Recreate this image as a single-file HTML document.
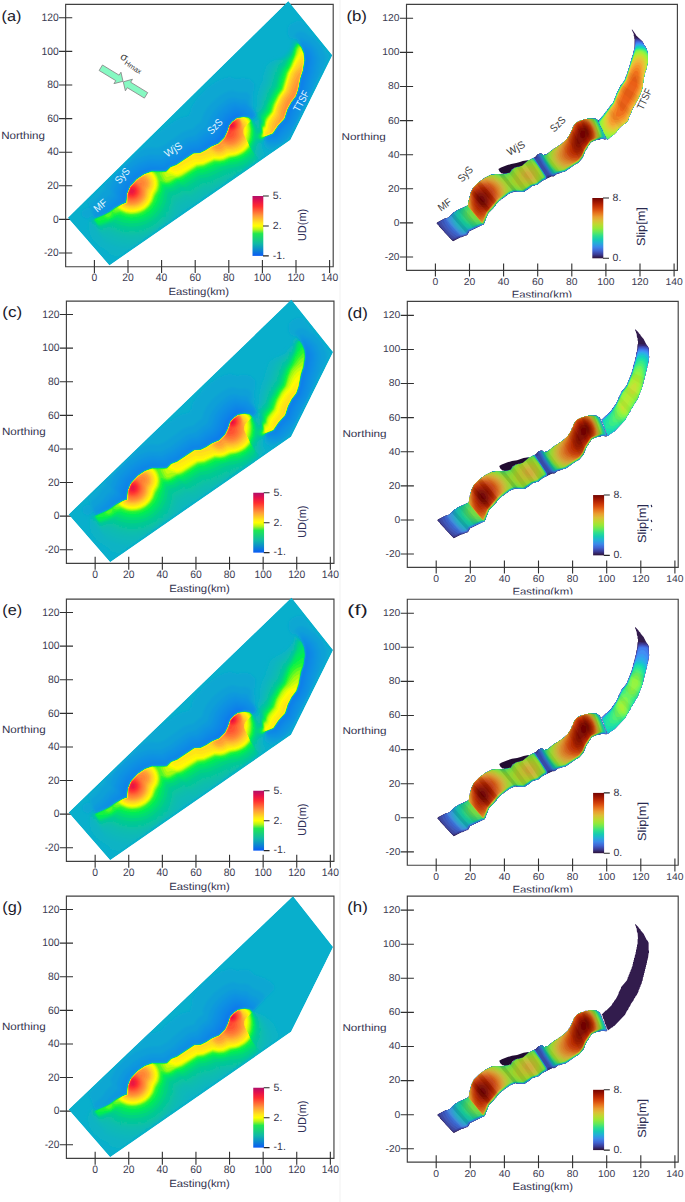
<!DOCTYPE html><html><head><meta charset="utf-8"><style>html,body{margin:0;padding:0;background:#fff}body{width:685px;height:1202px;overflow:hidden}svg{display:block}.tl{font-size:10.8px;fill:#3c3c52}.tr{font-size:9.9px;fill:#3c3c52}.al{font-size:10.4px;fill:#33334f}.al2{font-size:10px;fill:#33334f}.pl{font-size:14.9px;fill:#1a1a2a}.cb{font-size:10.5px;fill:#333348}.cbl{font-size:11.5px;fill:#303058}.cbr{font-size:11.8px;fill:#2a2a50}.fl{font-size:10.5px;fill:#e4f6ff}.fd{font-size:10.5px;fill:#3a3a3a}.sg{font-size:11px;fill:#333}</style></head><body>
<svg width="685" height="1202" viewBox="0 0 685 1202" font-family='"Liberation Sans", sans-serif' text-rendering="geometricPrecision">
<defs><filter id="bl" x="-5%" y="-5%" width="110%" height="110%"><feGaussianBlur stdDeviation="0.6"/></filter><filter id="b2" x="-5%" y="-5%" width="110%" height="110%"><feGaussianBlur stdDeviation="0.9"/></filter><filter id="b3" x="-5%" y="-5%" width="110%" height="110%"><feGaussianBlur stdDeviation="1.8"/></filter><linearGradient id="gud" x1="0" y1="0" x2="0" y2="1"><stop offset="0" stop-color="#b0106a"/><stop offset="0.08" stop-color="#e4104c"/><stop offset="0.17" stop-color="#ff2c30"/><stop offset="0.33" stop-color="#ff9a3a"/><stop offset="0.45" stop-color="#ffe81a"/><stop offset="0.5" stop-color="#ffff00"/><stop offset="0.56" stop-color="#b4f41a"/><stop offset="0.63" stop-color="#20e850"/><stop offset="0.8" stop-color="#10b8a8"/><stop offset="1" stop-color="#0a5af5"/></linearGradient><linearGradient id="gsl" x1="0" y1="0" x2="0" y2="1"><stop offset="0" stop-color="#710402"/><stop offset="0.0625" stop-color="#9c1401"/><stop offset="0.125" stop-color="#bf2b04"/><stop offset="0.1875" stop-color="#d84a0d"/><stop offset="0.25" stop-color="#e7741e"/><stop offset="0.3125" stop-color="#e99e30"/><stop offset="0.375" stop-color="#dbbf35"/><stop offset="0.4375" stop-color="#bdd930"/><stop offset="0.5" stop-color="#97e837"/><stop offset="0.5625" stop-color="#64e95a"/><stop offset="0.625" stop-color="#2edf8c"/><stop offset="0.6875" stop-color="#16cbb3"/><stop offset="0.75" stop-color="#25add9"/><stop offset="0.8125" stop-color="#3d88ea"/><stop offset="0.875" stop-color="#4163d1"/><stop offset="0.9375" stop-color="#3b3b95"/><stop offset="1" stop-color="#2d1136"/></linearGradient><clipPath id="ec"><rect x="400" y="280" width="285" height="17.5"/></clipPath><g id="rm"><g filter="url(#bl)"><path fill="#2c1745" d="M453 241.3l-13.8-14.8 0-.5-2.5-2.5 0-.5 .8-.8 7-3.6 1 0 .5-.5 1 0 2-1 5-5 1.5-.5 1-1 11-5 .5-.6 .5-4.5 .5-.5 0-1.5 .5-.5 0-1.5 .5-.5 .5-3 2.5-5 6.5-6.5 .5 0 1.5-1.5 .5 0 2.5-2 7-3.5 3 .1 .5-.5 8 0 .5-.5 3.5 0 .5-.5 2 0 3.1-3.6 2.4-1.9 6-1.6 1-1 2-1 4.5-3.9 1 0 3.5-2 2.5-1 .1-.6 2.4-2.4 1 0 .5-.5 2 0 1.5 1.5 1 0 .5-.5 2 0 5-4.1 .5 0 1.5-1.5 3.5-2 1-1 .5 0 1-1 .5 0 1-1 .5 0 5.5-5 1-2 1-1 .5-1.5 1-1 .5-2 1.5-2.5 0-1 1-2 3-3.5 4-2 2.5-.5 1.5-1 2.5 0 .5-.5 8 .1 3.9 2.4 0 1 1 1.5 0 1 1 1.5 0 1 1 1.5 0 1 1 1.5 0 1 1 1.5 0 1 1 1.5 0 1 1 2-.4 .4-2 0-.5-.5-3 0-.5 .5-4 .5-1.5 1-1 0-2 1-1.6 1.6 0 .5-2 2.5-.5 1.5-1 1-.5 1.5-1 1 0 1-1 1.5 0 1-1.5 3-4.4 4.9-3 1.5-10 7-1 .5-1.5 0-.5 .5-1 0-2 1-1.5 0-4 3-2-.1-9.5 4.6-5 4-1.5 0-2 1-1.5 0-3.5 3-3.5 2-1 1-8 0-.5-.5-1 0-.5 .5-2.5 .5-3 1.5-2.5 2-.5 0-1.5 1.5-.5 0-1.5 1.5-.5 0-2 2-.5 0-.6 1.1-2.5 2.5 0 .5-2.5 2.5 0 .5-5 5-1.5 3 0 1-1 1.5 0 1-1 1.5 0 1-1 2-.9 .9-1 0-13 6.5-1.1 2.6-1.4 1.4-1 0-4 1.9-1 0z"/><path fill="#322667" d="M454 240.5l-1 .5-4.1-4 0-.5-4.5-4.5 0-.5-5-5 0-.5-2.5-2.5 0-.5 7.6-4.2 1 0 .5-.5 1-.1 2-1 5-5 1.5-.5 1-1 11-5.1 .6-.6 .5-4.5 .5-.5 0-1.5 .5-.5 0-1.5 .5-.5 .5-3 2.5-5 6.4-6.4 .5 0 1.5-1.5 .5 0 2.5-2 7-3.5 3 0 .5-.5 8 0 .5-.5 3.5 0 .5-.5 2 0 3.1-3.6 2.4-1.9 6-1.5 1-1 2-1 4.5-4 1 0 3.5-1.9 2.5-.9 .3-.8 2.2-2.2 1-.1 .5-.5 2 0 1.5 1.5 1 0 .5-.6 2 0 5-4 .5 0 1.5-1.5 3.5-2 1-1 .5 0 1-1 .5 0 1-1 .5 0 5.6-5.1 1-2 1-1 .5-1.5 1-1 .5-2 1.5-2.5 0-1 1-2 2.9-3.4 4-2 2.5-.5 1.5-1 2.5 0 .5-.5 8 .1 3.8 2.3 0 1 1 1.5 0 1 1 1.5 0 1 1 1.5 0 1 1 1.5 0 1 1 1.5 0 1 1 1.5 0 1 .9 2-2.2 .2-.5-.4-3 0-.5 .5-4 .5-1.5 1-1 .1-2 .9-1.6 1.7-.1 .5-1.9 2.5-.6 1.5-.9 1-.6 1.5-.9 1-.1 1-.9 1.5-.1 1-1.5 3-4.3 4.8-3 1.5-10 7-1 .5-1.5 0-3.5 1.4-1.5 .1-1 .5-2 1.9-1 .5-2-.1-2.5 1.4-1 .1-2.5 1.6-3.5 1.6-5 4-1.5 0-2 1-1.5 0-3.5 3-3.5 2-1 1-8-.1-.5-.4-1 0-6 2.5-4.5 3.5-.5 0-1.5 1.5-.5 0-2 2-.5 0-3.2 3.7 0 .5-2.4 2.5-.1 .5-5 5-1.5 3 0 1-1 1.5 0 1-1 1.5 0 1-1.3 2.3-14.5 6.9-1.3 2.8-1.2 1.2-1 0-4 1.9-1 0z"/><path fill="#363789" d="M454 239.6l-2 .3-.5-.4-7.1-7.5 0-.5-4.9-5 0-.5-2.5-2.5 0-.5 7.5-4.2 1 0 .5-.5 1 0 2-1 5-5.1 1.5-.5 1-1 11-5 .6-.7 .5-4.5 .5-.5 0-1.5 .5-.5 0-1.5 .5-.5 .5-3 2.5-5 6.4-6.4 .5 0 1.5-1.5 .5 0 2.5-2 7-3.5 3 0 .5-.5 8 .1 .5-.5 3.5 0 .5-.5 2 0 3.1-3.7 2.4-1.9 6-1.5 1-1 2-1 4.5-3.9 1 0 3.5-2 2.5-.8 .4-.9 2.1-2.2 1 0 .5-.5 2-.1 1.5 1.5 1 0 .5-.5 2 0 5-4.1 .5 0 1.5-1.5 3.5-2 1-1 .5 0 1-1 .5 0 1-1 .5 0 5.6-5.1 1-2 1-1 .5-1.5 1-1 .5-2 1.5-2.5 0-1 1-2 2.9-3.4 4-2 2.5-.5 1.5-1 2.5 0 .5-.5 8 .1 3.7 2.3 .1 1 1 1.5 0 1 1 1.5 0 1 1 1.5 0 1 1 1.5 0 1 1 1.5 0 1 1 1.5 0 1 .9 2-5.7-.2-.5 .4-4 .6-1.5 1-1 0-2 1-1.7 1.7 0 .5-2 2.5-.5 1.5-1 1-.5 1.5-1 1 0 1-1 1.5 0 1-1.5 3-4.3 4.8-3 1.5-10 7-1 .4-1.5 .1-3.5 1.4-1.5 0-4 2.9-2 0-.5 .4-1.5 .2-4 2.5-3.5 1.6-5 3.9-1.5 .1-2 .9-1.5 .1-3.5 2.9-3.5 2.1-1 .9-8 0-.5-.4-1 0-6 2.5-4.5 3.5-.5 0-1.5 1.5-.5 0-2 2-.5 0-3.2 3.7 0 .5-2.5 2.5 0 .5-5 5-1.5 3 0 1-1 1.5 0 1-1 1.5 0 1-1.3 2.3-14.5 6.8-1.4 2.9-1.1 1.1-1 0-1.5 1-1 0-1.5 .9-1 .1-1.5 .9z"/><path fill="#3945a2" d="M454.5 238.5l-2.3 0-5.7-5-5.7-7-2.3-4.5 6-3.1 1 0 .5-.6 1 0 2-1 5-5 1.5-.6 1-1 4-2 1 0 6-3 .6-.7 .5-4.5 .5-.5 0-1.5 .5-.5 0-1.5 .5-.5 .5-3 2.5-5 6.4-6.4 .5 0 1.5-1.5 .5 0 2.5-2 7-3.4 3 0 .5-.5 8 0 .5-.5 3.5 0 .5-.5 2 0 3.2-3.7 .8-.3 1.5-1.5 6-1.5 1-1 2-1 4.5-4 1 0 3.5-2 2.5-.7 2.5-3.1 1-.1 .5-.5 2-.1 1.5 1.5 1 0 .5-.5 2 0 5-4 .5 0 1.5-1.6 3.5-2 1-1 .5 0 1-1 .5 0 1-1 .5 0 5.6-5.1 1-2 1-1 .5-1.5 1-1 .5-2 1.5-2.5 0-1 1-2 2.9-3.4 4-2 2.5-.5 1.5-1 2.5 0 .5-.5 8 .1 2 1.5 1.7 .8 0 1 2 4 .1 1 .9 1.5 .1 1 .9 1.5 .1 1 .9 1.5 .1 1 .9 1.5 0 1 .9 2-5.6-.3-.5 .5-4 .6-1.5 1-1 0-2 1-1.7 1.7 0 .5-2 2.5-.5 1.5-1 1-.5 1.5-1 1 0 1-1 1.5 0 1-1.5 3-4.3 4.8-3 1.5-4 2.9-.5 .1-1.5 1.4-5 3-1.5 0-3.5 1.5-1.5 0-4 2.8-4.5-.1-1.5 .8-.6 .3-.4 1.6-4.5 2.1-5 4-1.5 .1-2 .9-1.5 0-3.5 3-4.5 3-8 0-.5-.5-1 0-6 2.5-4.5 3.5-.5 .1-1.5 1.4-.5 .1-2 2-.5 0-3.2 3.7 0 .5-2.5 2.5 0 .5-5 5-1.5 3 0 1-1 1.5 0 1-1 1.5-.1 1-1.2 2.3-14.5 6.8-1.4 2.9-1.1 1-1 .1-3 1.4z"/><path fill="#3b52b6" d="M455 237.5l-4.5-3.1-5-5.3-2.9-4.1-1.7-4 3.6-2.1 1 0 .5-.5 1 0 2-1.1 5-5 1.5-.5 1-1 11-5.1 .6-.7 .5-4.5 .5-.5 0-1.5 .5-.5 0-1.5 .5-.5 .5-3 2.5-5 6.4-6.4 .5 0 1.5-1.5 .5 0 2.5-2 7-3.4 3 0 .5-.5 8 0 .5-.5 3.5 0 .5-.5 2 0 3.2-3.7 .8-.3 1.5-1.5 6-1.5 1-1 2-1 4.5-4 1 0 4.5-2.3 2.5 .8 1-.6-.6-2.1 1.1-1.6 1 0 .5-.6 2 0 1.5 1.4 1 0 .5-.5 2 0 5-4 .5 0 1.5-1.5 3.5-2 1-1 .5 0 1-1 .5-.1 1-1 .5 0 5.6-5.1 1-2 1-1 .5-1.5 1-1 .5-2 1.5-2.5 0-1 1-2 2.9-3.4 4-2 2.5-.5 1.5-1 2.5 0 .5-.5 8 .1 2 1.6 1.7 .7 0 1 2 4 0 1 1 1.5 0 1 1 1.5 0 1 1 1.5 0 1 1 1.5 0 1 .9 1.5 0 .5-5.6-.3-.5 .4-4 .7-1.5 .9-1 .1-2 1-1.7 1.7-2 3-.6 1.5-.9 1-.6 1.5-.9 1-.1 1-2.5 5.5-4.2 4.7-3 1.6-4.5 2.9-1.5 1.5-5 3-1.5 0-3.5 1.4-1.5 .1-3 2.3-1 .4-5.5-.8-1.5 1.1 0 2.3-4.5 2.2-5 4-1.5 0-2 1-1.5 0-3.5 3-4.5 2.9-8 0-.5-.4-1 0-6 2.5-4.5 3.5-.5 0-1.5 1.5-.5 0-2 2-.5 .1-3.2 3.7-.1 .5-2.4 2.5-.1 .5-4.9 5-4.8 11.2-1.5 .5-13 6.3-1.5 3-1 .9z"/><path fill="#3c62c8" d="M553.5 175.5l-3.9-1-1.7-2-5.8-8.5-4.6-9 2-1.1 2-.1 1.5 1.5 1 0 .5-.6 2 0 5-4 .5 0 1.5-1.5 3.5-2 1-1 .5 0 1-1 .5 0 1-1 .5 0 2-2 .5 0 3.1-3.2 1-2 1-1 .5-1.5 1.5-2 0-1 1.5-2.5 0-1 1-2 2.9-3.4 4-2 2.5-.5 1.5-1 2.5 .1 .5-.5 8 .1 2 1.5 1.5 .6 .2 1.1 1 1.5 0 1 1 1.5 0 1 1 1.5 0 1 1 1.5 0 1 1 1.5 0 1 1 1.5 0 1 .9 1.5-.1 .5-2 0-.5-.4-3 0-.5 .5-4 .6-1.5 1-1 .1-2 .9-1.7 1.8-2 3-.6 1.5-.9 1-.6 1.5-.9 1-.1 1-2.5 5.5-4.2 4.7-4.5 2.5-7.5 5.4-2 1-1.5 .1-3.5 1.4-1.5 0-2.5 1.9zM459 236l-2 .2-1.5-.9-3-2.2-3.3-3.1-4.2-6-1.5-4.5 5.5-2.1 5-5.1 1.5-.5 1-1 11-5.1 .7-.7 0-2 .5-.5 0-2 .5-.5 0-1.5 .4-.5 .5-3.5 3-6.5 6.4-6.4 .5 0 1.5-1.4 .5 0 2.5-2 7-3.5 3 0 .5-.5 8 0 .5-.5 3.5 0 .5-.5 2 0 3.2-3.7 .8-.3 1.5-1.5 6-1.5 1-1 2-1 4.5-4 1 0 2.5-1.5 2.2-.7 6.2 9 4.9 8 .6 1 .4 2.5-4.3 2.1-5 4-1.5 .1-2 .9-1.5 .1-3.5 2.9-4.5 3-8 0-.5-.4-1 0-6 2.5-4.5 3.5-.5 0-1.5 1.5-.5 0-2 2-.5 0-3.3 3.8 0 .5-2.4 2.5-.1 .5-5 5-4.7 11.2-1.5 .4-13 6.4-1.8 3-.7 .4-3.5 1.1z"/><path fill="#3c6fd3" d="M554 175.1l-1.5 0-1.5-.5-1.6-1.6-6.2-9-5-9.5 .8 0 .5-.6 2-.1 1.5 1.5 1 0 .5-.5 2-.1 5-4 .5 0 1.5-1.5 3.5-2 1-1 .5 0 1-1 .5 0 1-1 .5 0 2-2 .5 0 3.2-3.2 1-2 1-1 .5-1.5 1.5-2 0-1 1.5-2.5 0-1 1-2 2.8-3.4 4-1.9 2.5-.5 1.5-1 2.5 0 .5-.5 8 .1 2 1.5 1.5 .6 .1 1.1 1 1.5 .1 1 .9 1.5 .1 1 .9 1.5 .1 1 .9 1.5 .1 1 .9 1.5 .1 1 .9 1.5 0 1 .9 1.8-5.5-.2-.5 .5-4 .6-1.5 1-1 0-2 1-1.8 1.8-2 3-.5 1.5-1 1-.5 1.5-1 1 0 1-2.5 5.5-4.2 4.7-4.5 2.5-7.5 5.4-2 1-1.5 0-3.5 1.4-1.5 .1zM463 235.1l-4 .2-6-4.7-4.6-5.6-3.1-6 3.7-1.6 5-5 1.5-.6 1-1 4-2 1 0 5-2.5 1.7-1.3 0-2 .5-.5 0-2 .5-.5 0-1.5 .5-.5 .5-3.5 2.9-6.5 6.4-6.3 .5 0 1.5-1.5 .5 0 2.5-2 7-3.5 3 0 .5-.5 8 .1 .5-.5 3.5-.1 .5-.5 2 0 3.2-3.7 .8-.3 1.5-1.5 6-1.5 1-1 2-1 4.5-4 1 0 2.5-1.4 2-.7 11.7 17.9 .3 2.5-4 2.1-5 4-5 1.1-3.5 2.9-4.5 3-8-.1-.5-.4-1 0-4 1.5-5 3.1-7 5.5-.3 .8-2.5 2.5 0 .5-2.5 2.5 0 .5-5 5-4.7 11.2-14.5 6.4-2.5 3.4z"/><path fill="#387ed8" d="M554.5 174.5l-2 .3-1.6-.8-.9-1.1-6.5-9.6-4.6-8.8 .6-.5 2-.1 1.5 1.4 1 0 .5-.5 2 0 7-5.6 3.5-2 1-1 .5 0 1-1 .5 0 1-1 .5 0 2-2 .5 0 3.2-3.2 1-2 1-1 .5-1.5 1.5-2 0-1 1.5-2.5 0-1 1-2 2.8-3.3 4-2 2.5-.5 1.5-1 2.5 0 .5-.5 8 .1 2 1.6 1.5 .5 .1 1.1 1 1.5 0 1 1 1.5 0 1 1 1.5 0 1 1 1.5 0 1 1 1.5 0 1 1 1.5 .4 2.5-3.5-.1-4 .7-6.5 2.6-1.8 1.8-2 3-.5 1.5-1 1-.5 1.5-1 1 0 1-2.5 5.5-4.2 4.6-3 1.6-10 6.9-6 1.8-1.5 .1zM463.5 234.6l-3 .3-5-4.1-5.6-6.3-3.2-6 2.3-1 5-5.1 1.5-.5 1-1 4-2.1 1 0 5-2.5 1.7-1.3 0-2 .5-.5 0-2 .5-.5 0-1.5 .5-.5 .5-3.5 3-6.5 6.3-6.3 .5 0 1.5-1.5 .5 0 2.5-2 7-3.5 3 0 .5-.4 8 0 .5-.5 3.5 0 .5-.5 2 0 3.3-3.8 .7-.2 1.5-1.6 3-.5 .5-.5 1.5 0 3.5-2.5 .5 0 4.5-3.9 1 0 3.5-2 1 0 11.5 17.7 .4 2-.4 .9-3.5 1.7-5 3.9-5 1.1-3.5 2.9-4.5 3-7.2 0-2.3-.4-4 1.5-5 3-7 5.6-.4 .8-2.4 2.5 0 .5-2.5 2.5 0 .5-5 5-4.7 11.1-15 6.4-2 3.1z"/><path fill="#318bd6" d="M555 174.1l-2.5 .3-.9-.4-.8-1-6.8-10-4.5-9 2-.1 1.5 1.5 1-.1 .5-.5 2 0 7-5.6 3.5-2 1-1 .5 0 1-1 .5 0 1-1 .5 0 2-2 .5 0 3.2-3.2 1-2 1-1 .5-1.5 1.5-2 0-1 1.5-2.5 0-1 1-2 2.8-3.3 4-2 2.5-.5 1.5-1 2.5 0 .5-.5 8 .1 2 1.6 1.5 .6 .1 1 1 1.5 0 1 1 1.5 0 1 1 1.5 0 1 1 1.5 0 1 1 1.5 0 1 1 1.5 .4 2.2-3.5 0-2.2 .8-1.8 .1-6.5 2.6-1.8 1.8-2 3-.6 1.5-.9 1-.6 1.5-.9 1-.1 1-2.5 5.5-4.1 4.6-3 1.5-10 7-8.5 2.1zM464 234l-2.5 .3-6-5-4.8-5.8-1.9-3.5-.4-2 .1-.5 .5 0 5-5.1 1.5-.5 1-1 4-2 1-.1 5-2.5 1.7-1.3 0-2 .5-.5 0-2 .5-.5 0-1.5 .5-.5 .5-3.5 3-6.5 6.3-6.3 .5 0 1.5-1.5 .5 0 2.5-2 7-3.4 3 0 .5-.5 8 0 .5-.5 3.5 0 .5-.5 2 0 3.3-3.8 .7-.2 1.5-1.5 3-.5 .5-.5 1.5 0 3.5-2.5 .5 0 4.5-4 1 0 3.5-1.9 .9 .1 11.5 17.5 .3 2-.2 .6-3.5 1.9-5 4-5 1.1-3.5 2.9-4.6 3-9.4-.4-4 1.4-5 3.1-7 5.5-.4 .9-2.4 2.5-.1 .5-2.4 2.5-.1 .5-4.9 5-4.7 11.1-15 6-2 2.9z"/><path fill="#2897cf" d="M554 174l-1.5 .1-.5-.4-3.2-4.2-5.4-8.5-3.4-7 1.5-.1 1.5 1.5 1 0 .5-.6 2 0 7-5.5 3.5-2.1 1-1 .5 0 1-1 .5 0 1-1 .5 0 2-2 .5 0 3.2-3.2 1-2 1-1 .5-1.5 1.5-2 0-1 1.5-2.5 0-1 1-2 2.8-3.3 4-2 2.5-.5 1.5-1 2.5 0 .5-.5 8 .2 3.3 2.1 6.7 16.8-3.5 .2-4 1.1-.5 .4-1.5 .1-1.5 1-1 .1-2 .9-1.8 1.9-2 3-.6 1.5-.9 1-.6 1.5-.9 1-.1 1-2.5 5.5-4.1 4.6-3 1.5-10 6.9-8.5 2zM464.5 233.5l-1.5 0-3.5-2.2-2.7-2.3-3.2-3.5-2.6-4.5-.5-2 0-3 3.5-3.6 1.5-.5 1-1 4-2 1 0 5-2.6 1.7-1.3 0-2 .5-.5 0-2 .5-.5 0-1.5 .5-.5 .5-3.5 3-6.5 6.3-6.3 .5 0 1.5-1.5 .5 0 2.5-2 7-3.4 3 0 .5-.5 8 0 .5-.5 3.5 0 .5-.5 2 0 3.3-3.8 .7-.2 1.5-1.5 3-.5 .5-.5 1.5 0 3.5-2.5 .5 0 4.5-4 1 0 3.5-1.9 .8 .1 11.4 17.5 .3 2.3-3.5 2.2-5 3.9-5 1.2-8.5 5.9-9-.5-4 1.5-5 3.1-7 5.5-2.9 3.4 0 .5-2.4 2.5-.1 .5-5 5-4.6 11.1-1.5 .2-14 5.7-2 2.9z"/><path fill="#1ea5c2" d="M554.5 173.6l-2 0-3.1-4.1-5.7-9-3.1-6.5 .9-.1 1.5 1.5 1 0 .5-.5 2-.1 7-5.5 3.5-2 1-1 .5 0 1-1 .5-.1 1-1 .5 0 2-2 .5 0 3.2-3.2 1-2 1-1 .5-1.5 1.5-2 0-1 1.5-2.5 0-1 1-2 2.8-3.3 4-2 2.5-.5 1.5-1 2.5 0 .5-.5 8 .2 2.5 1.6 3 5.5 0 1 1 1.5 0 1 1 1.5 0 1 1 1.5 0 1 .9 1.5 .4 1.5-3.8 .4-4.2 1.6-1.3 .1-1.5 1-1 0-2 1-1.9 1.9-2.5 4.5-1 1-.5 1.5-.9 1-.1 1-2.5 5.5-4.1 4.6-3 1.5-10 6.8-8.5 1.9zM466 232.2l-.5 .3-2.5-.9-2.5-1.4-2.5-2-2.9-3.2-2.2-4.5-.3-6.5 1.4-1.5 1.5-.5 1-1.1 10-4.5 1.7-1.4 0-2 .5-.5 0-2 .5-.5 0-1.5 .5-.5 .5-3.5 3-6.5 6.3-6.3 .5 0 1.5-1.5 .5 0 2.5-2 7-3.4 3 0 .5-.5 8 0 .5-.4 3.5-.1 .5-.5 2 0 3.3-3.8 .7-.2 1.5-1.5 3-.5 .5-.5 1.5 0 3.5-2.5 .5 0 4.5-4 1 0 2.5-1.4 1.6-.4 10.6 16 1.2 2 .1 1.5-3.8 2.5-4.3 3.5-5.4 1.5-8.5 5.8-9-.4-1.5 .3-2.9 1.3-4.6 3-7 5.6-2.9 3.4 0 .5-2.5 2.5 0 .5-5 5-4.6 11.1-1.5-.1-14 5.6z"/><path fill="#17b0b5" d="M555 173.1l-2 .2-3.1-3.8-5.7-9-3.1-6.5 1.9 1.4 1 0 .5-.5 2 0 7-5.6 3.5-2 1-1 .5 0 1-1 .5 0 1-1 .5 0 2-2 .5-.1 3.2-3.2 1-2 1-1 .5-1.5 1.5-2 0-1 1.5-2.5 0-1 1-2 2.8-3.3 4-2 2.5-.5 1.5-1 2.5 0 .5-.4 3 0 5 .1 1 .6 1.5 1.5 3.8 7.5 2.1 5.5 .6 3.3-3 .4-5.5 1.9-4.9 2.4-1.5 1.5-5 8 0 1-2.6 5.5-4 4.5-3 1.6-10 6.6zM467.5 229.5l-.5 .5-1.5-.1-3-.9-2.3-1.5-2-2-1.5-2-1.8-4.5-.5-3.5 .2-2.5 .4-1 .5 0 1-1 10-4.6 1.8-1.4 0-2 .5-.5-.1-2 .5-.5 0-1.5 .5-.5 .5-3.5 3-6.5 6.3-6.3 .5 0 1.5-1.5 .5 0 2.5-1.9 7-3.5 3 0 .5-.5 8 .1 .5-.5 3.5 0 .5-.5 2-.1 3.3-3.8 .7-.2 1.5-1.5 6-1.5 1-1 2-1 4.5-4 1 0 2.5-1.4 1.4-.4 10.7 16 1.2 2-.1 1.5-8.2 6-5.5 1.6-8.5 5.7-9-.5-1.5 .4-3.5 1.7-7.5 5.6-2 2-.5 .1-5.9 6.9-.1 .5-4.9 5-4.6 11-1.5-.2z"/><path fill="#14bca5" d="M554 173.1l-.7-.1-.8-1-4-5.3-3.8-6.2-2.6-5.5 .9 .5 1-.1 .5-.5 2 0 7-5.6 3.5-2 1-1 .5 0 1-1 .5 0 1-1 .5 0 2-2 .5 0 3.3-3.3 .9-2 1-1 .5-1.5 1.5-2 0-1 1.5-2.5 0-1 1-2 2.8-3.3 4-2 2.5-.5 1.5-1 2.5 .1 .5-.5 3 0 5 .1 1 .6 1.7 2.5 3 6 2 5.5 .8 3.5-2.5 .5-5.5 2-5 2.5-1.4 1.5-5 8-.1 1-2.5 5.5-4 4.5-3 1.5-10 6.5zM469 228.5l-5.5-1.9-3.5-2.7-1.5-2.1-1.3-2.8-.7-2.5-.1-3 .4-2.5 .7-.5 9-4.1 1.8-1.4 0-2 .5-.5 0-2 .5-.5 0-1.5 .4-.5 .5-3.5 3-6.5 6.3-6.2 .5-.1 1.5-1.4 .5 0 2.5-2 6-3 1-.5 3 0 .5-.4 8 0 .5-.5 3.5 0 .5-.5 2 0 3.4-3.9 .6-.1 1.5-1.6 6-1.5 1-1 2-1 4.5-3.9 1 0 3.7-1.9 10.7 16 1.2 2-.1 1.3-8 6-5.6 1.7-8.4 5.6-9-.4-1.5 .3-3.5 1.7-10 7.8-5.9 7-.1 .5-4.9 5-4.6 11-1.5-.4z"/><path fill="#17c399" d="M555 172.5l-1.5-.2-4-4.9-3.4-5.4-3.3-6.5 1.2 0 .5-.6 2 0 7-5.6 3.5-2 1-1 .5 0 1-1 .5 0 1-1 .5 0 2-2 .5 0 3.3-3.3 1-2 1-1 .5-1.5 1.5-2 0-1 1.4-2.5 0-1 1-2 2.8-3.3 4-2 2.5-.5 1.5-.9 2.5 0 .5-.5 3 0 5 .2 .8 .5 5.1 10 1.3 4 .7 3.5-1.9 .3-8 3.3-2 .9-1 1-5.9 9-.1 1-2.5 5.4-3.5 4.1-13.8 8.5zM471 227.5l-3-.9-2.5-1.3-4-3.3-1.5-2-1.1-2.5-.6-4.5 1.2-3.5 2-.5 5-2.6 1.8-1.4 0-2 .5-.5 0-2 .5-.5 0-1.5 .5-.5 .5-3.5 2.9-6.5 6.3-6.2 .5 0 1.5-1.5 .5 0 3.5-2.5 6-3 3 .1 .5-.5 8 0 .5-.5 3.5 0 .5-.5 2 0 3.4-3.9 .6-.1 1.5-1.5 6-1.6 1-.9 2-1 4.5-4 1 0 3.6-1.9 9.5 14 2.4 4 0 1.1-8 6-5.9 1.9-8.1 5.4-9-.4-2 .5-3.5 1.8-9.5 7.7-6.1 7.5-4.9 5-4.5 10.7-1.9-.2z"/><path fill="#21ca8b" d="M555.5 172.1l-1 .1-1-.8-3.5-4.1-3.7-5.8-3-6 .7 0 .5-.5 2-.1 7-5.5 3.5-2.1 1-1 .5 0 1-1 .5 0 1-1 .5 0 2-2 .5 0 3.3-3.3 1-2 1-1 .5-1.5 1.5-2 0-1 1.5-2.5 0-1 1-2 2.7-3.2 4-2 2.5-.5 1.5-1 2.5 0 .5-.5 8 .2 2.7 4.5 2.7 6 1.6 5.5 0 1.9-9 3.6-3 1.8-5.9 9.2-2.1 5.5-4 4.9-14 8.5zM473 226.5l-3.5-1-4.8-3-3-3.5-.9-2-.6-3 .3-2.5 1-2.5 6-3.1 .8-.9 0-2 .5-.5 0-2 .5-.5 0-1.5 .5-.5 .5-3.5 3-6.5 6.2-6.2 .5 0 1.5-1.5 .5 0 2.5-2 5-2.5 2-.9 3 0 .5-.5 8 0 .5-.5 3.5 0 .5-.5 2 0 3.4-3.9 .6-.1 1.5-1.5 6-1.5 1-1 2-1 4.5-4 1 0 3.5-1.7 9.4 13.8 2.4 4-.1 1-7.7 5.9-6 1.9-8 5.4-9.5-.3-5 2.2-10 8.3-5.7 7.1-4.8 5-4.5 10.5-.5 .3-1.5-.5z"/><path fill="#33d079" d="M558.5 171.6l-3.5 0-3.5-3.2-3.5-4.9-2.9-5-.9-2.5 .3-1 2 0 1-1.1 .5 0 5.5-4.5 3.5-2.1 1-1 .5 0 1-1 .5 0 1-1 .5 0 5.5-5 2.3-3.3 .5-1.5 1-1 .5-2 1.5-2.5 0-1 1-2 2.7-3.2 4-2 2.5-.5 1.5-1 2.5 0 .5-.5 7.5 .2 2 3 2.7 5.5 1.9 5.5 .5 3.5-11.6 5.7-6 9.3-2 5.3-3.7 4.7-14.3 8.7zM476.5 225l-1.5 .3-3.4-.8-2.6-1.1-2.2-1.4-2.1-2-1.3-2-1.1-3.5 .4-3.5 1.1-2.5 1.3-1.5 2.4-1.1 .8-.9 0-2 .5-.5 0-2 .5-.5 0-1.5 .5-.5 .5-3.5 3-6.5 6.2-6.2 .5 0 1.5-1.5 .5 0 2.5-2 7-3.4 3 0 .5-.5 8 .1 .5-.5 3.5-.1 .5-.5 2 0 3.4-3.9 .6-.1 1.5-1.5 3-.5 .5-.5 1.5 0 3.5-2.5 .5 0 4.5-4 1 0 2.5-1.4 1-.1 9.3 13.6 2.4 4-.2 .9-7.5 5.8-6 1.9-8.5 5.6-9-.5-2.5 .8-2.6 1.5-9.9 8.2-5.9 7.3-4.6 5-4.7 10.5-.8 .1-1-.5z"/><path fill="#45d467" d="M557.5 171.6l-1.5-.1-3-2.4-2.5-2.8-4.6-7.3-.7-2-.2-2 1.5 0 7-5.6 3.5-2 1-1 .5 0 1-1 .5-.1 1-1 .5 0 5.8-5.3 1-2 1-1 .5-1.5 1-1 .5-2 1.5-2.5 0-1 1-2 2.7-3.2 4-2 2.5-.5 1.5-1 2.5 0 .5-.5 6.8 .2 2.7 3.8 2 4.2 1.9 5.5 .7 4-11.1 5.5-6 9.5-2 5.1-3.9 4.9-14.1 8.5zM478.5 224l-1.5 .1-3-.6-5.3-2.5-2.1-2-1.3-2-.7-2-.1-2.5 .4-2 2.6-3.5-.4-1 1.2-1 0-2 .5-.5 0-2 .5-.5 0-1.5 .5-.5 .5-3.5 3-6.5 6.2-6.2 .5 0 1.5-1.5 .5 0 2.5-2 7-3.4 3 0 .5-.5 8 .1 .5-.5 3.5 0 .5-.5 2 0 3.4-4 .6-.1 1.5-1.5 3-.5 .5-.5 1.5 0 3.5-2.5 .5 0 4.5-3.9 1 0 2.5-1.5 1 .5 2.5 2.9 4 5.9 5.1 8.2-.1 .6-8 6.2-5.5 1.6-8.5 5.6-9-.4-2.9 .9-2.6 1.5-9.5 8-6 7.4-4.5 4.9-4.9 10.7-1.6-.6z"/><path fill="#5dd754" d="M559.5 171l-3 .1-5-4.6-4.4-6.5-1-3 .1-2 1.8-1 1.5-1.5 .5-.1 1.5-1.5 .5 0 1.5-1.5 3.5-2 1-1 .5 0 1-1 .5 0 1-1 .5 0 5.8-5.4 1-2 1-1 .5-1.5 1-1 .5-2 1.5-2.5 0-1 1-2 2.7-3.2 4-2 2.5-.5 1.5-1 2.5 0 .5-.5 6.2 .2 2.6 3.5 2.3 4.5 1.8 5.5 .6 4-10.5 5.4-5.5 8.6-2.6 6-3.9 4.9-14 8.4zM483 223.4l-2-.9-5.5-.3-3-1.1-2-1.3-1.9-1.8-1.2-2-.7-2 .2-2.5 1.8-3-.2-1-1.1-1.5 1-1 0-2 .4-.5 0-2 .5-.5 0-1.5 .5-.5 .5-3.5 3-6.5 6.2-6.2 .5 0 1.5-1.5 .5 0 2.5-1.9 7-3.5 3 0 .5-.4 4.7 0 3.3 .6 2.7-1.1 1.3 0 .5-.5 2 0 3.5-4 .5 0 1.5-1.5 6-1.6 1-1 2-1 4.5-3.9 1 0 1.5-1 1 0 2 1.5 4 5.2 5.5 8.7 .7 1.6-.3 1-2.9 1.8-4.5 3.8-5.5 1.7-8.5 5.5-9-.5-4 1.6-3 2-8.2 7.1-5.6 7-5 5.5z"/><path fill="#70d945" d="M558.5 171.1l-1.5-.4-3-2.4-4.8-5.8-1.4-2.5-.7-2.5 .6-3.5 3.8-3.1 .5 0 1.5-1.5 3.5-2 1-1 .5 0 1-1 .5 0 1-1 .5 0 5.8-5.4 1-2 1-1 .5-1.5 1-1 .5-2 1.5-2.5 0-1 1-2 2.7-3.2 4-2 2.5-.5 1.5-1 2.5 .1 .5-.5 5.5 .1 3 3.9 2.1 4.1 1.8 5.5 .6 4-10 5.2-5.5 8.6-2.7 6.2-3.8 4.7-14 8.4zM483 223.2l-.5 .1-1-.6-2.5-2.1-3.3-.6-3.2-1.4-1.8-1.6-1.1-2 0-2.5 .8-2.5-2.9-4 .9-1 0-2 .5-.5 0-2 .4-.5 0-1.5 .5-.5 .5-3.5 3-6.5 6.2-6.2 .5 0 1.5-1.4 .5 0 2.5-2 7-3.5 3 .1 .5-.5 1.5 0 7.5 2 5.8-3 1.7-2 0-.5 3.5-3 6-1.6 1-1 2-.9 4.5-4 3-.2 1.6 .7 2.9 2.7 4 5.8 2.4 4 1.3 3.5-.1 .5-2.6 1.6-4.5 3.8-5.5 1.7-8.5 5.5-4.3-.1-3.7-.8-4.5 1.7-3.5 2.3-8.4 7.3-5.6 7-4.6 5z"/><path fill="#82d838" d="M560 170.6l-1.6-.1-2.9-1.7-2.9-2.8-2.6-3.5-1.8-4 .2-2.5 .7-3 4.4-3.6 3.5-2 1-1 .5 0 1-1 .5 0 1-1 .5 0 5.9-5.4 1-2 .9-1 .5-1.5 1-1 .5-2 1.5-2.5 0-1 1-2 2.7-3.2 4-2 2.5-.5 1.5-.9 2.5 0 .5-.5 4.9 .1 3.1 4 2.5 5 1.6 5 .4 3.5-.3 .5-9.2 4.6-5.5 8.4-2.9 6.5-3.6 4.6-14 8.4zM483 223l-.5 .2-1.2-.7-4.3-4.6-3-2.3-1-2.6-5.3-7 .7-1 0-2 .5-.5 0-2 .5-.5 0-1.5 .5-.5 .4-3.5 3-6.5 6.2-6.1 .5 0 1.5-1.5 .5 0 2.5-2 7-3.4 3 0 .5-.3 10.5 3.5 5.3-3.7 2.7-5 1.5-1.5 6-1.5 1-1 2-1 3-2.7 2-.3 3.5 .1 1.5 .9 3.5 3.8 2.8 4.2 2.2 4.5 .4 2.5-6.4 5.2-6 2-8.3 5.3-1.5 0-7.9-2.5-1.8 2.5-5.5 3.8-7.1 6.2-6.1 7.5-4.6 5z"/><path fill="#92d530" d="M561.5 170.1l-2.5-.4-3.9-2.2-2.1-2.1-2.5-3.4-1.1-4 .3-3 .8-3 3-2.5 3.5-2.1 1-1 .5 0 1-1 .5 0 1-1 .5 0 5.9-5.4 1-2 1-1 .5-1.5 1-1 .5-2 1.4-2.5 0-1 1-2 2.7-3.2 4-2 2.5-.5 1.5-.9 2.5 0 .5-.5 4.3 .1 3.1 4 2.2 4 1.8 5.5 .4 4.5-8.8 4.5-5.6 8.5-2.9 6.5-3.5 4.4-14 8.4zM482.5 223.1l-1-.6-6.8-7.5-6.9-9 .6-1 0-2 .5-.5 0-2 .5-.5 0-1.5 .5-.5 .5-3.5 2.9-6.5 6.2-6.1 .5 0 1.5-1.5 .5 0 2.5-2 7-3.4 2.3 0 9.2 3.6 4.5 2.5 .4-.1 1.7-3 2.2-2 3.2-6.3 2.2-2.2 .8 0 .5-.5 1.5 0 5-3.4 2.5-.6 2.5-.2 3.5 .5 1 .5 4.3 5.2 2.8 5.5 .4 1-1.7 3.5-4.3 3.8-5.5 1.7-5.5 3.5-3.5 1-3.3-1-7.7-3.6 0 2.1-1.5 4.5-5 3.8-5.8 5.2-5.7 7.1-4.9 5.4-4.6 10.2z"/><path fill="#a0d02c" d="M563 169.6l-2-.1-4.5-2.2-2.2-1.8-2.3-3-1.1-2.5-.3-2.5 .3-3 1-3.5 1.6-1.5 3.5-2 1-1.1 .5 0 1-1 .5 0 1-1 .5 0 5.9-5.4 1-2 1-1 .5-1.5 1-1 .5-2 1.5-2.5 0-1 1-2 2.6-3.1 4-2 2.5-.5 1.5-1 2.5 0 .5-.5 3.7 .1 3.2 4 2.2 4 1.8 5.5 .5 4.5-8.6 4.5-5.5 8.5-2.8 6.3-3.5 4.4-13.5 8.1zM521.5 187l-2 .1-4.9-2.6-2-2-.7-1.5 .3-2 .8-1.1 3.4-7.9 6.1-4.4 1.5-.5 3.5-.7 3.5-.1 4.5 1.5 3 3.8 1.8 3.9-2 7-2.3 2.1-5.5 1.6-3 1.7zM482.5 223l-1-.6-6.2-6.9-6.3-8-1.1-1.5 0-.5 .5-.5 0-2 .5-.5 0-2 .5-.5 0-1.5 .5-.5 .5-3.5 3-6.5 6.1-6.1 .5 0 1.5-1.5 .5 0 2.5-2 7-3.3 7.5 2.9 5.6 3 1.9 1.6 1.4 2.4-.1 6-.6 1-9.2 8-5.6 7-4.9 5.4z"/><path fill="#aec82c" d="M564 169.1l-1.5 0-5.2-2.6-3.3-3-1.2-2-.7-2.5-.2-2.5 .4-3 1.2-4 3.5-2 1-1 .5 0 1-1 .5-.1 1-1 .5 0 5.9-5.4 1-2 1-1 .5-1.5 1-1 .5-2 1.5-2.5 0-1 1-2 2.6-3.1 4-2 2.5-.5 1.5-1 2.5 0 .5-.5 3.1 .1 3.2 4 2.3 4 1.8 5.5 .5 4.5-8.2 4.5-5.5 8.5-2.7 6.1-3.5 4.5zM526 184.5l-8-.1-2.1-1.9-.7-2 .5-3.5 1.3-4.5 1.6-2.5 4.9-3.5 5.5-.6 3.5 .6 3 1.8 1.5 1.7 .9 2 .1 2.5-.4 3.5-1.2 4-3.9 1.5zM482.5 222.9l-1-.6-5.6-6.3-6.8-8.5-1.2-2 .5-.5 0-2 .5-.5 0-2 .5-.5 0-1.5 .5-.5 .5-3.5 3-6.5 6.1-6.1 .5 0 1.5-1.5 .5 0 2.5-2 5-2.4 2 0 2.5 .6 4 1.9 2.6 1.5 3.6 3 1.4 2 .8 2 .3 2.5-.3 2.5-8.6 8-5.6 7-4.7 5.2z"/><path fill="#bac02e" d="M564.5 168.5l-3-.8-2.9-1.7-2.1-1.7-2.4-3.3-.8-2.5-.2-2.5 .5-3.5 .9-2.5 .8-1.5 1.2-1 3.5-2 1-1 .5 0 5.9-5.5 1-2 1-1 .5-1.5 1-1 .5-2 1.5-2.5 0-1 1-2 2.6-3.1 4-2 2.5-.5 1.5-1 5.5-.4 3.3 4 2.3 4 1.8 5.5 .5 4.5-7.8 4.5-5.3 8-2.8 6.4-3.5 4.5zM532.5 182.5l-4.5 .2-4-.3-2.5-.7-2-1.4-1.1-2.8 .1-3 1.5-3.5 4-3.2 1-.2 2.5-.1 3 .5 2.8 1.5 1.4 1.5 1 2 .4 3.5-.8 4.5-.8 1.1zM482.5 222.7l-1-.5-5.1-5.7-8.4-10.7 .5-.8-.1-2 .5-.5 0-2 .5-.5 0-1.5 .5-.5 0-1.5 .5-.5 .5-3 2.5-5 5.6-5.6 5.5-3.9 4-2 4 .6 3.5 1.3 2.8 1.6 4.2 3.5 1.3 2 .8 2 .3 2.5-.3 3-7.5 7-5.5 7-5 5.5z"/><path fill="#c4b730" d="M566 167.6l-3-.5-2.5-1.2-2.6-1.9-1.7-2-1.1-2-.6-2.5-.1-3 .7-3.5 2.9-4.5 3.5-2 5.9-5.5 1-2 1-1 .5-1.5 1-1 .5-2 1.5-2.5 0-1 1-2 2.6-3.1 4-2 2.5-.5 1.5-1 4.9-.4 3 3.5 2.7 4.5 1.9 6 .4 4-7.4 4.4-5.3 8.1-2.7 6.2-3.5 4.5zM533 181l-6.5-.3-2.5-1-1.9-1.7-1-2.5 .2-2.5 3.7-3.9 4 .4 2.5 1.4 1.5 1.6 1 2.2 .4 2.8-.4 2.4zM482.5 222.5l-1-.4-5-5.7-8.5-10.9 .5-.5 0-2 .5-.5 0-2 .4-.5 0-1.5 .5-.5 .5-3.5 3-6.5 6.1-6.1 .5 0 1.5-1.5 .5 0 2.5-1.9 3-1.3 3.5 .5 3.5 1.1 2.5 1.3 2.8 1.9 2 2 1.2 2 .7 2 .3 5.5-6.5 6.4-5.5 7-4.6 5.1z"/><path fill="#ceab31" d="M567.5 166.5l-3.5-.2-2.5-1.1-2.3-1.7-1.7-2-1.1-2-.7-3 0-3 1-3 3-5 1.8-1 2-2 .5 0 3.4-3.5 1-2 1-1 .5-1.5 1-1 .5-2 1.5-2.5 0-1 1-2 2.6-3.1 4-2 2.5-.5 1.5-1 2.5 .1 .5-.5 1.2 0 3.3 3.6 2.6 4.4 2 6 .2 4.5-6.8 3.8-5.4 8.2-2.6 6-3.5 4.5zM532 179.1l-5-.8-2.4-1.8-.5-2 2.2-3.5 3.2 1 1.9 2 1 2.5zM482.5 222.3l-.5 .1-.5-.5-4-4.4-9.5-12 .5-.5 0-2 .5-.5 0-2 .5-.5 0-1.5 .4-.5 .5-3.5 3-6.5 6.1-6.1 .5 0 1.5-1.4 .5 0 2.5-2 2-.5 3.5 .4 3.5 1 5.1 3.1 1.9 2 2 4 .5 3-.1 3-5.4 5.2-5.5 7-4.8 5.3z"/><path fill="#d4a030" d="M569.5 165.1l-.5 .2-4.5-.2-2-.8-2.4-1.8-2.4-3.5-.7-2.5-.1-2.5 .6-2.1 1.2-2.9 2.8-4.5 6-5.5 1-2 .9-1 .5-1.5 1.5-2 0-1 1.5-2.5 0-1 2-3.5 1.6-1.6 4-2 2.5-.5 1.5-.9 2.5 0 .9-.5 3.5 3.5 2.7 4.5 2 6 .4 4.5-6.5 3.6-5.5 8.4-2.6 6-3.4 4.3zM482 222.3l-6.5-7.3-6-7.5-1-1.5 0-3 .5-.5 0-2 .5-.5 0-1.5 .5-.5 .4-3.5 3-6.5 6.1-6 .5 0 1.5-1.5 3-1.8 2.5 .2 4.5 .9 3 1.3 2.9 1.9 1.6 1.6 1.6 2.4 .9 2.5 .3 5.5-4.3 4.5-5.5 7-5 5.5-4.5 9.9z"/><path fill="#d7922c" d="M571 164l-4 .1-3-.7-3-1.9-1.5-1.9-1.1-3.1-.2-1.5 .8-3.5 1.8-4 3-5 3.7-3.5 1-2 1-1 .5-1.5 .9-1 .6-2 1.4-2.5 0-1 2-3.5 1.6-1.6 4-2 2.5-.5 1.5-.9 3-.2 3.5 3.4 2.6 4.3 2 6 .4 4.5-6.1 3.5-5.4 8.2-2.8 6.3-3.2 4.2zM482 222.1l-6-6.6-6-7.5-.8-1.5-.2-6 .5-.5 0-1.5 .5-.5 0-1.5 .5-.5 .4-3 2.5-5 6.1-6 .5 0 1.5-1.5 1.5-.8 4 0 4 1 3 1.3 2.2 1.5 2 2 1.3 2 .9 2.5 .4 3-.1 3-3.4 3.5-5.5 7-4.9 5.5z"/><path fill="#d88427" d="M573.5 162.5l-1 .4-4.5-.1-3-.7-2.5-1.5-1.4-1.6-1-2.5-.2-2.5 .8-3.5 2.1-4.5 3.2-5.5 1.5-1.5 1-2 1-1 .5-1.5 1-1 .5-2 1.5-2.5 0-1 2-3.5 1.5-1.6 4-1.9 2.5-.5 1.5-1 2 0 1.5 .8 2 1.9 3.1 4.8 2.1 6 .3 4.5-5.5 3.3-5.5 8.2-3.5 7.3-3 3.7zM482 221.6l-1-.5-3-3.4-7.5-9.2-.6-1.5-.4-8.5 .5-.5 0-1.5 .5-.5 .5-3 2.4-5 6.1-6 .5 0 1-1 5-.5 3.5 .7 3.1 1.3 2.4 1.5 2 2 1.5 2.3 .8 2.2 .5 3-.2 2.5-.1 1-12.8 15-3.7 8.1z"/><path fill="#d77520" d="M575 161.5l-5 .2-3-.6-2.5-1.3-1.8-1.8-.8-2-.1-4 .6-2.5 1.8-4 4.3-8.5 2.5-3.5 .5-2 1.5-2.5 0-1 2-3.5 1.5-1.5 4-2 2.5-.5 1.8-1 3.7 1.8 1.6 1.7 1.9 2.8 2.4 5.7 .6 4-.1 2-.2 .5-4.7 2.6-5.5 8.2-3.4 7.2-3.1 3.8zM481 220.6l-3.5-3.5-6.5-8.1-1-12.5 .5-.5 .5-3 2.5-5 5.5-5.5 .5-.4 3-.6 3.5 0 2.6 .5 2.9 1.2 2.5 1.5 2 2 1.5 2.3 .8 2.5 .4 3-.3 3-6.9 9-4.9 5.5-3.1 6.6z"/><path fill="#d36319" d="M576.5 160.5l-6-.1-2-.4-2.5-1.3-1.6-1.7-.9-2.1-.1-3.4 .9-3.5 3.8-8 2.1-5.5 1.3-2 0-1 1.5-2.5 0-1 1-2 2.5-3 4-2 1 0 .5-.5 2.1-.5 4.4 2.1 2.5 2.9 1.5 2.7 1.4 3.8 .6 3-.1 2.5-.8 1.5-3.1 1.6-.9 .9-5.3 8-2.8 6.2-3 3.9zM480.5 219.1l-1-.1-1-.9-6.5-8.1-1.2-9-.3-6.5 3-6.5 4.5-4.4 5-1.2 4.5 .4 3 1 2.6 1.7 2 2 1.2 2 1.1 3.5 .2 2.5-.4 3-5.5 7.5-4.9 5.5-2.8 5.5z"/><path fill="#cf5412" d="M577.5 159.2l-3 .2-2.5-.2-2-.4-2.5-1.3-1.5-1.6-1-2.4 .1-3 .9-3.5 8-21 2.5-3 4-2 2.6-.5 3.9 1.4 2 1.4 1.5 1.8 1.5 2.6 1.3 3.3 .7 5-.9 2.5-3.1 1.9-3.5 4.8-2.6 4.3-2.7 6-2.7 3.1zM479.5 217.5l-1.5-.4-4.4-5.1-1.6-7-.8-6.5-.1-5 2.4-5.5 2.5-2.4 4.5-1.8 3.5-.4 2.5 .3 3 .9 2.5 1.5 1.9 1.9 1.3 2 1.1 4 .2 2-.5 4-4.4 6-5 5.5-2.1 3.9z"/><path fill="#c8440c" d="M576.5 158.1l-4.5-.4-3-1.5-1.5-1.6-.7-2.1 .1-3.5 6.6-20.4 2-4.1 .7-1 1.4-1 5.4-1.3 3.5 1.2 3.6 3.1 1.9 3.4 .9 2.6 .4 2.5-.2 2-1 3-1.6 .8-1.2 1.2-5 7.5-3.3 7-2.5 1.8zM480 215.5l-2-.2-1.5-1.1-2-3.2-2-8-.8-6 .1-3 1.2-4.8 1-1.4 6-2.8 5-.5 3.5 1 2.5 1.4 2 2 1 1.6 1.2 3.5 .1 3-.5 3.5-.7 2-3.6 4.6-4.1 4.4-1.4 2.4z"/><path fill="#c03908" d="M577 156.6l-3.5-.1-2.9-1.5-1.3-1.5-.8-2.2 .1-3.3 4.8-17 2.6-5.8 2-1.9 3-1 2.5-.3 3.5 1.6 3.5 3.5 2 4.9-.3 4.5-.9 2.5-2.1 2-4.5 6.5-2.7 5.7-1.5 1.4zM480.5 213.5l-2-.3-1.5-1.1-1.9-3.1-2.1-7.5-.7-4.5 .2-2.5 1.1-4.5 1.4-1.7 3.5-1.7 3-.8 4.5 .1 4 1.9 1.8 1.7 1.2 2 1.1 3.5-.2 5-.9 3.5-7 8.5-3 1.3z"/><path fill="#b82e05" d="M576 155l-3.5-1-1.4-1.5-.4-1-.5-1.5 .2-3.5 1.1-5.5 3-11 2.2-4.5 1.8-1.5 5-1.2 3.5 1.8 3.1 3.4 1.5 4 .1 2.5-.4 2.5-1.2 2.5-8.6 12.5-2 1.7zM484 211.7l-3 .2-2-.7-1.9-1.7-2.6-5.3-1.4-6.2 .4-4.5 .7-2.5 .8-1.5 2.5-1.3 5-1.3 3.5 .4 3 1.4 1.8 1.8 1.3 2 .8 3.5-.1 4-1.4 5.5-3.4 3.8z"/><path fill="#ac2303" d="M577.5 152.7l-3.1-.2-1.6-1.5-.8-2.5 .1-4.5 1.4-7 1.6-6 2.4-4.9 1.5-1.3 5-1 3.5 2.2 2.5 3.7 .8 2.8-.4 4.5-3.1 6-3.3 3.5-3 4.3zM482 210.5l-2.5-.8-1.5-1.2-1.5-2.2-1.6-3.8-1-5.5 1.1-5.5 1-1.4 4.5-1.6 4-.1 3 1.2 2 1.7 1.3 2.2 .9 3.5-.2 4-1.5 5.3-.8 1.2-5.2 2.8z"/><path fill="#a01b02" d="M579 150.2l-3-.1-1.7-1.6-.7-3.5 1.4-10.5 1.3-4 2.2-3.9 1-.7 2.5-.7 2.5-.2 2.5 1.8 2.2 3.2 .7 2.5-.2 3.5-2.9 6-3.5 3.5-2.3 3zM482.5 209.1l-2.5-.8-2-1.8-2.5-5-.6-3.5 .7-5 .9-1.7 2.5-1 4-.4 3 .7 2.3 1.9 1.4 2.5 .6 4-.5 4.5-1.4 3z"/><path fill="#901201" d="M578.5 147.6l-1-.3-1.4-1.3-.7-2.5 .1-6 .8-3.5 1.7-4.5 1.2-2 .8-.6 5-.6 2.3 2.2 1.1 2 .6 2.5-.1 2.5-2.7 5.5-3.6 3-2.1 2.7zM483 207.1l-2.5-.2-2-1.8-1.6-2.6-.8-3 .4-5.5 .7-1.5 .8-.4 3.5-.6 3 .6 2.5 1.8 1.4 2.6 .5 3.5-.7 4.5-1.2 1.4z"/><path fill="#810c01" d="M579.5 144.1l-1.8-1.1-.8-3.5 .5-3.5 1.4-5 1.7-2.6 2.5-.5 2.5 .4 1.8 2.2 .7 2.5-1 3.5-1.5 3.1-4 2.6zM486 204.6l-4.5 .3-2.2-1.4-1.3-2.5-.4-4 .1-2 .8-1.3 1.5-.4 3 .4 2.7 1.8 1.2 2.5 .4 3.5-.3 1.8z"/><path fill="#710602" d="M584 138.1l-2 .3-1.9-.9-.2-4 .9-2.5 .7-.8 2.5 .3 1.6 1.5 .1 3-.8 2.5zM484.5 202.7l-1.5-.1-2.3-1.6-1.2-2.4-.2-1.6 .9-1.5 1.4 0 2.4 1.5 1.4 3 0 1.5z"/></g><polygon points="436.4,223.1 437.2,222.66 438.01,222.22 438.81,221.78 439.61,221.34 440.42,220.9 441.22,220.46 457.64,238.78 456.83,239.18 456.03,239.59 455.22,239.99 454.41,240.39 453.61,240.8 452.8,241.2" fill="#fff" fill-opacity="0.03"/><polygon points="445.41,218.64 446.26,218.32 447.12,218 447.98,217.69 448.84,217.37 449.58,216.88 450.19,216.2 450.8,215.51 467.5,234.48 466.78,234.94 465.94,235.27 465.11,235.61 464.27,235.94 463.43,236.27 462.59,236.6 461.75,236.93" fill="#fff" fill-opacity="0.06"/><polygon points="450.8,215.51 451.41,214.83 452.02,214.15 452.63,213.46 453.24,212.78 469.08,231.24 468.69,232.05 468.29,232.86 467.9,233.67 467.5,234.48" fill="#000" fill-opacity="0.08"/><polygon points="458.06,210.19 458.88,209.77 459.7,209.37 460.53,208.98 461.36,208.59 462.19,208.21 463.02,207.82 478.78,226.46 477.96,226.84 477.15,227.22 476.33,227.6 475.52,227.99 474.71,228.4 473.9,228.8" fill="#000" fill-opacity="0.06"/><polygon points="463.02,207.82 463.85,207.43 464.68,207.05 465.51,206.66 466.34,206.27 467.17,205.89 468,205.5 483.7,224.2 482.88,224.58 482.06,224.95 481.24,225.33 480.42,225.71 479.6,226.09 478.78,226.46" fill="#fff" fill-opacity="0.01"/><polygon points="468.58,202.43 468.87,200.9 469.18,199.37 469.57,197.86 486.37,217.38 485.83,218.74 485.3,220.11 484.77,221.47" fill="#000" fill-opacity="0.02"/><polygon points="469.57,197.86 469.96,196.35 470.35,194.83 470.74,193.32 488.1,213.37 487.43,214.65 486.9,216.01 486.37,217.38" fill="#fff" fill-opacity="0.03"/><polygon points="470.74,193.32 471.34,191.89 472.09,190.52 472.84,189.15 491.07,210.12 490.08,211.21 489.09,212.29 488.1,213.37" fill="#000" fill-opacity="0.09"/><polygon points="472.84,189.15 473.59,187.79 474.59,186.61 475.7,185.5 476.8,184.4 494.93,205.72 493.99,206.84 493.04,207.96 492.06,209.04 491.07,210.12" fill="#fff" fill-opacity="0.04"/><polygon points="476.8,184.4 477.9,183.3 479.01,182.19 480.29,181.3 497.76,202.36 496.82,203.48 495.87,204.6 494.93,205.72" fill="#000" fill-opacity="0.07"/><polygon points="480.29,181.3 481.57,180.41 482.86,179.52 484.14,178.63 500.97,199.39 499.82,200.29 498.7,201.23 497.76,202.36" fill="#fff" fill-opacity="0.07"/><polygon points="484.14,178.63 485.47,177.82 486.86,177.12 488.26,176.42 489.66,175.72 491.05,175.02 506.88,195.06 505.65,195.87 504.45,196.7 503.29,197.6 502.13,198.49 500.97,199.39" fill="#fff" fill-opacity="0.03"/><polygon points="491.05,175.02 492.51,174.58 494.07,174.52 495.63,174.46 497.19,174.41 498.75,174.35 513.33,191.67 511.97,192.21 510.61,192.76 509.32,193.45 508.1,194.26 506.88,195.06" fill="#fff" fill-opacity="0.05"/><polygon points="498.75,174.35 500.31,174.28 501.86,174.12 503.42,173.96 517.66,191.63 516.2,191.54 514.74,191.45 513.33,191.67" fill="#000" fill-opacity="0.11"/><polygon points="509.62,173.21 510.61,172.04 511.58,170.81 512.69,169.72 527.17,189.54 525.95,190.34 524.72,191.14 523.49,191.94" fill="#000" fill-opacity="0.07"/><polygon points="516.63,167.43 518.15,167.05 519.66,166.66 521.1,166.12 534.63,185.2 533.22,185.6 531.82,186.01 530.63,186.82" fill="#000" fill-opacity="0.05"/><polygon points="521.1,166.12 522.38,165.23 523.67,164.34 524.89,163.38 538.61,183.48 537.44,184.37 536.04,184.79 534.63,185.2" fill="#fff" fill-opacity="0.06"/><polygon points="524.89,163.38 526.05,162.34 527.22,161.3 528.48,160.42 529.94,159.86 543.42,180.17 542.12,180.84 540.94,181.71 539.77,182.6 538.61,183.48" fill="#000" fill-opacity="0.06"/><polygon points="534.17,157.86 535.48,157.06 536.44,155.83 537.4,154.6 551.4,176.5 550.05,177.07 548.7,177.65 547.36,178.22" fill="#000" fill-opacity="0.08"/><polygon points="537.4,154.6 538.65,154.17 539.91,153.74 541.11,153.57 542.16,154.38 555.98,174.41 554.95,175.21 553.93,176.02 552.69,176.33 551.4,176.5" fill="#000" fill-opacity="0.11"/><polygon points="542.16,154.38 543.2,155.2 544.22,155.03 545.23,154.85 546.25,154.68 547.15,154.26 560.56,172.56 559.67,172.82 558.78,173.08 557.89,173.34 557,173.6 555.98,174.41" fill="#000" fill-opacity="0.04"/><polygon points="547.15,154.26 547.97,153.63 548.8,153.01 549.62,152.39 550.44,151.77 551.26,151.15 552.08,150.53 565.79,170.79 565,171.26 564.11,171.52 563.22,171.78 562.33,172.04 561.44,172.3 560.56,172.56" fill="#fff" fill-opacity="0.04"/><polygon points="552.08,150.53 552.9,149.9 553.72,149.28 554.59,148.72 555.45,148.15 556.31,147.59 557.17,147.02 570.32,167.58 569.57,168.11 568.81,168.65 568.05,169.18 567.3,169.72 566.54,170.25 565.79,170.79" fill="#fff" fill-opacity="0.03"/><polygon points="557.17,147.02 558.03,146.46 558.89,145.89 559.75,145.32 560.61,144.76 561.43,144.13 574.14,164.96 573.35,165.44 572.59,165.97 571.83,166.51 571.08,167.04 570.32,167.58" fill="#fff" fill-opacity="0.03"/><polygon points="567.45,138.56 567.99,137.69 568.52,136.81 569.05,135.93 581.75,158.47 581.2,159.22 580.65,159.96 580.09,160.7" fill="#000" fill-opacity="0.07"/><polygon points="569.05,135.93 569.59,135.04 570.12,134.16 570.65,133.28 571.13,132.37 571.53,131.42 571.92,130.47 572.32,129.52 584.5,152.65 584.16,153.51 583.82,154.37 583.48,155.23 583.14,156.09 582.8,156.95 582.31,157.73 581.75,158.47" fill="#000" fill-opacity="0.07"/><polygon points="572.32,129.52 572.71,128.57 573.1,127.62 573.54,126.69 574.11,125.83 574.67,124.96 575.24,124.1 587.15,147.78 586.68,148.57 586.2,149.37 585.73,150.17 585.26,150.96 584.85,151.79 584.5,152.65" fill="#fff" fill-opacity="0.02"/><polygon points="580.46,120.98 581.42,120.62 582.39,120.27 583.35,119.91 584.32,119.55 585.3,119.26 586.33,119.13 594.83,140.44 593.96,140.78 593.1,141.13 592.24,141.47 591.38,141.81 590.67,142.34 590.15,143.1" fill="#000" fill-opacity="0.11"/><polygon points="586.33,119.13 587.35,119 588.37,118.87 589.39,118.74 597.45,139.55 596.55,139.76 595.69,140.1 594.83,140.44" fill="#000" fill-opacity="0.08"/><polygon points="589.39,118.74 590.42,118.7 591.45,118.7 592.48,118.7 593.51,118.7 601.07,138.79 600.17,138.98 599.26,139.17 598.35,139.36 597.45,139.55" fill="#000" fill-opacity="0.10"/><polygon points="597.28,119.87 598.14,120.43 599,121 606.5,139.6 605.6,139.4 604.69,139.2" fill="#fff" fill-opacity="0.07"/></g><g id="tf"><polygon points="619.03,128.24 619.71,127.39 620.57,126.71 621.43,126.03 622.29,125.35 623.15,124.67 609.46,107.3 608.94,108 608.41,108.69 607.88,109.38 607.35,110.07 606.82,110.76" fill="#000" fill-opacity="0.03"/><polygon points="626.58,121.95 627.42,121.25 627.8,120.23 628.18,119.2 628.56,118.17 628.94,117.15 629.32,116.12 614.2,100.08 613.88,100.89 613.56,101.7 613.14,102.45 612.61,103.14 612.09,103.83 611.56,104.53" fill="#fff" fill-opacity="0.01"/><polygon points="629.32,116.12 629.7,115.09 630.1,114.07 630.54,113.07 630.99,112.07 631.43,111.07 615.81,96.04 615.49,96.85 615.17,97.65 614.85,98.46 614.53,99.27 614.2,100.08" fill="#000" fill-opacity="0.03"/><polygon points="631.43,111.07 631.87,110.07 632.32,109.07 632.77,108.07 633.32,107.12 617.14,92.82 616.78,93.61 616.45,94.42 616.13,95.23 615.81,96.04" fill="#fff" fill-opacity="0.02"/><polygon points="635.5,103.32 636.04,102.37 636.55,101.4 637.04,100.42 637.53,99.44 638.02,98.46 638.51,97.48 639,96.5 621.73,84.45 621.22,85.16 620.72,85.86 620.25,86.6 619.86,87.37 619.47,88.15 619.08,88.93 618.7,89.71" fill="#000" fill-opacity="0.03"/><polygon points="639,96.5 639.49,95.52 639.92,94.52 640.3,93.49 640.68,92.46 641.06,91.44 641.44,90.41 624.79,80.22 624.28,80.92 623.77,81.63 623.26,82.33 622.75,83.04 622.24,83.75 621.73,84.45" fill="#fff" fill-opacity="0.02"/><polygon points="642.54,86.2 642.68,85.11 642.82,84.03 642.96,82.94 643.1,81.85 643.26,80.77 643.46,79.69 643.65,78.62 628.02,71.21 627.76,72.04 627.5,72.87 627.22,73.7 626.91,74.51 626.61,75.33 626.31,76.14 626,76.96" fill="#000" fill-opacity="0.03"/><polygon points="647.91,57.23 647.98,56.13 647.86,55.05 647.64,53.98 647.41,52.91 647.19,51.84 634.11,50.34 633.92,51.19 633.72,52.04 633.53,52.88 633.27,53.72 633.01,54.55" fill="#fff" fill-opacity="0.01"/></g><g id="tf3"><polygon points="618.89,128.7 619.59,127.92 620.3,127.15 621,126.37 621.7,125.6 622.4,124.82 612.83,110.28 612.34,110.98 611.84,111.68 611.35,112.38 610.86,113.08 610.36,113.78" fill="#000" fill-opacity="0.03"/><polygon points="625.02,121.58 625.53,120.67 626.05,119.76 626.56,118.85 627.08,117.94 627.59,117.03 628.1,116.12 617.12,102.92 616.77,103.7 616.41,104.48 616.06,105.26 615.71,106.04 615.3,106.79 614.8,107.49" fill="#fff" fill-opacity="0.01"/><polygon points="628.1,116.12 628.62,115.21 629.13,114.3 629.65,113.39 630.16,112.48 630.68,111.57 618.89,99.03 618.53,99.81 618.18,100.59 617.83,101.37 617.47,102.14 617.12,102.92" fill="#000" fill-opacity="0.03"/><polygon points="630.68,111.57 631.2,110.67 631.75,109.78 632.29,108.88 632.84,107.99 620.3,95.91 619.94,96.69 619.59,97.47 619.24,98.25 618.89,99.03" fill="#fff" fill-opacity="0.02"/><polygon points="635.02,104.42 635.56,103.53 636.11,102.64 636.61,101.73 637.01,100.76 637.4,99.79 637.8,98.82 638.2,97.86 626.01,88.48 625.47,89.14 624.93,89.8 624.38,90.46 623.84,91.12 623.29,91.78 622.75,92.44 622.2,93.1" fill="#000" fill-opacity="0.03"/><polygon points="638.2,97.86 638.59,96.89 638.99,95.92 639.38,94.95 639.78,93.98 640.17,93.02 640.57,92.05 627.92,83.71 627.6,84.51 627.28,85.3 626.96,86.1 626.64,86.89 626.33,87.68 626.01,88.48" fill="#fff" fill-opacity="0.02"/><polygon points="641.75,88.05 642.01,87.03 642.27,86.02 642.53,85.01 642.78,83.99 643.04,82.98 643.3,81.97 643.56,80.95 631.28,74.93 631.06,75.76 630.77,76.56 630.46,77.36 630.14,78.15 629.82,78.95 629.5,79.74 629.19,80.54" fill="#000" fill-opacity="0.03"/><polygon points="648.08,60.56 648.03,59.51 647.97,58.47 647.92,57.43 647.87,56.38 647.82,55.34 636.26,54.14 636.08,54.97 635.91,55.81 635.73,56.65 635.56,57.49 635.38,58.32" fill="#fff" fill-opacity="0.01"/></g></defs>
<rect x="339.5" y="0" width="1" height="1202" fill="#f1f1f1"/>
<g transform="translate(0,0)">
<path d="M65.65 4.38H333.2V266.7H65.65z" fill="none" stroke="#404040" stroke-width="1.15"/>
<path d="M59.05 253h13.2M59.05 219.4h13.2M59.05 185.8h13.2M59.05 152.2h13.2M59.05 118.6h13.2M59.05 85h13.2M59.05 51.4h13.2M59.05 17.8h13.2M94.4 259.9v13M128 259.9v13M161.6 259.9v13M195.2 259.9v13M228.8 259.9v13M262.4 259.9v13M296 259.9v13M329.6 259.9v13" stroke="#303030" stroke-width="1.1"/>
<text x="58.65" y="256.2" text-anchor="end" class="tl" textLength="14.7" lengthAdjust="spacingAndGlyphs">-20</text>
<text x="58.65" y="222.6" text-anchor="end" class="tl" textLength="5.75" lengthAdjust="spacingAndGlyphs">0</text>
<text x="58.65" y="189" text-anchor="end" class="tl" textLength="11.5" lengthAdjust="spacingAndGlyphs">20</text>
<text x="58.65" y="155.4" text-anchor="end" class="tl" textLength="11.5" lengthAdjust="spacingAndGlyphs">40</text>
<text x="58.65" y="121.8" text-anchor="end" class="tl" textLength="11.5" lengthAdjust="spacingAndGlyphs">60</text>
<text x="58.65" y="88.2" text-anchor="end" class="tl" textLength="11.5" lengthAdjust="spacingAndGlyphs">80</text>
<text x="58.65" y="54.6" text-anchor="end" class="tl" textLength="17.25" lengthAdjust="spacingAndGlyphs">100</text>
<text x="58.65" y="21" text-anchor="end" class="tl" textLength="17.25" lengthAdjust="spacingAndGlyphs">120</text>
<text x="94.4" y="281.4" text-anchor="middle" class="tl" textLength="5.75" lengthAdjust="spacingAndGlyphs">0</text>
<text x="128" y="281.4" text-anchor="middle" class="tl" textLength="11.5" lengthAdjust="spacingAndGlyphs">20</text>
<text x="161.6" y="281.4" text-anchor="middle" class="tl" textLength="11.5" lengthAdjust="spacingAndGlyphs">40</text>
<text x="195.2" y="281.4" text-anchor="middle" class="tl" textLength="11.5" lengthAdjust="spacingAndGlyphs">60</text>
<text x="228.8" y="281.4" text-anchor="middle" class="tl" textLength="11.5" lengthAdjust="spacingAndGlyphs">80</text>
<text x="262.4" y="281.4" text-anchor="middle" class="tl" textLength="17.25" lengthAdjust="spacingAndGlyphs">100</text>
<text x="296" y="281.4" text-anchor="middle" class="tl" textLength="17.25" lengthAdjust="spacingAndGlyphs">120</text>
<text x="329.6" y="281.4" text-anchor="middle" class="tl" textLength="17.25" lengthAdjust="spacingAndGlyphs">140</text>
<text x="1.2" y="138.6" class="al" textLength="43.8" lengthAdjust="spacingAndGlyphs">Northing</text>
<text x="198.8" y="295" text-anchor="middle" class="al" textLength="60.7" lengthAdjust="spacingAndGlyphs">Easting(km)</text>
<text x="1.5" y="20.5" class="pl" textLength="19.9" lengthAdjust="spacingAndGlyphs">(a)</text>
<clipPath id="pc0"><polygon points="67.8,217.7 288.3,1 332.4,55.2 290.4,140.1 109.4,265.4"/></clipPath>
<g clip-path="url(#pc0)"><polygon points="67.8,217.7 288.3,1 332.4,55.2 290.4,140.1 109.4,265.4" fill="#08afcc"/>
<g filter="url(#b3)">
<path fill="#08b3c4" d="M118.5 256.5l-1 .3-8-2.3-2-3.3-8.5-5.1-3.5-3-2.8-3.1-2.5-4.5-1.8-7 .9-7.5 1-2 1.2-.9 2.5-.5 .5 .9 8.5-3.5 6-3 6.5-4.8 6.5-3.4 4.1-1.3 .8-8.5 3-7.5 6.6-7.3 7.5-5.3 7.5-2.8 14.5-.1 4.5-4.3 5.8-2.2 17.2-11.5 6-.1 5.9-2.9 6.1-3.8 6.7-2.7 6.3-6.4 2.5-5.2 2.3-6.9 2.9-3.5 4.8-3.6 6.5-1.3 5 .6 3 2.5 1.1-.2 1.9 1 2 .4 .5-1.9-1-3 1-1.5-1.6-5 1.6-5.5-.5-4 .4-4 2.5-9.5 3.1-6.5 .5-4.5 3.2-9.5 2.4-3 4.9-2.5 7.8-3 2.2-1.5 7.6-8.5 .5-4.5 1.3-2 2.1-.7 2.5 1.1 4.1 5.6 1.7 4 .8 2.5 .6 6.5-1.5 10-2.7 8.2-2.1 11.3-2.5 7-4.9 6.5-3.5 6.7-2.7 8.8-6.8 7.4-5 7.6-8.1 3.5-2.6 6-.4 2 .7 3.5 2.4 6.5-10.5 7.9-5 3-1.5 1.5-11.5 7.5-1.5 1.5-5 3-1.5 1.5-5 3-1.5 1.5-5 3-8 6-5 3-8 6-5 3-1.5 1.5-5 3-8 6-5 3-1.5 1.5-18 12-1.5 1.5-5 3-1.5 1.5-5 3-1.5 1.5-5 2.9-1.5 1.5-5 2.9-1.5 1.5z"/>
<path fill="#08b6be" d="M130 248.5l-6-.4-7-1.4-7-2.4-6-2.8-2-3.8-4.9-4.7-2.6-3.5-1.7-3.5-2.1-3-.4-2 .6-1.5 1.1-.8 2-.4 .5 .3 8.7-3.6 5.9-3 6.4-4.7 6.5-3.4 4.1-1.4 .8-8.5 3.1-7.5 6.5-7.3 7-4.9 8-3.2 14.5 0 4.5-4.4 5.9-2.2 17.1-11.4 6-.2 6-2.9 6-3.8 6.8-2.7 6.2-6.4 2.5-5.1 2.4-7 2.9-3.5 4.7-3.6 6.5-1.3 5.5 .7 2.5 2.5 5 2.6 1-.2 0-4.2-1-2.5 .7-1.5-.7-2 0-1.5 2.4-5.5 .3-6 2.2-8.5 1.5-4.5 2.5-5 .8-5 3.1-9 1.7-2.6 4.6-3.4 7.3-3.5 2.5-2 6.6-8 .6-4.5 1-1.5 1.9-.6 2 .9 4.3 5.7 2 5 .8 7.5-1.7 11-2.4 7.1-2.2 11.4-2.4 7-4.9 6.4-3.5 6.7-2.8 8.9-6.7 7.4-5 7.6-8.1 3.5-1.1 2.5-2.5 3.5-.8 3.5 1 11-7 5.4-5 3-1.5 1.5-5 3-1.5 1.4-5 3-1.5 1.5-5 3-1.5 1.5-5 3-1.5 1.5-5 3-8 6-5 2.9-8 6-11.5 7.4-8 6.1-5 3.1-1.5 1.5-11.5 7.5-1.5 1.5-5 3-1.5 1.5-5 3-1.5 1.5z"/>
<path fill="#08b9b7" d="M137.5 243.5l-8 .4-8.5-1.1-7-2-8.5-3.9-3.5-.9-2-4-4.5-6.5-3.8-2.5-.6-1.5 .3-1.5 1.1-1 2-.4 8.8-3.6 5.9-3 6.3-4.6 7-3.7 3.7-1.2 .8-8.5 3-7.5 6.5-7.2 7.5-5.3 7.5-2.9 14.5 0 4.5-4.3 6-2.3 17-11.4 6-.1 6-3 6-3.8 6.9-2.7 5.6-5.5 3-5.9 2.1-6.6 .7-1 2.5-3 4.7-3.5 6.5-1.4 5.5 .8 2.5 2.5 6.5 4.4 .1-6.3-1.1-3 .6-1-.1-2.5 2.7-5.5 1.2-8 3.4-9.5 3.2-6 1.1-6 3-8.5 2-3 2.5-2 2.1-2.5 5.4-3 2.9-2.5 5.5-7.6 .7-3.9 .8-1.5 1.5-.6 2 .7 4.3 5.4 2 5 .8 7.5-1.7 11-2.4 6.9-2.2 11.6-2.4 7-4.9 6.4-3.5 6.6-2.8 9-6.7 7.3-5.1 7.7-8.1 3.5-1.8 3.2-3.1 3.3-.7 2-.7 8-1 4.2 0 .8 .9 1-.2 .5-8.7 5.8-1.5 1.5-5 3-1.5 1.5-5 2.9-1.5 1.5-5 3-1.5 1.5-5 3-1.5 1.5-5 3-1.5 1.5-5 2.9-1.5 1.5-5 3-1.5 1.5-5 3-1.5 1.5-1.5 .9-3 .2-9.5 5.6-1.2 1.2-1.4 3-2.9 2.6-18 12.1-1.5 1.5-5 3-1.5 1.5-5 2.9-1.5 1.5-5 3z"/>
<path fill="#08bcb0" d="M136 239l-6.5 .2-6-.7-7.5-2-8.5-3.7-6 .1-1.5-1.4-1.5-3-2.5-3.5-3.8-2.5-.4-2 1.5-1.5 10.1-4 5.6-2.8 6-4.5 6.5-3.5 4.8-1.7 .8-9 2.9-7 6.5-7.2 7.5-5.2 7.5-2.9 14.5 0 4.5-4.4 6-2.3 17-11.4 6-.1 6-2.9 6-3.8 7-2.8 6-6.3 2.5-5.1 2.1-6.6 .7-1 2.6-3 4.6-3.5 6.5-1.3 5.5 .7 9.8 9.6-.1-8.5-1.3-4 4.1-8 1.5-8.3 3.5-9.2 3.4-6 1.2-6 3-8.5 1.5-2.5 2.8-2.5 2-3 5.1-3.2 2.4-2.3 5.2-8 1.2-4.5 1.7-.7 2 .9 3.7 4.8 2 5 .9 7.5-1.8 11-2.3 6.8-2.2 11.7-2.5 7-4.8 6.3-3.5 6.7-2.8 9-6.7 7.3-5.1 7.7-7.9 3.3-2 3-4.3 3.7-2.2 9.5-.9 2.5 2.7 4-.1 .5-45.7 31.5-7.3 2-11.2 6.9-1.5 0-3-1.2-1 0-5 3.2-4.5 2.2-1.3 1.4-4.7 10-4.5 6-3.5 2-1.5 1.5-5 3.1-1.5 1.4-5 3-4.5 3.5-5.5 1.6z"/>
<path fill="#07c0a8" d="M134 235.5l-6.5-.1-6-1.1-5.5-1.7-7-3.1-7 1.2-1.5-.2-1.5-1.3-3-4.8-3.1-1.9-.6-2 1.5-1.5 9.7-4 5.5-2.8 6-4.5 4.5-2.4 6.8-2.8 .7-8.5 3.1-7.5 6.4-7.1 7.5-5.3 7.5-2.9 14.5 0 4.5-4.3 6-2.3 17-11.4 6-.2 6-2.9 6-3.8 7-2.8 6-6.2 2.6-5.3 2-6.5 3.3-4 4.6-3.5 6.5-1.3 5.5 .8 5.6 6 3.4 5 1 .7 .5-.1-.2-10.1-1.6-4.5 3.2-4 1.6-3 2-9 3.2-8.5 3.7-6.5 1.4-6.5 2.9-8 1.9-3 2.6-2.5 1.8-3 6.5-5.1 5-8.6 1.1-3.8 .9-.8 1 0 2 1.1 3.2 4.2 2 5 .8 7.5-1.7 11-2.3 6.7-2.3 11.8-2 6-5.2 7.3-3.5 6.6-2.9 9.1-6.6 7.2-5.2 7.8-7.8 3.3-2.5 3.1-3.8 2.1-.9 1-3.5 10 .2 1 3.6 5.5 0 .5-26.1 18-5 1.9-5.5 3.1-9 4-4.5 1.4-4.5 .7-11.5 7-1.5 .4-4-1.1-5.5 3.6-5 2.3-1 1-2.7 7.2-3.6 6.5-4 5-4.7 4.5-6 4.2-6.5 3-7 2z"/>
<path fill="#07c49f" d="M135.5 233l-6.5 .1-6.5-1-6-1.8-6.5-3-9.5 1.7-2-1.3-2.5-3.9-2.8-1.8-.4-1.5 1.3-1.5 14.9-6.7 6-4.5 3.5-1.9 4-2.1 3.9-1.3 .6-8.5 3.1-7.5 6.4-7.1 7.5-5.3 7.5-2.9 14.5 .1 4.5-4.4 6-2.3 17-11.4 6-.1 6-3 6-3.8 7-2.8 6-6.2 2.6-5.3 2.1-6.5 3.3-4 4.5-3.4 6.5-1.4 5.5 .8 4.7 5.5 3.8 6.6 1 .7 1.3-.3 .3-2-.6-5 .4-3.5-1.7-5.5 5.7-6.5 1.9-8 3.4-9 3.5-6 1.6-7 2.9-8 1.9-3 2.6-2.5 2-3.5 5.5-5 4.8-9 1.1-3.5 1.9-.4 2 1.2 2.6 3.7 2.2 5.5 .7 7.5-1.7 10.5-2.3 6.6-2.3 11.9-2.4 7-4.8 6.2-3.5 6.6-2.9 9.2-6.6 7.2-5.2 7.8-7.8 3.3-2.5 2.9-4.5 1.7-1 1.1-3.8 9 4.2 7.5-1.4 2-1.5 1.5-5 3-1.5 1.5-5 3-1.5 1.4-9 2.3-7 2.8-5.5 3.3-9 3.9-8.5 2-12.8 7.8-1.2 .2-4-1.1-5 3.3-5.5 2.5-1 1.6-2.5 7.5-2.5 5-3.5 5.1-4.5 4.7-5.5 4.2-6 3.2-6.5 2.2z"/>
<path fill="#06c896" d="M136.5 230.5l-6.5 .3-6-.8-5.5-1.5-8-3.4-10.5 2.6-2-1.2-1.5-2.6-3-2.4-.3-1 1.1-1.5 14.2-6.4 6.5-4.8 7-3.7 4.4-1.6 .7-8.5 3-7.5 6.4-7 7.5-5.3 7.5-2.9 14.5 0 4.5-4.3 6-2.4 17-11.4 6.3-.2 5.7-2.8 6-3.8 7-2.8 6-6.2 2.6-5.4 2.1-6.5 3.3-4 4.5-3.4 6.5-1.3 5.5 .8 2.8 2.9 3.4 6 1.8 4.2 1 .6 2-.5 .5-1.3-.6-6.5 .6-2.5-1-5 .2-2.5 5.6-7 1.1-4.5 3.4-8.5 4.4-8 1.6-7 2.9-8 1.8-3 2.5-2.5 2.1-4 4.7-5 4.7-9.5 .8-2.5 .7-.6 1-.1 2 1.1 2.6 3.6 2.2 5.5 .6 7.5-1.6 10.5-2.3 6.5-2.3 12-2.5 7-4.7 6.1-3.5 6.7-3 9.2-6.5 7.1-5.2 7.9-7.8 3.2-3 3-4.1 .8-1.4 1-1.9 5-2.1 3.6 0 .9 3.5 5.5 0 .7-2 2.6-5 4.6-6 3.4-4 1.5-6.5 1.6-22.5 10.3-8.5 1.9-13 7.9-1.5 .2-3-1.3-1.5 0-5 3.3-5.4 2.3-.8 1-1.8 7-2.5 6-3.5 5.5-3.9 4.5-5.1 4.2-5.5 3.2-6 2.3z"/>
<path fill="#05cc8d" d="M137.5 228l-6.5 .5-6-.7-5.5-1.4-7.5-3-12.5 3.4-2-1.3-1-2-2.4-2-.5-1 .9-1.5 14-6.4 6.5-4.7 7-3.8 4.5-1.6 .6-8.5 3-7.5 6.9-7.4 7-4.9 7.5-2.9 14.5 .1 4.5-4.4 6-2.3 17-11.4 6.3-.3 5.7-2.8 6-3.8 7-2.8 6-6.1 2.6-5.5 2.1-6.5 3.3-4 4.5-3.4 6.5-1.3 5.5 .8 2.7 2.9 3.2 6.5 1.6 5 1 .5 2.5-1.1 .7-1.4-.5-6 .8-3.5-.8-3.5 .1-2 6.1-10 1.2-4 3.7-8.5 4.2-7 1.8-7.5 2.6-7.5 1.7-3 2.4-2.7 2.2-4.3 4.3-5.1 5.3-11.9 1.2-.5 2 1 2.5 3.5 2.3 5.5 .6 7.5-1.7 10.5-2.2 6.5-2.4 12-2.4 7-4.7 6.1-3.5 6.6-3 9.3-6.5 7.1-5.3 7.9-7.7 3.2-2 2.1-1.5 .9-4.5-.1-1 .7-2.5 7.2-1.6 2 .5 1.5 2.6 4 0 .8-2.1 2.7-4.9 4.4-6 3.3-4.5 1.5-5 .9-9 3.5-6 3.1-9 3.8-8 1.6-13.5 8.1-1.5 .1-2.5-.9-1.5-.1-5.5 3.6-6 2.2-1 1.4-1.3 6.5-2.1 5.5-2.8 5-3.8 4.7-4.8 4.3-5.2 3.3-5.5 2.3z"/>
</g>
<g filter="url(#b2)">
<path fill="#09a7d2" d="M271 151.1l-4.5-2.9-2.3-2.7-.4-2.5 1.2-6 8-3.4 5-7.6 6.8-7.5 2.7-8.7 3.5-6.7 5.2-7.1 2.2-6.5 2.1-11 2.6-8 1.7-10.5-.7-7-1.9-5-2.7-4.6-2.5-3.3-2-1-4-.5-1.5-1.1-1.4-2.5-.7-3.5 .9-4.5 1.2-1.9 1.5-1.4 2.5-1.5 2.5-.9 5.5-.6 6.7 7.8 0 .5 2.5 2.5 0 .5 2 2 0 .5 4.6 5 0 .5 2 2 0 .5 2.5 2.5 0 .5 3.9 4.5 0 .5 4.5 5-40.8 82.5-2.4 2.4-.5 0-4 3-.5 0-1.5 1.5-.5 0-4 2.9-.5 0-1.5 1.5-.5 0zM95 218.1l-.5 .2-.9-1.3-1.1-3-.5 2-4.5 2.4-1.5-.1-1.8-.8-1.4-1-1-1.5-.3-1.5 .3-1.5 .8-1.5 1.4-1.5 3.5-1.6 1.5 0 1 .6-1.4-3 0-1-.9-1.5 .1-1.5 19.2-19.3 .5 0 27.5-27.5 .5 0 21-20.7 18.5-13.1 5.5-2.6 7-1.9 1-.7 2-3.2 .7-4 3-5.5 6.3-8.1 5-4.9 7-5.5 4.5-2.8 5.5-2.5 6.5-1.7 2 .2 5 1.5 7-.6 5 .3 1.5 .7 5 4.7 .2 2.7-1.9 10 .4 5.5-.5 4 3.8 9-4.2 4.5-.8 .1-2.5-2.5-3.5-.4-2-.2-6.5 1.3-4.8 3.7-2.9 3.5-2.3 6.8-3 6-5.9 5.7-7.1 2.8-5.7 3.7-5.8 2.8-6 .1-17.3 11.6-5.7 2.1-4.7 4.4-14.3 0-7.5 2.8-7.5 5.3-6.7 7.4-3 7.5-.8 8.5-4 1.2-6.5 3.4-6.7 4.9-6 3z"/>
<path fill="#0aa0d7" d="M275 148l-1 .3-5-1.5-1-1.8-1.5-.3-.9-.7-.7-2 .3-5 7.8-3.3 5-7.6 6.9-7.6 2.6-8.7 3.9-7.3 4.8-6.5 2.2-6.5 2.1-10.8 2.7-8.2 1.6-10.5-.6-7-1.9-5-2.6-4-1.5-3.5-3.2-3.5-.5-1.5 .9-2 1.6-1.2 2.5-.7 3 .2 3.9 1.7 3 3 .9 0 4 2 2.2 3 4.8 4.5 .9 2 .8 3.5 2.2 5 .2 4.5-.5 4.5-16.1 32.5 0 1-19.6 39-2.2 2.2-.5 0-2.5 2-2 1-1.5 1.5-.5 0-1 .9-.5 0zM95 218l-.7 0-1.1-2 0-1-1-1.5 0-1-.9-1.5 0-1-1.4-2.5 .1-1-.5-.8 6.5-5.6 2.5-2.7 3.5-5.1 3.4-2.8 .2-1.5-1.2-3 .1-.5 2.5-2.6 .5 0 27.5-27.5 .5 0 4-3.9 5-1.8 3.5-.8 3.5-.3 5.5 .4 1.5-.3 6.5-3 17.5-12.6 4.5-1.8 6-1.4 3.5-3.9 5-3.2 .9-4.3 2-5 2.2-3.5 4.4-5.5 4.5-4.3 5-3.9 3.5-2.1 4.5-1.9 4-.8 6 1.7 7.5-.1 1.5 .7 1.5 1.3 1 1.9 .5 3.1-.3 4.4 .3 1.5 4 6.5 1.6 3.5-.6 1.2-3.3 3.3-.7 0-2.5-2.4-3-.4-2.5-.2-6.5 1.3-4.9 3.7-2.9 3.5-2.2 6.7-3 6-5.9 5.8-7.1 2.8-5.8 3.7-5.1 2.5-6.6 .4-17.4 11.6-6.1 2.4-4.3 4.1-14.2 0-7.5 2.8-7.5 5.2-6.7 7.5-3.1 7.5-.7 8.4-4 1.3-7 3.6-6.3 4.7-6.1 3z"/>
<path fill="#0b99dd" d="M277.5 144.6l-3.5 .1-6.5-1.2-2.3-5 .2-1.5 7.6-3.2 5.5-8.3 6.4-7 2.6-8.6 4-7.4 4.8-6.5 2-6 2.7-13 2.2-6.5 1.6-10-.6-7.5-2.3-6-2.1-3.5 .3-.5-.6-2 0-2.5 .5-.6 1.5-.2 1.6 .8 1 1.5 1.4-.5 4.1 2 6.1 6 1 1.5 .8 3 1.9 4 .5 3-.2 3.5-1.8 11.5-2.3 7.5-1.1 5-5.9 11.5-.5 2-17.1 33.9-8 8.3-2.5 1.5zM94.5 218l-2.1-4.5 .1-1.5 9.1-8 4.9-6.3 4.5-3.7 .2-1.5-1.1-3-.1-1.5 4.3-9.5 2.8-4 8.9-8.8 10.5-6.6 10-3.6 4-.7 8.5 .4 1.5-.3 8-4 17.1-12.4 3.9-1.6 5.5-.9 5.5-5.2 6-3.7 3.7-10.1 2.6-4.5 5.7-6.5 8.5-6.4 3.5-1.5 3.5-.7 6 1.8 5 0 2.2 1.3 1.5 4 5.3 7.2 1.7 3.8-.6 1-3 3-.4 0-2.7-2.5-2.5-.3-3-.3-6.5 1.3-4.9 3.8-2.9 3.5-2.2 6.6-3 6.1-6 5.8-7 2.7-5.9 3.8-5.1 2.5-6.5 .3-17.5 11.7-6 2.3-4.5 4.2-14-.1-7.5 2.8-7.5 5.3-6.8 7.5-3 7.5-.7 8.3-4 1.3-7 3.6-6.5 4.8-5.1 2.5z"/>
<path fill="#0c92e2" d="M277 141.6l-3 .4-7-.4-1.7-3.1 0-1 .3-.5 7.4-3.1 5.5-8.3 6.5-7.1 2.5-8.5 4-7.5 4.8-6.5 2.5-7.5 2.2-11.4 2.3-6.6 1.6-10-.6-7.5-2-5.5-2.4-4 2.1-1.6 1 .1 3.5 1.6 5.8 5.4 3.2 7 .5 2 0 4-1.6 10.5-2.6 8.5-2.3 11.5-3 9-5.1 7.5-2.5 4.5-4.2 11-13.7 14.7-2 1.6zM94.5 217.5l-.5-.6 10.5-9.3 5-6.1 5.5-5 .3-1-1.2-3.5 .1-1.5 4.5-10 2.3-3.1 9-8.6 9-5.6 9-3.1 3.5-.5 9 .4 1.5-.2 3.5-2.3 5.5-2.5 17-12.3 2.5-1 5-.7 1.5-.7 6.5-5.7 5.8-3.6 2.7-4.9 2.8-7.6 2.2-3.5 5-5.7 5.5-4.3 3-1.7 4.5-1.2 5.5 1.7 4.5 .3 1.5 1 7 7.2 1.3 4.2-2.8 3-3-2.5-5.5-.7-6.5 1.4-4.5 3.4-3.4 3.9-2.1 6.5-3 6.1-6.2 5.9-6.8 2.7-6 3.8-5.2 2.5-6.3 .2-17.7 11.8-5.8 2.2-4.5 4.2-14-.1-7.5 2.8-7.5 5.3-6.9 7.6-3 7.5-.6 8.2-4 1.4-7 3.5-6.8 4.9-5.2 2.5z"/>
<path fill="#0c8de4" d="M275.5 139.5l-9 .3-1.1-1.3 0-1 .5-.5 7.1-3.1 5.5-8.2 6.2-6.7 3.3-9.8 3.5-6.6 4.7-6.1 2.5-7.5 2.3-11.7 2.2-6.3 1.7-10.5-.5-7.5-2.2-6-1.2-2-.2-1 .7 0 3 1.4 5.1 4.6 3 6 .6 2.5 0 3.5-1.6 10-2.6 8.5-2.3 11.5-2.9 8.5-4.9 7-2.5 4.5-4.2 11-2 2.5-5.7 5.5-5.5 6.5-1.5 1.2zM105 213l-1 0 3-3 4.6-5.5 6.4-6.1 .4-.9-1-3.5 .3-2.5 4.1-9 2.2-3 8-7.7 8.5-5.2 8.5-3 2.5-.4 10 .5 2-.3 3.5-2.5 6-2.8 16.5-12 2.5-1 4.5-.5 1.5-.6 7.5-6.4 5.8-3.6 3.4-5 3.2-8.5 1.8-3 4.3-5.1 7.5-5.5 2.5-1 2-.2 5.5 1.7 3 .3 7.5 6.1 .5 1.2 .1 2-.1 1.7-.5 .3-3-2.3-5.5-.5-6.5 1.4-5 3.9-3.2 4-1.8 5.8-3 6.3-6.3 5.9-6.7 2.6-6.2 3.9-5.1 2.5-6.2 .1-17 11.4-6.5 2.6-4 3.9-14.5 .2-8.5 3.5-6.5 4.5-6.9 7.8-3 7.5-.6 8.1-4.5 1.6-6 3-6.9 4.8z"/>
<path fill="#0d88e6" d="M272.5 138.1l-5.5 .3-1.5-.3 0-.4 1.9-1.2 5.7-2.5 4.9-7.5 6.8-7.5 3.2-9.7 3.5-6.6 4.8-6.2 2.1-6 2.6-13 2.3-6.5 1.6-10-.4-8-1.5-4.3 0-1.6 3 2.3 2 2.1 2.6 5.5 .4 3-1.8 12-2.4 7.5-2.2 11.5-2 6-1.2 3-4.4 6-3 5.5-3.1 9-1.1 2-6.8 6.8-6 7.2-2 1.1zM114 207l-.6 0 7.5-7.5-.8-4 .4-3 4.1-9 2.4-2.9 7-6.6 8-4.9 8-2.7 2.5-.2 10.5 .5 1.5-.3 3.9-2.9 6.1-2.9 16.5-12 2-.7 4.5-.4 1.5-.7 8-6.6 6-3.8 4-5.5 3.4-8.9 1.4-2.5 4.2-4.9 6.5-4.9 2-.9 2-.2 8 2.2 5.4 5.2 .1 .5-6.5-.4-6.5 1.5-5 3.8-3.3 4.1-1.7 5.6-3 6.4-5.5 5.5-1 .5-6.5 2.5-5.5 3.5-6 3-6.5 .3-16.8 11.2-6.2 2.3-4.2 4.2-14.3 .1-8 3.1-7 4.9-6.7 7.4-3.2 7.5-.7 8.5-3.9 1.3z"/>
<path fill="#0d84e8" d="M272.5 136.5l-3.5 .4-.7-.4 5-2.5 5.2-8.1 6.8-7.4 2.7-9 3.5-6.6 4.9-6.4 2.4-7 2.2-11.7 2.4-6.8 .4-2 1.3-9-.4-7-.5-2 .3-.5 1.9 2 2.1 4 .5 2 0 2.5-1.6 10.5-2.4 7.5-2.3 11.5-2.3 7-1 2-4.4 6-2.7 5-3.8 10.5-7 7.2-5.5 6.7-1.5 1.1zM175.5 164l-1.5 .4-.5-.4 2.5-1.4 16-11.7 2-.7 4-.3 2-.8 8-6.6 6.3-4 4.6-6 4.9-11.5 3.7-4.5 5.1-4 2.9-1.4 2.5 .1 6 1.9 2.7 2.4 0 .5-3.2 0-6.5 1.5-5 3.7-3.3 4.3-2.2 6.7-2.5 5.1-5.7 5.7-6.8 2.7-6.2 3.8-5.2 2.5-6.6 .2zM124 202.5l-2 .3-.4-.3 1.6-2-.7-4.5 .7-4 4-8 7.3-7.3 8-5.1 7.5-2.7 2.5-.3 12 .6 1.5-.6 2.5-1.9 .1 .3-3.1 3.3-14 0-7.5 2.9-7 4.9-7.6 8.4-2.9 7-.9 8.5z"/>
<path fill="#0e7feb" d="M274 134.2l.5-1.7 4-6.3 6.9-7.7 2.6-8.7 3.5-6.6 4.8-6.2 .4-1 2.2-6.5 2.1-11.1 2.7-8.4 1.6-9.5-.3-6 .5-.2 1.8 3.7-.1 4.5-1.5 9-2.4 7.5-2.3 11.5-2.2 6.5-1.1 2-4.1 5.5-2.7 5-3.8 10.5-6.7 7-4.9 6zM204.5 149.5l-1 .3-.3-.3 6.3-5.5 6-3.8 4.4-5.2 2.4-4.5 2.7-7.5 4.5-5.4 4.5-3.5 2.5-1 2.5 .3 4.5 1.8 .2 .3-.9 .5-6.3 1.6-4.9 3.9-2.8 3.5-2.3 7-2.5 5.1-5.9 5.9-7.1 2.7zM125.5 199.9l-.5-.5-.4-2.4 .4-3.6 3-6.5 2.5-3.1 .3 .2-.3 .5-1.4 1.5-2.9 7.5z"/>
<path fill="#0e79ec" d="M297 97.1l0-1.1 1-2.9 .3 .4-.3 1zM295.5 99.4l-.3-.4 1.3-1.6 .2 .1zM293.5 102l0-1 1.5-1.9 .4 .4zM290 107.9l-.3-.4 .3-.7 2-3.9 1-1.2 .5 .3zM289 109.9l-.5-.4 .5-.8 .4 .3zM287.5 114.3l-.4-.3 1.4-4.5 .5 .5zM287 115.9l-.2-.4 .2-1.4 .4 .4zM214.5 144l-1.3 0 3.8-2.6 4.8-5.9 2.3-4.5 2.5-7 3.4-4.3 6-4.5 2.5-.2 2.4 1-.7 .5-3.2 .7-5.5 4.3-2.9 3.5-2.1 6.6-2.9 5.9-5.6 5.3z"/>
</g>
<g filter="url(#bl)">
<path fill="#04d382" d="M134.5 226.5l-5 0-5-.7-4-1.1-7-2.7-12 3.7-2.5 .4-2-1.6-1-2-1.8-1.5-.2-1 1-1.2 8.5-3.6 5.5-2.8 6-4.5 3-1.6 4-2.1 4.5-1.7 .6-8.5 3.1-7.5 6.8-7.4 7-4.9 7.5-2.8 14.5 0 4.5-4.4 6-2.3 17-11.4 6.4-.3 5.6-2.8 6-3.8 7-2.8 6-6.1 2.6-5.5 2.1-6.5 3.3-3.9 4.5-3.5 6.5-1.3 5.5 .9 2.6 2.8 2.8 6.5 1.8 6.5 .8 .4 3-2 .8-.9 .1-1-.5-5.5 1-3.5-.7-4 .4-2 4.4-6.4 .6-2.6 1.2-2 4.4-10.5 4.5-7.5 2-8 2.9-8 1.5-2.5 2.1-2.5 1.9-4 4.4-5.7 2.2-6.3 2.8-5.3 1-.5 2 .9 2.5 3.4 2.2 5.5 .7 7.5-1.7 10.5-2.2 6.5-2.4 12-2.4 7-4.7 6-3.5 6.7-3 9.3-6.5 7-5.3 8-7.7 3.2-2 2-1.5 .8-2 0-2.5-1.2-1 .2-4.5 11 2.6 4 .2 1-2.3 3-5 4.4-5.5 3-8.5 2.5-4 .6-6.5 2.2-6 3.1-9.5 3.9-7 1.1-14 8.5-1.5 .3-3-.7-1 .2-5.5 3.5-6.5 2.2-1 1.2-1.6 7.5-2.1 5.5-2.9 5-3.9 4.6-5 4.2-5 2.9-6 2.2z"/>
<path fill="#03dd71" d="M261.5 139.1l-2.2-.6-.8-1-.4-1.5 .5-1.5 2.2-2.5 .4-1-.4-5.5 1.3-3.5-.5-4 .3-1.5 4.7-7 1.5-5.5 1.3-2 4.3-9.5 3.8-5.9 2-8.1 2.9-8 3.5-5 2.1-4.5 4-6 2.5-7.6 2.1-3.4 .9-.3 1 .2 2.9 3.6 2.3 5.5 .6 7.5-1.6 10.5-2.3 6.5-2.4 12-2.4 7-4.6 6-3.5 6.6-3.1 9.4-6.4 7-5.4 8-7.6 3.1-2 1.8zM100 225l-1.5 .1-1.5-1.3-2-3.3-.4-1 .2-.5 8.7-3.7 5-2.5 6.5-4.8 7-3.8 4.5-1.6 .6-8.6 2.6-6.5 .5-1 7.3-7.7 6.5-4.5 7.5-2.9 14.5 .1 4.5-4.4 6-2.3 17-11.4 6.5-.4 5.5-2.7 5.5-3.6 7.5-3.1 6-6 2.7-5.6 2.1-6.5 3.2-3.9 4.5-3.4 7-1.3 5 .9 2.1 2.2 2.7 7.5 .9 6-.1 3-.8 3.5-3 7.5 .6 2 1.6 2.5-3.3 4-3.7 3.2-3.5 2.1-6 2.7-7 1-9 2.5-5.5 2.9-8 3.4-8 1.7-14.5 8.8-1.5 .4-4-.6-6 3.6-6.5 1.7-.9 1.1-1.1 2.9-1.1 5.6-1.3 4-3.4 6.5-2.8 3.5-3.4 3.2-3.5 2.5-4 2.2-7 2.2-7.5 .5-7-1.1-8-2.8-9.5 3.5z"/>
<path fill="#01e761" d="M262 138.6l-1 .1-1.2-.7-.7-2 .4-1.5 2-3-.3-5.5 .3-1.3 1.1-1.7 .2-5.5 1-2 4.1-5.5 2.3-8 1.3-2 3.5-7.2 3.5-5.3 2.4-9 2.2-6.5 1.9-3.5 2.2-3 2-4.5 3.5-6 1.9-7 2.4-3.6 1.5-.3 2.8 3.4 2.3 5.5 .7 7.5-1.6 10-2.3 7-2.3 11.5-2.3 7-4.9 6.5-3.4 6.5-3.1 9.5-6.5 7-5 7.5-.4 .5-7.5 3zM100 224.1l-1.5 .1-1-.6-1.5-1.6-1.2-2.5 .2-.4 8-3.4 6-3.1 6.2-4.6 6.8-3.7 4.5-1.7 .7-8.6 3.1-7.5 6.3-7 4.4-3.1 3-2.1 7.5-2.8 14.5 .1 4.5-4.4 6-2.4 17-11.4 6.5-.3 5.5-2.8 5.5-3.5 7.5-3.1 6-6 2.5-5.2 2.7-7.5 2.8-3.4 4.5-3.4 7-1.2 5 .9 2 2.1 2.3 8 .5 5-.1 3-.6 3.5-1.4 4-1.7 3.4 1.9 3.6-3.3 4-3.6 3-6.5 3.7-8 1.5-6.5 2.5-6 1-12 5.4-3 .8-4.5 .5-15 9.1-2 .5-3.5-.2-6.5 3.9-3 .8-3.5 .3-1 1.2-4.7 14-2.9 5.5-2.4 3-3 2.9-3.5 2.5-3.5 1.9-6.5 2.1-6.5 .5-6-.8-8-2.6-10.3 4.5z"/>
<path fill="#06ef50" d="M262.5 138.2l-1 .1-1-.4-.8-1.9 .5-1.5 1.6-2.5-.3-5.5 1.7-3 0-3.5 .4-2 5.3-7.5 1.8-6.5 1.9-4.5 3.6-6.5 3.4-5 2.5-9.5 2.3-6.5 3.7-6 5.2-11 1.7-7 2.1-3 1.4-.7 2.8 3.2 2.3 5.5 .6 7.5-1.5 10-2.4 7-2.2 11.5-2.4 7-4.8 6.5-3.4 6.5-3.2 9.5-6.4 7-5 7.5-.5 .5-7.5 3zM99 223.1l-1-.3-2-1.7-1-1.7 14-6.7 6.3-4.7 6.7-3.7 4.5-1.6 .7-8.7 3.1-7.5 6.7-7.3 7-4.8 7.5-2.8 5.5 .3 9-.2 4.5-4.5 6-2.3 17-11.4 6.5-.4 5.5-2.7 5.5-3.5 7.5-3.2 6-6 2.6-5.2 2.6-7.5 2.8-3.3 4.5-3.4 7-1.3 5 1 2 2.1 1.8 8.4 .3 4.5-.8 6.5-2.6 6.5 1.4 3 0 1-5.1 5.2-3 2.2-5.5 2.3-7 1.4-6.5 2.7-8.5 1.1-11 4.9-6.5 1-15.5 9.5-2 .6-3 .1-4.5 2.9-3 1.3-6.5 .6-1.9 5.7-2.5 5-1.8 5.5-2.4 4.5-4.9 5.5-3 2.3-3.5 2-6 1.9-6 .6-6-.7-7.5-2.4-2 .7-6.5 3.6z"/>
<path fill="#18f241" d="M263 137.7l-1 .3-1-.3-.7-1.7 1.7-3.5-.2-5.5 .3-1 1.5-2 .5-5 1.3-2.5 4.2-5.5 2.1-7 3-6.5 5.8-9.2 2.5-9.3 2.1-6.5 3.8-6.5 4.9-11 1.7-6.9 2-3.1 1-.6 2.7 3.1 2.3 5.5 .7 7.5-1.5 10-2.4 7-2.3 11.5-2.3 7-4.8 6.5-3.5 6.5-3.1 9.5-6.5 7-5.3 7.9-7.5 3zM102 220l-4 .3-1.8-.8 12.8-6.7 6.5-4.8 3.5-2 3-1.6 4.5-1.7 .7-8.7 3.2-7.5 6.6-7.2 7-4.9 7.5-2.8 5.5 .4 9-.3 4.5-4.4 6-2.4 17.1-11.4 6.4-.3 5.5-2.8 6-3.8 7-2.8 6-6 2.6-5.3 2.6-7.5 2.8-3.3 4.5-3.4 7-1.2 4.9 .9 2.1 2.3-.3 1.2 1.5 7 .3 5-.9 6-2.2 5.5 .4 2 .8 1-.1 .8-3 3.5-3.5 2.8-5 2.6-3.5 1-4.5 .8-6.5 3-4 .8-5 .1-11 4.9-6.5 1-16 9.7-2 .7-3 .3-4.5 2.9-3 1.3-2.5 .4-4.5-.2-.5 .7-1.6 5.9-2.7 5-1.9 5.5-2.2 4-2.3 3-2.6 2.5-3.2 2.3-3 1.6-5.5 1.8-5.5 .5-5-.6-6.5-2.1-1.5-.1-4 1.2-2.8 2.4-2.2 1.1z"/>
<path fill="#2bf632" d="M263 137.5l-1.5 0-.7-1.5 1.5-3.5-.3-5 .5-1.2 1.5-1.8 .6-5 1.3-2.5 4.6-6 1.8-6.5 2.5-5.5 1.8-3.5 4.7-7 4.5-15.5 3.9-7 4.7-11 1.5-6.5 2.1-3.2 .5-.4 .5 .2 2.1 2.4 2.4 5.7 .7 7.3-1.6 10-2.3 7-2.4 12-2.2 6.5-4.9 6.5-3.4 6.5-3.2 9.5-6.4 7-5.3 7.8-7.5 3zM109.5 218.1l-2 .3-1.5-.2-1.7-.7-1-1 1.8-1.5 5.9-3.2 3.9-3.3 2.5-1.5 4.6-2.6 4.5-1.6 .8-8.8 3.1-7.5 6.4-7 3.7-2.6 4-2.6 7-2.6 5.5 .5 9-.4 4.5-4.5 6-2.3 17.2-11.5 6.3-.3 5.5-2.7 6-3.8 7-2.9 6-5.9 2.8-5.9 2.5-7 2.7-3.3 4.5-3.4 6.5-1.1 2.9 .3 2.3 .5 2.3 2.5-.7 1.5 1.4 7 0 4.5-.8 5.5-1.9 5.2 0 .8 1 2.9-2.6 3.1-3.4 2.9-5.5 2.9-8 1.7-6.5 3.1-4 .7-5 0-11 4.9-6.5 1-14.5 9.2-3 1.2-3.5 .7-6.5 3.8-3.5 .6-5-.6-.6 .9-1.6 6.5-3.1 5.5-1.6 4.5-1.8 3.5-4.3 5.3-3 2.3-3 1.8-5.5 1.8-5.5 .6-5-.6-7-2.2-6 1.3-2 2.6z"/>
<path fill="#54f826" d="M263.5 137.1l-1.5 .2-.8-1.3 1.4-3.5-.2-5 2-2.5 .7-5 1.3-2.5 4.6-6 1.9-6.5 1.3-3 3.7-7.5 3.9-5.5 4.7-16 4-7.3 4.6-11.2 1.4-5.9 1.5-2.3 1-.8 2 2 2.5 5.9 .6 7.1-1.5 10-2.4 7-2.4 12-2.2 6.5-4.8 6.5-3.5 6.5-3.1 9.5-6.5 7-5.2 7.8zM135 214.6l-6 0-4-.9-5-1.9-4.5 .9-2.8-.7-.3-.5 1.6-2 3.5-2.5 4.5-2.5 4.5-1.6 .8-8.9 2.9-7 6.8-7.6 7.1-4.9 6.9-2.6 3.3 .1 2.7 .5 9-.6 4.5-4.5 6-2.3 17.4-11.6 6.1-.2 5.5-2.7 6-3.9 7-2.8 6-5.9 2.9-6 2.4-7 2.7-3.2 4.5-3.4 7-1.2 4.5 .8 1.5 1.5 .7 1-.8 2 1.1 6.4 0 2.6-.6 6-1.9 5.7 0 .8 1.1 2.5-.1 .9-4.5 4.8-3 2.1-3 1.5-3.5 1.1-5.5 1-6 2.9-4 .8-5.5-.1-10.5 4.8-7 1.1-14.5 9.2-3 1.3-3.5 .8-6.5 3.7-3.5 .5-5.5-1.9-.5 1-.7 5.5-1 3-3.2 5.5-2.3 6-2.2 3.5-3.1 3.3-4 2.9-4.5 2zM108 217l-2-.4-.7-.6 0-.5 2-1.5 4.2-1.9 .4 .4-1 3-1.4 1.1z"/>
<path fill="#80f91a" d="M263 137l-1-.3-.3-.7 1.2-3.5-.4-4 .5-1.3 1.7-1.7 .4-3.5 .7-2 1.3-2.5 4.4-5.6 2.1-6.9 1.5-3.5 3.3-6.5 4.1-6 4.7-16 3.8-7 4.6-11.5 1.4-5.3 1.5-2.4 1-.6 1.5 1.4 2.4 5.9 .7 7-1.6 10-2.3 7-2.4 12-2.2 6.5-4.9 6.5-3.4 6.5-3.2 9.5-6.4 7-5 7.5zM169 181.6l-3 .3-2.7-1.4-2.7-5-.9-2.5 .4-.5 5.9-.6 4.5-4.4 6-2.3 17.5-11.7 6-.2 5.5-2.7 6-3.8 7-2.9 6-5.9 2.9-6 2.5-7 2.6-3.2 4.5-3.4 6.5-1.1 4.6 .7 .8 .5 1.6 2.5-1.1 2 .9 6.5-.3 5-.8 4-1.2 3.5 0 1 1.4 3.5-2.3 3-2.6 2.4-3 2-3 1.4-3.5 1.1-5 .8-6 2.9-4 .8-6-.1-10.5 4.8-6.5 1-15 9.5-3 1.2-3.5 .8zM133 214l-3.5-.1-3.5-.6-7-2.8-3.5 .1-.8-.6 .1-.5 .9-1 3.7-2.5 2.7-1.5 4.4-1.6 .3-.4 .5-8.5 2.9-7 6.7-7.5 6.6-4.6 2-.9 6-2.1 3.6 .6 1.7 2 1.4 3 .7 3.5 0 4-1.3 5-3.1 5.4-2.2 6.1-3.5 5-4.3 3.7-5.5 2.7z"/>
<path fill="#a6fb11" d="M264 136.6l-1 .1-.8-.7 .9-3-.1-4.9 2-2.1 .6-4 1.2-3 5.3-7 2.3-7.5 3.8-8 4.7-7 4.9-16.5 3.7-6.9 4.7-11.6 1.5-5 1.3-2.1 1-.5 1 1 2.2 5.1 .8 7.5-1.5 10-2.4 7-2.3 12-2.2 6.5-4.9 6.5-3.5 6.5-3.1 9.5-6.5 7-5.1 7.7zM167 180.5l-1.5-.6-1.5-2-2-4.4 .3-1 4.2-.7 4-4.3 6-2.3 17.5-11.6 6-.2 5.5-2.7 6-3.9 7-2.9 6.1-5.9 2.8-6 2.5-7 2.6-3.1 4.5-3.4 6.5-1.1 5.1 1.1 1.5 3-1.4 2 .7 5.5-.1 3-.8 5-1.3 4 1.9 4.5-.1 .7-2.2 2.8-2.8 2.6-3 1.9-3 1.4-3.5 1.1-5 .7-6 2.9-4 .7-5.5-.2-10.5 4.8-6.5 .9-15.5 9.8-3 1.1-3.8 .8-5.3 2.5zM136 213l-5 .4-5-.8-5-2-3.5-1.9-.5-.7 1-1 2.4-1.5 6.1-2.5 .3-.5 .6-8.5 2.8-7 6.7-7.5 7.6-5.1 7-2.4 2.6 .5 2.5 3.5 1.4 4.5 .1 5-1.3 4.5-2.8 4.9-2.4 6.6-3.1 4.5-2.7 2.5-2.9 2-3.4 1.6z"/>
<path fill="#c7fc0b" d="M265 136.1l-1.5 .3-.7-.4 .5-2 .1-5.5 2.1-2.3 .5-3.7 1.5-3.5 5.2-7 2.1-7 3.8-8 4.9-7.5 4.7-16 3.7-7 5.4-12.5 1.3-4 1.2-2 .7-.2 2.6 5.2 .8 7.5-1.5 10-2.3 7-2.4 12-2.2 6.5-4.9 6.5-3.7 7-2.9 9-6.4 7-5.1 7.6zM167.5 177l-1-.1-1-.8-1.4-3.1 .4-.5 2-.5 4.2-4.5 5.8-2.2 17-11.4 6.5-.5 5.5-2.6 6-3.9 7.5-3.3 5.6-5.6 2.9-6 2.1-6.5 2.9-3.6 4.5-3.4 7-1.1 2.8 .6 1.5 1 1.4 2.5-1.7 2.5 .5 6.5-.7 5-1.3 4.5 1.7 3.5 .6 2-2.8 3.5-3 2.6-5.4 2.9-3.6 1-5 .7-5.7 2.8-3.8 .7-5.5-.3-10.5 4.8-7 1.1-14.4 9.2-3.5 1.5-2.6 .4-5.5-.3zM135.5 212.5l-5 .3-4.5-.8-4.8-2-2.7-1.7-.6-.8 1-1 3.4-2 4.2-1.5 .4-.5 .5-8.5 2.9-7 6.7-7.5 7.5-5.1 5.5-1.9 1.5-.3 1.6 .3 1.8 2 1.5 3 .8 3 .3 3.5-1 4.8-3 5.5-1.9 5.7-2.7 4.5-3.9 3.9-4.5 2.6z"/>
<path fill="#e8fe04" d="M265 136l-1.1 0-.5-.5 .1-5.5 .5-1.3 2-2.2 .3-3 .8-2.5 1.3-2.5 4.6-6 3.2-9.5 3.5-7 4.2-6 4.8-16.5 3.6-6.5 2.2-5.6 5.5-11.3 .5-.8 .5 0 2 3.7 .8 7.5-1.4 10-2.5 7.5-2.2 11.5-2.2 6.4-4.6 6.1-4 7.5-2.9 9-6.5 7-5 7.5zM177 175.6l-1.5-.2-8-2.5-.5-.3 0-.6 3.9-4.5 5.6-2.1 17-11.4 6-.3 6-2.9 6-3.9 7.5-3.2 5.7-5.7 2.8-6 2.1-6.5 2.9-3.6 4.5-3.3 6.8-1.1 2.2 .5 1.4 1 1.8 3-2.2 3 .5 6-1.6 7 .1 1 2.5 5.7-2.4 3.3-2.6 2.4-3 2.1-3 1.3-3.5 1-5 .7-6 2.8-3.5 .6-5.5-.2-11 5-6.5 .8-15.2 9.5zM134.5 212l-4.5 .1-4.5-.9-4.7-2.2-1.8-1.2-.3-.8 3.7-2.5 4.2-1.5 .8-9 2.9-7 6.7-7.4 7.5-5.1 6-2 1.4 0 2 2 1.7 3 .9 3.3 .2 3.2-.9 4.5-2.8 5.1-2 6.2-2.9 4.7-3.7 3.5-4.4 2.5z"/>
<path fill="#fffb03" d="M264.5 136.1l-.7-1.6 .2-4.1 2.2-2.9 .6-4 .9-2.5 5.9-8.5 2.9-9 3.5-7 4.6-7 2.7-10 2.2-6.5 3.4-6 2.6-5.9 6-10 1.5 2.4 .8 6.5-.3 2.8-1.2 7.7-2.4 7.5-2.3 11.5-2.1 6.3-4.6 6.2-4.1 7.5-2.8 8.9-6.5 7.1-5.1 7.5zM178 174l-2.5 0-6.5-2.9-.3-.6 1.8-2.5 6.5-2.8 16.6-11.2 6.4-.4 5.5-2.7 6-3.9 7-2.9 6.2-6.1 2.9-6 2-6.5 2.9-3.5 5-3.6 6-.7 1.5 .3 1.4 1 2.2 3.5-2.6 3.5 .3 5.5-1.3 5.5 2.6 5.5 .4 1.6-2.5 3.4-2.5 2.4-5.5 3.2-3.5 1-5.5 .7-5.5 2.7-3.5 .6-5.5-.2-11.3 5.1-6.7 .7-14.5 8.8zM135.5 211.1l-4.5 .3-4-.6-4.5-1.7-3-2.1 .7-1 2.4-1.5 4.1-1.5 .8-9 2.8-7 6.7-7.4 7.7-5.1 4.6-1.5 2.1 0 2.1 2.4 1.3 2.6 .8 3 .2 3-.8 4-2.9 5.5-1.6 5.5-2.5 4.4-3.5 3.6-4.1 2.5z"/>
<path fill="#fff00d" d="M265.5 135.6l-1 .3-.2-.4-.2-1 .4-3 2.5-3.5 .4-4 1.1-3.2 5.5-7.8 2-7 1.5-3.4 3.1-6.1 4.1-6 3.3-11.4 2.5-6.9 9.5-16.4 2-2.7 .5 .1 .5 1.2 .7 5.6-1.2 9.1-2.7 8.9-2.2 11.5-2.1 6.2-4.7 6.3-4 7.5-2.8 8.8-6.6 7.2-5.1 7.5zM176.5 171.6l-2.5-.1-3.5-1.8-.3-.7 .6-1 .9-.5 4.8-1.8 17.3-11.7 6.2-.2 6-3.1 5.6-3.7 7.4-3.2 5.7-5.8 2.9-6 2.1-6.5 2.8-3.5 4-3 1-.5 6.4-.5 2.4 2.5 1.7 3-3 3.5 .2 4.5-.7 4.5 3 6.5 0 .8-2.5 3.5-3 2.7-5.5 3-3.5 .9-5 .5-3.5 2-2.5 .9-3 .4-5-.3-12 5-7 .2-15.5 8.5zM136 210l-4.5 .5-4-.5-4.1-1.5-3-2 1.5-1.5 4.9-2 .7-9 2.9-7 2.1-2.5 4.8-5 6.6-4.5 4.1-1.5 2.5 0 2.5 3 1.4 3.5 .4 4-.8 4-2.8 5-1.9 6.5-2.6 4-2.2 2.3-2.5 1.8-3 1.5z"/>
<path fill="#ffe417" d="M265 135.5l-.4-.5 .7-2.5 2.5-3.5 .2-4 1.4-4 5.1-7.5 3-9.6 3.5-7 4.4-6.4 5.1-16.8 7.1-11.7 4.9-6.3 .5 .7 .6 3.6-1.1 8.7-2.8 9.3-2.1 11.5-2.5 7-4.4 5.5-4 7.5-2.7 8.7-6.7 7.3-5.1 7.5zM174 168.6l-1.4-.1-.6-.5 5-2.2 17-11.7 6-.2 6-3 5.8-3.9 7.2-3.1 5.8-5.9 2.8-6 2.1-6.5 2.9-3.5 4.4-3.3 2.5-.4 3.5 .2 3.1 3.5 1.2 2-3.3 4-.4 5.5 3.4 8.6-3 4.2-3.7 3.2-5.7 2.5-7.1 .9-3.5 2-3 1-3 .2-5-.7-12 4.1-6.5-.5-16.5 8.4zM136 209l-4 .5-4-.4-4-1.4-2.6-1.7 1.7-1.5 3.8-1.5 .6-9 3.2-7.5 7.3-7.5 6-4 2.8-1 2.2-.2 2.5 2.3 1.8 3.9 .5 4-.8 3.5-2.5 4.5-1.8 6.5-2.4 4-2.3 2.4-2.5 1.9z"/>
<path fill="#ffd821" d="M267 134.5l-.8 0 .1-.5 2.2-3.5 .4-4.5 1.4-4 4.9-8 2.2-8 3.1-6.8 5.4-8.2 5.6-17.4 7.5-11.2 3.5-3.5 .5 0 .3 1.6-1.3 10.5-2.2 6.5-2.3 12-2.5 7-4.3 5.5-4 7.5-2.7 8.6-6.8 7.4-5.2 7.5zM201 156.1l-2.5 0-4.6-1.1 .6-.5 5.5-.2 6.5-3.5 5.5-3.8 7-3.1 5.8-5.9 2.9-6 2-6.5 2.9-3.5 4.1-3 1.3-.5 3.2 0 2.8 2.5 2.5 4-2.7 3 .1 1-.5 .5 0 4 3.1 7-2.5 4-3 3-5 2.8-3.5 .9-5 .4-4 2.3-2.5 .8-4 .1-6-1.6zM133 208.5l-3 0-3-.6-3-1.2-1.6-1.2 1.1-1 3.5-1.5 .6-9 2.8-7 7-7.5 6.8-4.5 2.8-.8 1.5 .3 2 2 1.2 2 .8 2.5 .2 2.5-.6 3.5-2.6 4.7-1.9 6.8-2.5 4-3.4 3-4.2 2.1z"/>
<path fill="#ffcc29" d="M271 133.1l-1.6-.1 .5-2 .2-4 1.7-5 4.4-7.5 1.8-7.4 1-2.6 3.4-7 4.4-6.5 3.7-11.5 2.7-6.5 6.3-8.3 3-3 .3 1.3-.8 7.7-2.3 6.8-2.2 11.8-2.5 7.1-4.4 5.6-4 7.5-2.6 8.5-6.9 7.5-4.6 6.7zM220.5 153.6l-2.5 .1-2.5-.5-6.1-3.2-.1-.5 3-2.5 6.7-3 5.5-5.6 3.2-6.4 2.1-6.5 2.7-3.3 4.5-3.4 1.5-.3 2 .2 1.7 1.8 3.3 5.4-1.8 2.1 .1 1-.5 .5 0 4 2.2 5 .1 1-1 2-3.1 4-4 2.8-4.5 1.6-6 .4-4 2.5zM134 207.5l-3 .1-3-.4-3-1.1-1.6-1.1 3.8-2 .3-7.7 .5-2.3 2.5-6.1 6.5-7 7.5-4.9 2.5-.2 1.6 1.2 1.6 2 1.1 2.5 .4 2.5-.5 3.5-2.5 4.5-1.6 6.5-2.1 3.6-3 3.1-4 2.3z"/>
<path fill="#ffbd2d" d="M272 132.2l-.5-.2-.1-2.5 1.3-5.5 4.7-9 1.9-8 2.3-5.5 1.9-3.7 4.4-6.3 3.6-11 3-7.2 1.6-2.3 5.9-5.8 0 4.9-2.4 7.4-2.1 11.6-2.5 7.1-4.8 6.3-3.4 6.5-2.9 9-6.6 7zM221.5 152l-3 .5-3-.7-2.9-1.8-1.1-1.3-.1-.7 1.2-1 6.4-2.8 5.9-6.2 2.9-6 2-6.5 2.7-3.3 4.5-3.3 2-.4 1.4 .5 4.1 7.8-.9 1.2 0 1-.4 .5 0 4 1.8 4-1.5 3.4-2.8 3.6-3.7 2.7-4.5 1.5-6 .2zM134.5 206.5l-5 .1-4.7-1.6-.1-.5 2.6-1.5 .2-7.1 .5-2.8 2.5-6.1 6.5-7 6.9-4.5 2.1-.1 1.6 1.1 1.7 2 .9 2 .4 2.5-.6 3.5-2.3 4-1.2 6-1.8 3.5-2.7 3-3.5 2.3z"/>
<path fill="#ffaf31" d="M274.5 128.1l-.2-.6 .6-3 3.9-9 1.7-7.9 2.5-6 1.9-3.6 4-5.5 4.1-11.9 2.5-6 2-2.7 4-3.1 0 2.5-1.8 5.7-2.2 11.7-2.5 7.4-4.5 5.9-3.8 7-3 9zM220 151l-2.5 0-2-.6-2-1.5-.8-1.4 1.3-1 5-2.2 5.6-5.8 3.2-6.5 2-6.5 2.7-3.2 4.5-3.4 1.5-.2 1.3 .3 1.8 3 1.9 5.6 0 1.4-.4 .5 0 4 .5 .5 .4 2.3-1.7 4.2-2.8 3.4-3.5 2.3-4.5 1.4-6 .1-3 2.4zM134.5 205.6l-4.5 .1-4-1.2 0-.5 1.4-1 .1-6.4 .5-3.4 2.5-6.2 5-5.3 2.4-2.2 4.6-3 1-.5 1.5 0 2 1.4 1.3 1.6 .9 2 .3 2-.5 3.2-2.2 3.8-1.1 6-1.7 3.4-2.5 2.8-3.5 2.3z"/>
<path fill="#ffa034" d="M279 122.5l-.5 .2-.1-.7 2.1-5.5 1.4-8 2.1-5.6 2-3.9 4.2-6 4.3-11.2 2.6-5.8 1.7-2.5 1.7-1.3 0 1.6-1.3 4.2-1.7 10.1-2.5 7.8-4.7 6.1-4 7.5-2.7 8.5zM220 149.1l-3-.2-1.7-.9-.7-1 1.1-1 3.3-1.6 5.7-5.9 3.2-6.5 2-6.5 2.6-3.2 4.5-3.3 2.3 0 2 3.5 1.7 8.2-.1 4.8-1.9 4.7-2.5 2.9-3.5 2.2-4.5 1.1-6-.4-3 2.5zM135 204.5l-4 .4-3.7-.9 .6-10.5 2.6-6.3 3-3.4 3.9-3.8 2.2-1.5 2.6-1.5 1.8-.1 1.5 .8 1.5 1.4 1 1.9 .4 2-.6 3-2 3.5-.9 6-1.4 3-2.5 2.9-3 2.1z"/>
<path fill="#ff9237" d="M283 117.8l-.3-.3 1.2-8 2-6 1.8-3.5 4.1-5.5 5.2-12.6 1-2 .4 .1-1.4 9.6-2 5.9-4.9 6.5-3.8 7zM220 146l-1.5 .4-.9-.4 .2-.5 3.6-2.5 3.4-4.5 2.9-6 2.2-7 3.6-4 3.7-2.5 1.6 0 1.2 1.5 1.1 3 .8 9-.5 4-1.8 3.5-3 3-3.6 1.7-4.5 .4-6.5-1.5zM135 203.5l-3.5 .4-3.5-.7-.5-3.2 .5-6.5 2.5-6.3 3-3.3 3.5-3.3 2.5-1.6 2-.9 1.5 .1 2.6 1.8 1.1 3-.2 2-1.8 3.5-.2 4-.5 2.5-1.4 3-2 2.5-2.6 1.8z"/>
<path fill="#ff8636" d="M232.5 143.5l-2.5 .4-3-.3-3.5-1.6-.5-1 2.2-3 2.6-5.5 2.1-7 3-3.5 3.6-2.5 1.5-.5 .9 .5 .7 1 1.1 3.5-.3 11-1 3-1.8 2.5-2.6 2zM134.5 202.6l-3.5 .3-3-.9-.3-3 .3-5.5 2.7-6.5 4.3-4.5 2-1.5 4-.9 1.5 .2 1.5 1.1 .6 1.6-.2 1.5-1.1 2.5 .3 4.5-.7 3.5-1.4 2.8-1.9 2.2-2.6 1.7z"/>
<path fill="#ff7935" d="M230 142.5l-4-.7-1.5-.8-.5-1 1.4-2 2.5-5.5 2.1-7 3-3.5 3.8-2.5 1.2-.1 1.5 2.1 .8 3.5-1.6 11-1.3 2.5-1.9 2-2.5 1.4zM134.5 201.5l-4 .3-2-.5-.5-.6 0-7.1 2.8-6.6 4.2-4.3 1.5-.9 3 1.2 2-.1 .3 .6-.4 2 1.1 5.5-.7 4-1 2-1.8 2.1-2 1.4z"/>
<path fill="#ff6d35" d="M232 140.6l-2 .4-2.5-.3-2-.9-.3-.8 3.1-7.5 1.7-6 3-3.5 3.2-2 1.3-.3 1.5 2.2 .6 3.1-.3 2.5-1.4 3.5-.5 4-.8 2-1.1 1.5-1.5 1.2zM134 200.6l-3 .2-2.5-.7-.5-1.1-.1-5 3.1-7.3 3.5-3.4 1.5-.7 2.3 1.4 1.7 2 1.2 3 .2 3-.7 3-1.6 2.5-2.4 2z"/>
<path fill="#ff6034" d="M231.5 139.1l-3.5 .1-1.6-.7-.4-1 2.3-5.5 1.7-6.4 3-3.5 2.5-1.6 1.5-.2 .9 1.2 .7 2-.2 3.5-2 4-.4 3.2-.7 1.8-1.7 2zM134 199.5l-3 .2-2.5-.7-.5-1.1 0-3.9 3-7.2 3-2.8 1.5-.6 2.4 1.6 1.5 2 .9 2.5 .1 2.5-.6 2.5-1.3 2.1-2 1.8z"/>
<path fill="#ff5233" d="M229.5 137.5l-2-.5-.5-1 1.7-5 1.3-5.3 3-3.5 3-1.4 .8 .7 .8 2 .2 2-.5 2-2.7 4-1.2 4-1.7 1.5zM134 198.5l-3 .3-2.4-.8-.5-1.5-.1-2 2.9-7.5 2.1-2 1.5-.8 2 .9 1.8 1.9 .9 2 .3 2.5-.5 2.5-1.2 2-1.8 1.6z"/>
<path fill="#ff4433" d="M230.5 134.1l-1 .2-.9-.8 1.4-7.7 3-3.5 1.5-.9 1-.1 .9 1.2 .5 1.5-.3 3-1.6 2.4-3.4 2.6zM134 197.5l-2.5 .4-2.5-.7-.5-.4-.3-2.3 .8-3 2-4.5 2-1.7 1-.4 1.5 .6 1.6 1.5 1.1 2 .4 2-.3 2-.9 2-1.5 1.5z"/>
<path fill="#ff3732" d="M232.5 130.1l-2 .3-1-.4 0-2 .5-2 3-3.6 2-.6 1.1 2.2-.1 2.5-1.1 2zM134 196.6l-2 .4-2-.3-1.5-1.1-.1-1.1 .6-2.7 2-4.6 1.5-1.3 1-.2 1.5 .6 1.3 1.2 .9 1.5 .5 2-.3 2-.8 1.5z"/>
<path fill="#fd2b34" d="M231 129.5l-1.3-.5 .3-3 3-3.5 1.5-.2 1 2.2-.5 2.5-1.5 1.7zM132.5 196l-2.9-.5-.6-.4-.4-1.1 .9-3.3 1.5-3.2 1-.8 1-.2 1.5 .6 1.4 1.4 .7 1.5 .1 1.5-.3 1.5-1 1.5-1.4 1.1z"/>
<path fill="#f62439" d="M232 128.6l-2-.1 0-2.1 1.5-2.2 2-1.6 .7 .4 .4 1 0 2-.8 1.5zM132.5 195.1l-2-.2-1-.6-.5-.8 1-3.7 1-1.8 1-.7 1.2 .2 1.3 .8 .9 1.2 .4 1.5-.8 2.5-1 1z"/>
<path fill="#ef1c3f" d="M231 128l-.8-.5 .3-2 2-2.1 1 0 .5 1.6-.4 1.5-1.1 1.1zM132.5 194l-2-.2-1-1.3 1-3.2 .5-.7 1-.3 2 .9 .8 1.8-.7 2z"/>
<path fill="#e91544" d="M232 127l-1.5 .1-.1-1.1 1.1-1.5 1-.7 .5 .2 .2 1.5zM133 192.5l-1.5 .4-1-.6-.2-1.3 .7-1.3 1-.3 1.2 .6 .4 1.5z"/>
<path fill="#e0104a" d="M231.5 126.3l-.5 0 0-.8 1-1 .3 1z"/>
</g>
</g>
<rect x="252.5" y="196" width="10.8" height="59.9" fill="url(#gud)"/>
<path d="M263 196h5.8M263 226h5.8M263 255.9h5.8" stroke="#262626" stroke-width="1.1"/>
<text x="272.8" y="198.8" class="cb">5.</text>
<text x="272.8" y="228.8" class="cb">2.</text>
<text x="272.8" y="258.7" class="cb">-1.</text>
<text transform="translate(305.7,224.95) rotate(-90)" text-anchor="middle" class="cbl" textLength="32.3" lengthAdjust="spacingAndGlyphs">UD(m)</text>
<text transform="translate(102.58,208.13) rotate(-40)" text-anchor="middle" class="fl" textLength="14" lengthAdjust="spacingAndGlyphs">MF</text>
<text transform="translate(125.03,178.08) rotate(-50)" text-anchor="middle" class="fl" textLength="17" lengthAdjust="spacingAndGlyphs">SyS</text>
<text transform="translate(175.16,152.74) rotate(-32)" text-anchor="middle" class="fl" textLength="19" lengthAdjust="spacingAndGlyphs">WjS</text>
<text transform="translate(217.42,128.92) rotate(-45)" text-anchor="middle" class="fl" textLength="17" lengthAdjust="spacingAndGlyphs">SzS</text>
<text transform="translate(304.27,102.74) rotate(-62)" text-anchor="middle" class="fl" textLength="22" lengthAdjust="spacingAndGlyphs">TTSF</text>
<g transform="translate(123.0,81.3) rotate(31.4)" fill="#86f9c2" stroke="#8a8a8a" stroke-width="0.8">
<polygon points="-26,-3.2 -6.5,-3.2 -6.5,-6.7 0,0 -6.5,6.7 -6.5,3.2 -26,3.2"/>
<polygon points="27,-3.2 7,-3.2 7,-6.7 0.5,0.3 7,6.9 7,3.2 27,3.2"/>
</g>
<text transform="translate(119.6,58.2) rotate(33)" class="sg">σ<tspan font-size="7.2" dy="2.6">Hmax</tspan></text>
</g>
<g transform="translate(0,0)">
<path d="M406.5 4.38H677.4V270.3H406.5z" fill="none" stroke="#404040" stroke-width="1.15"/>
<path d="M399.9 257h13.2M399.9 222.9h13.2M399.9 188.8h13.2M399.9 154.7h13.2M399.9 120.6h13.2M399.9 86.5h13.2M399.9 52.4h13.2M399.9 18.3h13.2M435.4 263.5v13M469.5 263.5v13M503.6 263.5v13M537.7 263.5v13M571.8 263.5v13M605.9 263.5v13M640 263.5v13M674.1 263.5v13" stroke="#303030" stroke-width="1.1"/>
<text x="399.5" y="259.9" text-anchor="end" class="tr" textLength="14.7" lengthAdjust="spacingAndGlyphs">-20</text>
<text x="399.5" y="225.8" text-anchor="end" class="tr" textLength="5.75" lengthAdjust="spacingAndGlyphs">0</text>
<text x="399.5" y="191.7" text-anchor="end" class="tr" textLength="11.5" lengthAdjust="spacingAndGlyphs">20</text>
<text x="399.5" y="157.6" text-anchor="end" class="tr" textLength="11.5" lengthAdjust="spacingAndGlyphs">40</text>
<text x="399.5" y="123.5" text-anchor="end" class="tr" textLength="11.5" lengthAdjust="spacingAndGlyphs">60</text>
<text x="399.5" y="89.4" text-anchor="end" class="tr" textLength="11.5" lengthAdjust="spacingAndGlyphs">80</text>
<text x="399.5" y="55.3" text-anchor="end" class="tr" textLength="17.25" lengthAdjust="spacingAndGlyphs">100</text>
<text x="399.5" y="21.2" text-anchor="end" class="tr" textLength="17.25" lengthAdjust="spacingAndGlyphs">120</text>
<text x="435.4" y="285.3" text-anchor="middle" class="tr" textLength="5.75" lengthAdjust="spacingAndGlyphs">0</text>
<text x="469.5" y="285.3" text-anchor="middle" class="tr" textLength="11.5" lengthAdjust="spacingAndGlyphs">20</text>
<text x="503.6" y="285.3" text-anchor="middle" class="tr" textLength="11.5" lengthAdjust="spacingAndGlyphs">40</text>
<text x="537.7" y="285.3" text-anchor="middle" class="tr" textLength="11.5" lengthAdjust="spacingAndGlyphs">60</text>
<text x="571.8" y="285.3" text-anchor="middle" class="tr" textLength="11.5" lengthAdjust="spacingAndGlyphs">80</text>
<text x="605.9" y="285.3" text-anchor="middle" class="tr" textLength="17.25" lengthAdjust="spacingAndGlyphs">100</text>
<text x="640" y="285.3" text-anchor="middle" class="tr" textLength="17.25" lengthAdjust="spacingAndGlyphs">120</text>
<text x="674.1" y="285.3" text-anchor="middle" class="tr" textLength="17.25" lengthAdjust="spacingAndGlyphs">140</text>
<text x="341.6" y="139.6" class="al2" textLength="44.2" lengthAdjust="spacingAndGlyphs">Northing</text>
<text x="541.9" y="298.4" text-anchor="middle" class="al" textLength="60.5" lengthAdjust="spacingAndGlyphs" clip-path="url(#ec)">Easting(km)</text>
<text x="346.4" y="20.6" class="pl" textLength="20.6" lengthAdjust="spacingAndGlyphs">(b)</text>
<use href="#rm"/>
<g filter="url(#bl)">
<path fill="#321a4e" d="M607.5 139.4l-.9-.4 0-1-7-14 0-1-1-1.5 0-1 3-3 0-.5 2-2 1.5-2.5 2-2 0-.5 6-7.5 4-10 3.5-7 4-5 .5-2 .5-.5 0-1 1-1.5 0-1 .5-.5 .5-2.5 .5-.5 0-1 .5-.5 0-1 .5-.5 0-1 .5-.5 0-1.5 .5-.5 .5-3 .5-.5 0-1.5 .5-.5 1-4 .5-.5 0-1.5 .5-.5 .5-3.5 .5-.5 .1-9.5-.5-.5 0-2-.5-.5 .1-2-2-4 .2-.8 3.8 5.3 0 .5 7.1 7 1.5 3.5 1 1 1.5 3 0 1 .5 .5 0 2 .5 .5 .1 9.5-.5 .5 0 1.5-.5 .5-.5 3.5-1 2 0 1-.5 .5 0 1.5-.5 .5 0 2-.5 .5 0 2-.5 .5 0 3-.5 .5 0 3.5-.5 .5 0 1.5-1 2 0 1-2 4 0 1-8 14.5 0 1-2.5 5-1 4-3.5 3-.5 0-2 2-.5 0-3 3 0 .5-2 2 0 .5-3 3-.5 0-2 1.9-.5 0-2 2z"/>
<path fill="#382b74" d="M607.5 139.4l-.9-.4 0-1-7-14 0-1-.9-1.5 0-1 3-3 0-.5 2-2 1.5-2.5 2-2 0-.5 6-7.5 1-2 0-1 1-1.5 0-1 1-1.5 0-1 4.5-9 3-3.5 1.5-2.5 .5-2.5 1-1.5 2-7 .5-.5 0-1 .5-.5 .5-3.5 1-2 0-1.5 2-5 .6-3.5 .9-2.5 .1-10.5 .7-.5 2.5 .5 1 .5 3.7 3.5 1.6 3.5 1 1 1.5 3 0 1 .5 .5 .1 2 .5 .5 0 9.5-.5 .5 0 1.5-.5 .5-.5 3.5-1 2 0 1-.5 .5 0 1.5-.5 .5 0 2-.5 .5 0 2-.5 .5 0 3-.5 .5 0 3.5-.5 .5 0 1.5-1 2 0 1-1 1.5 0 1-1 1.5 0 1-8 14.5 0 1-2.5 5-1 4-3.4 2.9-.5 0-2 2-.5 0-3.1 3.1 0 .5-2 2 0 .5-2.9 2.9-.5 0-2 2-.5 0-2 2z"/>
<path fill="#3d3e9b" d="M607.5 139.3l-.8-.3 0-1-7.1-14 0-1-.9-1.5 .1-1 2.9-3 .1-.5 1.9-2 1.5-2.5 2-2 0-.5 6-7.5 1-2 0-1 1-1.5 0-1 1-1.5 0-1 4.5-9 4-5 1-3.5 1.5-3 2-7 .5-.5 .5-3.5 1-2 .1-1.5 1.9-5 .6-3.5 1-2.5 .4-9 .3-.5 1-.1 3.5 .6 2.6 2.5 1.6 3.5 1.1 1 1.5 3 0 1 .5 .5 0 2 .5 .5 .1 9.5-.5 .5 0 1.5-.5 .5-.5 3.5-1 2 0 1-.5 .5 0 1.5-.5 .5 0 2-.5 .5 0 2-.5 .5 0 3-.5 .5 0 3.5-.5 .5 0 1.5-1 2 0 1-1 1.5 0 1-1 1.5 0 1-8 14.5 0 1-2.5 5-1 4-3.4 2.9-.5 0-2 2-.5 0-3.1 3.1 0 .5-2 2 0 .5-2.9 2.9-.5 0-2 2-.5 0-2 1.9z"/>
<path fill="#414eb7" d="M607.5 139.3l-.8-.3 0-1-7-14 0-1-1-1.5 .1-1 3-3 0-.5 1.9-2 1.6-2.5 1.9-2 .1-.5 5.9-7.5 1-2 .1-1 .9-1.5 .1-1 .9-1.5 .1-1 4.5-9 2.9-3.5 1.5-2.5 .6-2.5 .9-1.5 2.6-8.5 .4-.5 .1-1.5 .4-.5 .6-3 .4-.5 .1-1.5 .4-.5 .1-1 1.4-3.5 .1-1.5 .5-.5 0-1.5 1-2.5 .7-8.4 2.5-.2 3 .7 1.6 1.4 1.6 3.5 1 1 1.6 3 0 1 .5 .5 0 2 .5 1 0 9-.4 .5 0 1.5-.5 .5-.5 3.5-1 2 0 1-.5 .5 0 1.5-.5 .5 0 2-.5 .5 0 2-.5 .5 0 3-.5 .5 0 3.5-.5 .5 0 1.5-1 2 0 1-1 1.5 0 1-1 1.5 0 1-2 4-1 1-1.5 3.5-1 1-2.5 5 0 1-2.5 5-1 4-3.4 2.9-.5 0-2 2-.5 0-3.1 3.1 0 .5-2 2 0 .5-2.9 2.8-.5 0-2 2-.5 0-2 2z"/>
<path fill="#435dce" d="M607.5 139.3l-.8-.3 0-1-7-14 0-1-.9-1.5 .1-1 2.9-3 .1-.5 1.9-2 1.5-2.5 2-2 0-.5 6-7.5 .9-2 .1-1 .9-1.5 .1-1 .9-1.5 .1-1 4.5-9 2.9-3.5 1.5-2.5 .6-2.5 .9-1.5 2.6-8.5 .4-.5 .1-1.5 .4-.5 .6-3 .5-.5 0-1.5 2-5 .6-3.5 .9-2.5 .8-7 .4-.5 1.5-.2 4 .6 1 .6 1.7 3.5 1 1 2.1 4.5 0 2 .5 .5 0 9.5-.5 .5 0 1.5-.5 .5-.5 3.5-1 2 0 1-.5 .5 0 1.5-.5 .5 0 2-.4 .5-.1 2-.4 .5 0 3-.5 .5 0 3.5-.5 .5 0 1.5-1 2 0 1-1 1.5 0 1-1 1.5 0 1-2 4-1 1-1.5 3.5-1 1-2.5 5 0 1-2.5 5-1.1 4-3.3 2.8-.5 0-2 2-.5 0-3.2 3.2 0 .5-2 2 0 .5-2.8 2.8-.5 0-2 2-.5 0-2 2z"/>
<path fill="#446fe2" d="M607.5 139.3l-.8-.3 0-1-7-14 0-1-.9-1.5 .1-1 2.9-3 .1-.5 1.9-2 1.6-2.5 1.9-2 0-.5 6-7.5 1-2 0-1 1-1.5 0-1 1-1.5 0-1 4-8 5-7 .5-2.5 1-1.5 2.5-8.5 .5-.5 0-1.5 1.5-4 .1-1.5 1.9-5 .6-3.5 1-2.5 .7-6 .4-.6 2-.3 4 .7 1 .7 1.1 2.5 1 1 2.1 4.5 .1 2 .5 .5 0 9.5-.5 .5 0 1.5-.5 .5-.5 3.5-1 2 0 1-.5 .5 0 1.5-.5 .5 0 2-.5 .5 0 2-.5 .5 0 3-.5 .5 0 3.5-.5 .5 0 1.5-1 2 0 1-1 1.5 0 1-1 1.5 0 1-2 4-1 1-1.5 3.5-1 1-2.5 5 0 1-2.5 5-1 4-3.3 2.8-.5 0-2 2-.5 0-3.2 3.2 0 .5-2 2 0 .5-2.8 2.8-.5 0-2 2-.5 0-2 2z"/>
<path fill="#437dee" d="M607.5 139.2l-.7-.2-.1-1-7-14 0-1-.9-1.5 .1-1 3-3 0-.5 1.9-2 1.6-2.5 1.9-2 .1-.5 5.9-7.5 1-2 .1-1 .9-1.5 .1-1 .9-1.5 0-1 4-8 5-7 .6-2.5 .9-1.5 2.5-8.5 .5-.5 .1-1.5 1.4-4 .1-1.5 1.9-5 2.7-11.8 2.5-.4 3 .5 2 1.2 3.7 7 0 2 .5 .5 .1 9.5-.5 .5 0 1.5-.5 .5-.5 3.5-1 2 0 1-.5 .5 0 1.5-.5 .5 0 2-.5 .5 0 2-.5 .5 0 3-.5 .5 0 3.5-.5 .5 0 1.5-1 2 0 1-1 1.5 0 1-1 1.5 0 1-2 4-1 1-1.5 3.5-1 1-2.5 5 0 1-2.5 5-1 4-3.3 2.8-.5 0-2 2-.5 0-3.2 3.2 0 .5-2 2 0 .5-2.8 2.8-.5 0-2 2-.5 0-2 2z"/>
<path fill="#3f8ef4" d="M607.5 139.2l-.7-.2 0-1-7-14 0-1-.9-1.5 .1-1 2.9-3 11.4-15 1-2 .1-1 .9-1.5 .1-1 .9-1.5 .1-1 4-8 4.9-7 .6-2.5 .9-1.5 2.6-8.5 .4-.5 .6-3.5 3-8.5 2.6-11 3-.5 3 .7 1.5 .6 .5 .7 3.2 6 0 2 .5 .5 .1 9.5-.5 .5 0 1.5-.5 .5-.5 3.5-1 2 0 1-.5 .5 0 1.5-.5 .5 0 2-.5 .5 0 2-.5 .5 0 3-.5 .5 0 3.5-.5 .5 0 1.5-1 2 0 1-1 1.5 0 1-1 1.5 0 1-2 4-1 1-1.5 3.5-1 1-2.5 5 0 1-2.5 5-1 4-3.3 2.8-.5 0-2 2-.5 0-3.2 3.2 0 .5-2 2 0 .5-2.8 2.8-.5 0-2 1.9-.5 0-2 2z"/>
<path fill="#389cf2" d="M607.5 139.2l-.7-.2 0-1-7-14 0-1-.9-1.5 .1-.9 2.9-3.1 11.5-15 1.9-4.5 .1-1 .9-1.5 .1-1 4-8 4.9-7 .6-2.5 .9-1.5 2.6-8.5 .4-.5 .7-3.5 2.9-8.5 2.6-10.2 3-.5 3 .5 2 .9 1 1.3 2.2 4.5 0 2 .5 .5 .1 9.5-.5 .5 0 1.5-.5 .5-.5 3.5-1 2 0 1-.5 .5 0 1.5-.5 .5 0 2-.5 .5 0 2-.5 .5 0 3-.5 .5 0 3.5-.5 .5 0 1.5-1 2 0 1-1 1.5 0 1-1 1.5 0 1-2 4-1 1-1.5 3.5-1 1-2.5 5 0 1-2.5 5-1 4-3.3 2.8-.5 0-2 2-.5 0-3.2 3.2 0 .5-2 2 0 .5-2.8 2.7-.5 0-2 2-.5 0-2 2z"/>
<path fill="#2eabea" d="M607.5 139.2l-.7-.2 0-1-7-14-.8-3.2 4.9-5.8 1.6-2.5 1.9-2 6-8 2-4.5 0-1 1-1.5 0-1 4-8 4.5-6 5-14 .6-3.5 2.9-8.5 2.6-9.4 3.5-.6 3 .6 2.5 1.4 2.1 4.5 .1 2 .5 .5 0 9.5-.5 .5 0 1.5-.5 .5-.4 3.5-1 2 0 1-.5 .5 0 1.5-.5 .5 0 2-.5 .5 0 2-.5 .5 0 3-.5 .5 0 3.5-.5 .5 0 1.5-1 2 0 1-1 1.5 0 1-1 1.5 0 1-2 4-1 1-1.5 3.5-1 1-2.5 5 0 1-2.5 5-1 4-3.3 2.8-.5 0-2 2-.5 0-3.2 3.2-.1 .5-2 2 0 .5-2.7 2.7-.5 0-2 2-.5 0-2 2z"/>
<path fill="#22bbdb" d="M607.5 139.2l-.7-.2 0-1-3.5-6.5 0-1-3.5-6.5 0-1-.5-.5-.3-1.4 14.4-18.6 2-4.5 .1-1 .9-1.5 .1-1 4-8 4.4-6 5-14 1.1-5 5-15.7 3-.7 3.5 .7 3 1.7 1.6 3.5 .1 2 .5 .5 0 9.5-.5 .5 0 1.5-.5 .5-.5 3.5-1 2 0 1-.5 .5 0 1.5-.5 .5 0 2-.4 .5-.1 2-.4 .5 0 3-.5 .5 0 3.5-.5 .5 0 1.5-1 2 0 1-1 1.5 0 1-1 1.5 0 1-2 4-1 1-1.5 3.5-1 1-2.5 5 0 1-2.5 5-1.1 4-3.2 2.7-.5 0-2 2-.5 0-3.3 3.3 0 .5-2 2 0 .5-2.7 2.7-.5 0-2 2-.5 0-2 2z"/>
<path fill="#1ac7cc" d="M607.5 139.1l-.6-.1 0-1-3.6-6.5 0-1-3.5-6.5 0-1-.8-1.6 14.5-18.9 2.9-7 .1-1 4-8 4.4-6 5-14 1.6-6.2 4.5-13.8 3-.7 4 .7 2.5 1.3 1.6 3.2 0 2 .5 .5 .1 9.5-.5 .5 0 1.5-.5 .5-.5 3.5-1 2 0 1-.5 .5 0 1.5-.5 .5 0 2-.5 .5 0 2-.5 .5 0 3-.5 .5 0 3.5-.5 .5 0 1.5-1 2 0 1-1 1.5 0 1-1 1.5 0 1-2 4-1 1-1.5 3.5-1 1-2.5 5 0 1-2.5 5-1 4-3.2 2.7-.5 0-2 2-.5 0-3.3 3.3 0 .5-2 2 0 .5-2.7 2.7-.5 0-2 2-.5 0-2 1.9z"/>
<path fill="#17d4bb" d="M607.5 139.1l-.6-.1 0-1-3.6-6.5 0-1-3.4-6.5 0-1-.8-1.5 14.4-19 3.5-8.9 3.5-7 4.5-6.1 3-8 8-25.3 2-.6 2-.1 3.5 .8 2.5 1.4 .5 .8 .1 1 .5 .5 0 2 .5 .5 .1 9.5-.5 .5 0 1.5-.5 .5-.5 3.5-1 2 0 1-.5 .5 0 1.5-.5 .5 0 2-.5 .5 0 2-.5 .5 0 3-.5 .5 0 3.5-.5 .5 0 1.5-1 2 0 1-1 1.5 0 1-1 1.5 0 1-2 4-1 1-1.5 3.5-1 1-2.5 5 0 1-2.5 5-1 4-3.2 2.7-.5 0-2 2-.5 0-3.3 3.3 0 .5-2 2 0 .5-2.7 2.7-.5 0-2 1.9-.5 0-2 2z"/>
<path fill="#1addad" d="M607.5 139.1l-.6-.1 0-1-3.5-6.5 0-1-3.5-6.5-.6-2.5 14.2-18.9 3.7-9.1 3.3-6.6 4.5-6.4 2.5-6.5 8.5-26.1 3.5-.8 4 .8 3 1.7 0 .9 .5 .5 .1 2 .5 .5 .1 9.5-.5 .5 0 1.5-.5 .5-.5 3.5-1 2 0 1-.5 .5 0 1.5-.5 .5 0 2-.5 .5 0 2-.5 .5 0 3-.5 .5 0 3.5-.5 .5 0 1.5-1 2 0 1-1 1.5 0 1-1 1.5 0 1-2 4-1 1-1.5 3.5-1 1-2.5 5 0 1-2.5 5-1 4-3.2 2.7-.5 0-2 2-.5 0-3.3 3.3 0 .5-2 2 0 .5-2.7 2.6-.5 0-2 2-.5 0-2 2z"/>
<path fill="#26e49d" d="M607.5 139.1l-.6-.1 0-1-3.5-6.5 0-1-3.5-6.5-.4-2.5 14-18.7 3.6-8.8 3.5-7 4.5-6.5 2.8-7.5 7.6-23.7 .5-.7 3-.8 2.5 .1 2 .6 2 1 1.5 1.5 .1 2 .5 .5 0 9.5-.5 .5 0 1.5-.4 .5-.5 3.5-1 2 0 1-.5 .5 0 1.5-.5 .5 0 2-.5 .5 0 2-.5 .5 0 3-.5 .5 0 3.5-.5 .5 0 1.5-1 2 0 1-1 1.5 0 1-1 1.5 0 1-2 4-1 1-1.5 3.5-1 1-2.5 5 0 1-2.5 5-1 4-3.2 2.7-.5 0-2 2-.5 0-3.3 3.3 0 .5-2 2-.1 .5-2.6 2.6-.5 0-2 2-.5 0-2 2z"/>
<path fill="#39eb88" d="M607.5 139l-.5 0-.1-1-3.5-6.5 0-1-3.5-6.5-.4-2.2 14-18.8 3.7-9 3.5-7 4.5-6.5 2.8-7.5 7.5-23.4 1.5-.8 2.5-.4 4 .7 3.5 2.3 0 1.6 .5 .5 .1 9.5-.5 .5 0 1.5-.5 .5-.5 3.5-.9 2 0 1-.5 .5 0 1.5-.5 .5 0 2-.5 .5 0 2-.5 .5 0 3-.5 .5 0 3.5-.5 .5 0 1.5-1 2 0 1-1 1.5 0 1-1 1.5 0 1-2 4-1 1-1.5 3.5-1 1-2.5 5 0 1-2.5 5-1 4-3.2 2.7-.5 0-2 2-.5 0-3.4 3.3 0 .5-2 2 0 .5-2.6 2.6-.5 0-2 2-.5 0-2 1.9z"/>
<path fill="#4ef075" d="M607.5 139l-.5 0 0-1-3.6-6.5 0-1-3.5-6.5-.4-1.9 14.2-19.1 3.7-9 3.4-7 4.5-6.5 2.8-7.5 7.4-23 4-1 3.5 .6 3.3 1.9 1.2 2 .1 9.5-.5 .5 0 1.5-.5 .5-.5 3.5-1 2 0 1-.5 .5 0 1.5-.5 .5 0 2-.4 .5-.1 2-.4 .5 0 3-.5 .5 0 3.5-.5 .5 0 1.5-1 2 0 1-1 1.5 0 1-1 1.5 0 1-2 4-1 1-1.5 3.5-1 1-2.5 5 0 1-2.5 5-1.1 4-3.1 2.6-.5 0-2 2-.5 0-3.4 3.4 0 .5-2 2 0 .5-2.6 2.6-.5 0-2 2-.5 0-2 1.9z"/>
<path fill="#69f35e" d="M608.5 138.5l-1.5-.1-3.6-6.9 0-1-3.4-6.5 0-1-.5-.7 14.3-19.3 3.7-9 3.2-6.5 4.8-7 10-29.8 1.5-.7 2.5-.4 3.5 .6 2.3 1.3 2.2 2.6 .1 8.9-.5 .5 0 1.5-.5 .5-.5 3.5-1 2 0 1-.5 .5 0 1.5-.5 .5 0 2-.5 .5 0 2-.5 .5 0 3-.5 .5 0 3.5-.5 .5 0 1.5-1 2 0 1-1 1.5 0 1-1 1.5 0 1-2 4-1 1-1.5 3.5-1 1-2.5 5 0 1-2.5 5-1 4-3.1 2.6-.5 0-2 2-.5 0-3.4 3.4 0 .5-2.6 3.1z"/>
<path fill="#7ff54d" d="M609.5 137.5l-3-.4-.5-.6-2.5-5 0-1-3.5-6.5 0-2 14-19 3.6-9 3.2-6.5 4.8-7 9.4-27.9 1.5-1.6 1.5-.6 2.5-.1 2.5 .6 2 1.3 2.5 3.1 .1 7.7-.5 .5 0 1.5-.5 .5-.5 3.5-1 2 0 1-.5 .5 0 1.5-.5 .5 0 2-.5 .5 0 2-.5 .5 0 3-.5 .5 0 3.5-.5 .5 0 1.5-1 2 0 1-1 1.5 0 1-1 1.5 0 1-2 4-1 1-1.5 3.5-1 1-2.5 5 0 1-2.5 5-1 4-3.1 2.6-.5 0-2 2-.5 0-3.4 3.4 0 .5-2.6 3.1-2 1.9-.5 0z"/>
<path fill="#93f440" d="M611.5 136l-1 .4-2-.1-3-.9-2-3.9 0-1-3-5.5 .1-3.5 13.4-18.3 3.7-9.2 3.3-6.5 4.7-7 9.3-27.3 1.5-1.1 2.5-1.1 3 .3 2.5 1.6 2.6 3.1 .4 1 0 6-.4 .5 0 1.5-.5 .5-.5 3.5-1 2 0 1-.5 .5 0 1.5-.5 .5 0 2-.5 .5 0 2-.5 .5 0 3-.5 .5 0 3.5-.5 .5 0 1.5-1 2 0 1-1 1.5 0 1-1 1.5 0 1-2 4-1 1-1.5 3.5-1 1-2.5 5 0 1-2.5 5-1 4-3.1 2.6-.5 0-2 2-.5 0-3.4 3.4 0 .5-2 2 0 .5z"/>
<path fill="#a5f136" d="M611.5 135.1l-2 .1-2.5-.6-3-2.2-.5-.9 0-1-1.8-3.5-.1-6.5 12.4-17 3.6-9 3.5-7 4.7-7 8.7-25.7 .7-.8 2.8-1.6 2.5-.4 1.5 .4 3 2.1 1.5 2 1 2.9 0 3.6-.5 .5 0 1.5-.5 .5-.4 3.5-1 2 0 1-.5 .5 0 1.5-.5 .5 0 2-.5 .5 0 2-.5 .5 0 3-.5 .5 0 3.5-.5 .5 0 1.5-1 2 0 1-1 1.5 0 1-1 1.5 0 1-2 4-1 1-1.5 3.5-1 1-2.5 5 0 1-2.5 5-1 4-3.1 2.6-.5 0-2 2-.5 0-3.4 3.4-.1 .5-2 2 0 .5-2.5 2.5z"/>
<path fill="#b4eb32" d="M610.5 134l-2.5-.3-1.5-.9-1.9-1.8-.9-1.5-1.3-4.5 .2-5.5 11.5-16 3.7-9 3.4-7 4.5-6.5 8.3-24.6 1.5-1.6 2.5-1.3 2.5-.3 1.5 .3 1.7 1 1.8 2 1.7 4.5 .3 2-.5 .5 0 1.5-.5 .5-.5 3.5-.9 2-.1 1-.4 .5 0 1.5-.5 .5 0 2-.5 .5 0 2-.5 .5 0 3-.5 .5 0 3.5-.5 .5 0 1.5-1 2 0 1-1 1.5 0 1-1 1.5 0 1-2 4-1 1-1.5 3.5-1 1-2.5 5 0 1-2.5 5-1 4-3.1 2.6-.5 0-2 2-.5 0-3.5 3.4 0 .5-3.5 4z"/>
<path fill="#c5e232" d="M613.5 132.5l-4.5 0-2-.9-1.5-1.5-1.6-3.1-.5-2.5 .3-6 2.1-3.5 8.5-11.5 3.6-9 3.5-7 4.4-6.5 8.2-23.8 2-1.6 2-1 2.5-.3 1.5 .4 1.8 1.3 1.6 2.5 1.2 3 .2 3.5-.3 2-.5 .5 0 1.5-.5 .5 0 1-1 2 0 1.5-.5 .5 0 2-.4 .5-.1 2-.4 .5 0 3-.5 .5 0 3.5-.5 .5 0 1.5-1 2 0 1-1 1.5 0 1-1 1.5 0 1-2 4-1 1-1.5 3.5-1 1-2.5 5 0 1-2.5 5-1.1 4-3 2.5-.5 0-2 2-.5 0-3.5 3.5 0 .5-2 2 0 .4z"/>
<path fill="#d2d934" d="M615 131.1l-4 .3-2.5-.7-1.7-1.2-1.1-1.5-.9-2-.4-2.5 .6-7 9.4-13 3.6-9 3.5-7 4.5-6.5 7.5-22 2-1.9 2-1.1 1.5-.5 2.5 .4 2 1.5 2 3.6 .5 1.5 .1 4.5-.1 2-.5 .5 0 1-1 2 0 1.5-.5 .5 0 2-.5 .5 0 2-.5 .5 0 3-.5 .5 0 3.5-.5 .5 0 1.5-1 2 0 1-.9 1.5-.1 1-1 1.5 0 1-2 4-1 1-1.5 3.5-1 1-2.5 5 0 1-2.5 5-1 4-3 2.5-.5 0-2 2-.5 0-3.5 3.7z"/>
<path fill="#dece36" d="M614.5 130.1l-2.5 0-2.3-.6-1.7-1.1-1.1-1.4-1.1-2.5-.3-2.5 .2-6 .7-1.5 8.1-10.9 3.7-9.1 3.3-6.7 4.6-6.8 6.4-19 3-3.6 3-1.4 2 0 2.5 1.7 1.5 2.2 .8 6.6-.8 6.5-.5 .5-.5 4.5-.5 .5-.5 7-.5 .5 0 1.5-1 2 0 1-1 1.5 0 1-1 1.5 0 1-2 4-1 1-1.5 3.5-1 1-2.5 5 0 1-2.5 5-1 4-5.5 4.4z"/>
<path fill="#e9c138" d="M614.5 128.7l-1.5 .2-2-.6-2-1.3-1.2-1.5-.8-2-.6-5.5 1.1-4.5 7-9.7 3.8-9.3 3.2-6.4 4.7-7.1 5.8-16.8 2.5-3.3 2-1.8 2-.7 1.5 .1 2 1 1.5 2 .5 2 .5 5-1.1 10.5-.4 .5 0 3-.5 .5 0 3.5-.5 .5 0 1.5-1 2 0 1-1 1.5 0 1-1 1.5 0 1-2 4-1 1-1.5 3.5-1 1-2.5 5 0 1-1.5 2.5 0 1-1 1.5 0 1-1.5 3z"/>
<path fill="#efb537" d="M614.5 127.1l-2 .2-2-1.1-1.5-1.7-.9-2-.7-4.5 1.6-5.5 1.5-3 4.1-5.5 3.8-9.5 3.1-6.2 4.8-7.3 4.7-13.5 2.5-3.7 2.5-2.5 2-1.1 2 0 1.3 .8 1.2 2 1 5.5-1.6 19.5-2.2 6-3.9 8-3.5 6-5.8 12-5.2 3.5z"/>
<path fill="#f3a532" d="M614.5 125.1l-2 .4-1.1-.5-1.4-1.5-1-2-.3-3 1.3-5.5 4.9-9 3.1-8.2 3.5-7.2 5.2-8.1 4.1-11 2.2-3.2 2.5-2.7 2-1.1 1.8 0 1.2 .8 1.1 1.7 .8 4.5-1.2 18-2.2 6-13.2 25.5-5.3 3.5z"/>
<path fill="#f4952c" d="M616 122.6l-3 .2-1.8-1.3-.7-2.5 .1-3 1.2-4 3.1-5.5 3.6-11 2-4.4 1.5-3.1 4.8-7 4.8-11 3.4-3.9 2-1.2 1.5-.1 1.5 1.1 .7 1.6 .7 6.5-1 13-.9 2.8-5 10.7-3.6 6-3.9 8.3-2 3.1-4.6 3.1z"/>
<path fill="#f38424" d="M618 120.1l-3.5-.1-1.3-1-.7-2.5 .6-3.5 2.7-5 1.2-5 2.5-6.9 3.6-7.6 4.3-6.5 5.4-11.5 3.2-2.7 2 0 1.4 1.7 .8 4-.7 12-.6 3-2.1 5-6.8 12.2-4.5 9.2-2 2.2z"/>
<path fill="#ef701c" d="M619 116.7l-3-.5-.1-2.7 1.3-3.5 1-6 2.4-7 3.5-7.5 4.4-7 5.5-10.5 1-1.1 2-.1 1.4 1.7 .2 1.5-.2 11-.6 3-2.2 5-6.6 11.6-4 8-1.5 1.9z"/>
<path fill="#ea5f14" d="M623 111.1l-.5 .3-2-.6-.9-3.3 .2-2 2.2-7.1 3.5-7.9 5-8.6 3-4.5 2-1.1 1.1 3.2 .3 5.5-.4 2-5.5 11.1z"/>
</g>
<use href="#tf"/>
<polygon points="498.4,169 501,167.5 506.8,165.3 511.2,163.9 516.3,163.1 519.9,162 522.8,161 527.6,160.2 527.8,160.8 525,163.1 522.1,165.7 519.2,166.4 514.8,167.5 511.9,169.5 509.7,172.8 504.6,173.6 501.7,173.5 499.5,171.5" fill="#210c31"/>
<rect x="592.3" y="198" width="11" height="60.3" fill="url(#gsl)"/>
<path d="M603 198h6M603 258.3h6" stroke="#262626" stroke-width="1.1"/>
<text x="612.6" y="200.8" class="cb">8.</text>
<text x="612.6" y="261.1" class="cb">0.</text>
<text transform="translate(645.1,226.6) rotate(-90)" text-anchor="middle" class="cbr" textLength="38.9" lengthAdjust="spacingAndGlyphs">Slip[m]</text>
<text transform="translate(446.62,207.73) rotate(-35)" text-anchor="middle" class="fd" textLength="14" lengthAdjust="spacingAndGlyphs">MF</text>
<text transform="translate(468.05,176.48) rotate(-48)" text-anchor="middle" class="fd" textLength="17" lengthAdjust="spacingAndGlyphs">SyS</text>
<text transform="translate(517.85,151.2) rotate(-30)" text-anchor="middle" class="fd" textLength="19" lengthAdjust="spacingAndGlyphs">WjS</text>
<text transform="translate(560.32,126.62) rotate(-45)" text-anchor="middle" class="fd" textLength="17" lengthAdjust="spacingAndGlyphs">SzS</text>
<text transform="translate(647.65,100.56) rotate(-65)" text-anchor="middle" class="fd" textLength="22" lengthAdjust="spacingAndGlyphs">TTSF</text>
</g>
<g transform="translate(0.75,296.74)">
<path d="M65.65 4.38H333.2V266.7H65.65z" fill="none" stroke="#404040" stroke-width="1.15"/>
<path d="M59.05 253h13.2M59.05 219.4h13.2M59.05 185.8h13.2M59.05 152.2h13.2M59.05 118.6h13.2M59.05 85h13.2M59.05 51.4h13.2M59.05 17.8h13.2M94.4 259.9v13M128 259.9v13M161.6 259.9v13M195.2 259.9v13M228.8 259.9v13M262.4 259.9v13M296 259.9v13M329.6 259.9v13" stroke="#303030" stroke-width="1.1"/>
<text x="58.65" y="256.2" text-anchor="end" class="tl" textLength="14.7" lengthAdjust="spacingAndGlyphs">-20</text>
<text x="58.65" y="222.6" text-anchor="end" class="tl" textLength="5.75" lengthAdjust="spacingAndGlyphs">0</text>
<text x="58.65" y="189" text-anchor="end" class="tl" textLength="11.5" lengthAdjust="spacingAndGlyphs">20</text>
<text x="58.65" y="155.4" text-anchor="end" class="tl" textLength="11.5" lengthAdjust="spacingAndGlyphs">40</text>
<text x="58.65" y="121.8" text-anchor="end" class="tl" textLength="11.5" lengthAdjust="spacingAndGlyphs">60</text>
<text x="58.65" y="88.2" text-anchor="end" class="tl" textLength="11.5" lengthAdjust="spacingAndGlyphs">80</text>
<text x="58.65" y="54.6" text-anchor="end" class="tl" textLength="17.25" lengthAdjust="spacingAndGlyphs">100</text>
<text x="58.65" y="21" text-anchor="end" class="tl" textLength="17.25" lengthAdjust="spacingAndGlyphs">120</text>
<text x="94.4" y="281.4" text-anchor="middle" class="tl" textLength="5.75" lengthAdjust="spacingAndGlyphs">0</text>
<text x="128" y="281.4" text-anchor="middle" class="tl" textLength="11.5" lengthAdjust="spacingAndGlyphs">20</text>
<text x="161.6" y="281.4" text-anchor="middle" class="tl" textLength="11.5" lengthAdjust="spacingAndGlyphs">40</text>
<text x="195.2" y="281.4" text-anchor="middle" class="tl" textLength="11.5" lengthAdjust="spacingAndGlyphs">60</text>
<text x="228.8" y="281.4" text-anchor="middle" class="tl" textLength="11.5" lengthAdjust="spacingAndGlyphs">80</text>
<text x="262.4" y="281.4" text-anchor="middle" class="tl" textLength="17.25" lengthAdjust="spacingAndGlyphs">100</text>
<text x="296" y="281.4" text-anchor="middle" class="tl" textLength="17.25" lengthAdjust="spacingAndGlyphs">120</text>
<text x="329.6" y="281.4" text-anchor="middle" class="tl" textLength="17.25" lengthAdjust="spacingAndGlyphs">140</text>
<text x="1.2" y="138.6" class="al" textLength="43.8" lengthAdjust="spacingAndGlyphs">Northing</text>
<text x="198.8" y="295" text-anchor="middle" class="al" textLength="60.7" lengthAdjust="spacingAndGlyphs">Easting(km)</text>
<text x="1.5" y="20.5" class="pl" textLength="19.9" lengthAdjust="spacingAndGlyphs">(c)</text>
<clipPath id="pc1"><polygon points="67.8,217.7 290.55,2.86 332.4,55.2 290.4,140.1 109.4,265.4"/></clipPath>
<g clip-path="url(#pc1)"><polygon points="67.8,217.7 290.55,2.86 332.4,55.2 290.4,140.1 109.4,265.4" fill="#08afcc"/>
<g filter="url(#b3)">
<path fill="#08b3c4" d="M118.5 256.5l-1 .3-8-2.3-2-3.3-8.5-5.1-3.5-3-2.8-3.1-2.5-4.5-1.8-7 .9-7.5 1-2 1.2-.9 2.5-.5 .5 .9 8.5-3.5 6-3 6.5-4.8 6.5-3.4 4.1-1.3 .8-8.5 3-7.5 6.6-7.3 7.5-5.3 7.5-2.8 14.5-.1 4.5-4.3 5.8-2.2 17.2-11.5 6-.1 5.9-2.9 6.1-3.8 6.7-2.7 6.3-6.4 2.5-5.2 2.3-6.9 2.9-3.5 4.8-3.6 6.5-1.3 5.5 .6 2.5 2.5 1.1-.2 3.9 1.4 .5-.7 0-1.7-1-2.5 1.1-1.5-.9-4 2-6 0-6 .6-4.5 2.1-8 2.8-6 .8-4.5 1.8-4.5 1.3-4.5 2.3-3 5.2-3 7.1-3 2.1-1.5 7.3-8.5 .5-4 1.2-2 2.2-.6 2 1 4.2 5.6 2 5 .8 7.5-1.7 11-2.3 6.8-2.2 11.7-2.4 7-4.9 6.4-3.5 6.6-2.8 9-6.7 7.4-5 7.6-8.1 3.5-2.6 6-.4 2 .7 3.5 2.4 6.5-10.5 7.9-5 3-1.5 1.5-11.5 7.5-1.5 1.5-5 3-1.5 1.5-5 3-1.5 1.5-5 3-8 6-5 3-8 6-5 3-1.5 1.5-5 3-8 6-5 3-1.5 1.5-18 12-1.5 1.5-5 3-1.5 1.5-5 3-1.5 1.5-5 2.9-1.5 1.5-5 2.9-1.5 1.5z"/>
<path fill="#08b6be" d="M130 248.5l-6-.4-7-1.4-7-2.4-6-2.8-2-3.8-4.9-4.7-2.6-3.5-1.7-3.5-2.1-3-.4-2 .6-1.5 1.1-.8 2-.4 .5 .3 8.7-3.6 5.9-3 6.4-4.7 6.5-3.4 4.1-1.4 .8-8.5 3.1-7.5 6.5-7.3 7-4.9 8-3.2 14.5 0 4.5-4.4 5.9-2.2 17.1-11.4 6-.2 6-2.9 6-3.8 6.8-2.7 6.2-6.4 2.5-5.1 2.4-7 2.9-3.5 4.7-3.6 6.5-1.3 5.5 .7 2.5 2.5 5 2.6 1 0 .1-4.4-.9-2.5 .8-1.5-.1-2.5 2.7-6 .7-6.5 2-6.5 2-5.5 3.1-6 .9-4.5 3.2-8.5 1.7-2.5 3.1-2.5 2-2.5 5.7-3.1 2.8-2.4 5.2-7.6 .7-3.9 .8-1.3 2-.6 2 1.1 3.6 4.8 2.2 5.5 .7 7-1.7 11-2.3 6.6-2.3 11.9-2.4 7-4.8 6.3-3.5 6.7-2.8 9-6.7 7.3-5.1 7.7-8 3.5-3.7 6-.7 3.5 1 11-7 5.4-5 3-1.5 1.5-5 3-1.5 1.4-5 3-1.5 1.5-5 3-1.5 1.5-5 3-1.5 1.5-5 3-8 6-5 2.9-8 6-11.5 7.4-8 6.1-5 3.1-1.5 1.5-11.5 7.5-1.5 1.5-5 3-1.5 1.5-5 3-1.5 1.5z"/>
<path fill="#08b9b7" d="M137.5 243.5l-8 .4-8.5-1.1-7-2-8.5-3.9-3.5-.9-2-4-4.5-6.5-3.8-2.5-.6-1.5 .3-1.5 1.1-1 2-.4 8.8-3.6 5.9-3 6.3-4.6 7-3.7 3.7-1.2 .8-8.5 3-7.5 6.5-7.2 7.5-5.3 7.5-2.9 14.5 0 4.5-4.3 6-2.3 17-11.4 6-.1 6-3 6-3.8 6.9-2.7 5.6-5.5 3-5.9 2.1-6.6 .7-1 2.5-3 4.7-3.5 6.5-1.4 5.5 .8 2.5 2.5 6.5 4.5 .3-6.4-1.2-3 4.4-8.5 1-6 1.1-4 3.2-8 3.7-6.5 1.1-5 3.1-8 2-3 2.9-2.5 2-3 4.9-3.3 2.3-2.2 4.7-8.5 1-3.7 1-.6 1 0 2 1.2 3.1 4.1 2.2 5.5 .6 7-1.7 11-2.2 6.5-2.3 12-1.9 5.5-.5 1.5-4.8 6.2-3.5 6.7-2.9 9.1-6.6 7.2-5.1 7.8-8.1 3.5-1.3 2.4-3.7 4.1-.6 2-.7 8-1 4.2 0 .8 .9 1-.2 .5-8.7 5.8-1.5 1.5-5 3-1.5 1.5-5 2.9-1.5 1.5-5 3-1.5 1.5-5 3-1.5 1.5-5 3-1.5 1.5-5 2.9-1.5 1.5-5 3-1.5 1.5-5 3-1.5 1.5-1.5 .9-3 .2-9.5 5.6-1.2 1.2-1.4 3-2.9 2.6-18 12.1-1.5 1.5-5 3-1.5 1.5-5 2.9-1.5 1.5-5 3z"/>
<path fill="#08bcb0" d="M136 239l-6.5 .2-6-.7-7.5-2-8.5-3.7-6 .1-1.5-1.4-1.5-3-2.5-3.5-3.8-2.5-.4-2 1.5-1.5 10.1-4 5.6-2.8 6-4.5 6.5-3.5 4.8-1.7 .8-9 2.9-7 6.5-7.2 7.5-5.2 7.5-2.9 14.5 0 4.5-4.4 6-2.3 17-11.4 6-.1 6-2.9 6-3.8 7-2.8 6-6.3 2.5-5.1 2.1-6.6 .7-1 2.6-3 4.6-3.5 6.5-1.3 5.5 .7 9.5 9.7 .5 .1-.1-9.2-1.4-3.5 3.9-4.5 1.4-2.5 2.7-10.5 3.3-8 3.7-6 1.4-5.5 3.1-7.7 2.3-3.3 2.8-2.5 2.1-3.5 5.5-5 4.3-9 1-3.2 1.5-.7 2.5 1.3 2.5 3.6 2.2 5.5 .7 7.5-1.7 10.5-2.2 6.5-2.4 12-1.8 5.5-.6 1.5-4.7 6.1-3.5 6.7-2.9 9.2-6.6 7.2-5.2 7.8-7.8 3.3-2 2.8-4.4 3.9-2.1 9.5-.9 2.5 2.7 4-.1 .5-45.7 31.5-7.3 2-11.2 6.9-1.5 0-3-1.2-1 0-5 3.2-4.5 2.2-1.3 1.4-4.7 10-4.5 6-3.5 2-1.5 1.5-5 3.1-1.5 1.4-5 3-4.5 3.5-5.5 1.6z"/>
<path fill="#07c0a8" d="M134 235.5l-6.5-.1-6-1.1-5.5-1.7-7-3.1-7 1.2-1.5-.2-1.5-1.3-3-4.8-3.1-1.9-.6-2 1.5-1.5 9.7-4 5.5-2.8 6-4.5 4.5-2.4 6.8-2.8 .7-8.5 3.1-7.5 6.4-7.1 7.5-5.3 7.5-2.9 14.5 0 4.5-4.3 6-2.3 17-11.4 6-.2 6-2.9 6-3.8 7-2.8 6-6.2 2.6-5.3 2-6.5 3.3-4 4.6-3.5 6.5-1.3 5.5 .8 5.6 6 3.4 5.1 1.5 .7 .3-1.3-.5-5.5 .4-3.5-1.6-5 6.4-7 2.7-9 3.4-8 4.1-6.5 1.4-5.5 3.4-8 4.5-5.5 2.2-4 4.8-5.5 2-6 2.6-5.5 1.4-.5 2 1.1 2.4 3.4 2.3 5.5 .6 7.5-1.5 10-2.4 7-2.2 11.5-2 6-.5 1.5-4.7 6.1-3.5 6.6-3 9.3-6.5 7.1-5.2 7.9-7.8 3.3-2.5 3-3.5 1.9-1.2 1.3-3.5 10 .2 1 3.6 5.5 0 .5-26.1 18-5 1.9-5.5 3.1-9 4-4.5 1.4-4.5 .7-11.5 7-1.5 .4-4-1.1-5.5 3.6-5 2.3-1 1-2.7 7.2-3.6 6.5-4 5-4.7 4.5-6 4.2-6.5 3-7 2z"/>
<path fill="#07c49f" d="M135.5 233l-6.5 .1-6.5-1-6-1.8-6.5-3-9.5 1.7-2-1.3-2.5-3.9-2.8-1.8-.4-1.5 1.3-1.5 14.9-6.7 6-4.5 3.5-1.9 4-2.1 3.9-1.3 .6-8.5 3.1-7.5 6.4-7.1 7.5-5.3 7.5-2.9 14.5 .1 4.5-4.4 6-2.3 17-11.4 6-.1 6-3 6-3.8 7-2.8 6-6.2 2.6-5.3 2.1-6.5 3.3-4 4.5-3.4 6.5-1.4 5.5 .8 4.7 5.5 3.8 6.7 1 .7 1.5-.3-.3-7.1 .7-3-.8-4.5 .4-2 6-8 1.7-5 3.6-8 4.9-8 1.8-6.5 3-7.5 4.2-5.5 2-4 4.6-6 1.9-6.5 2.2-4.5 1.1-.6 2 .8 2.3 3.3 2.3 5.5 .7 7.5-1.5 10-2.4 7-2.3 12-2.4 7-4.7 6-3.5 6.7-3 9.3-6.5 7.1-5.3 7.9-7.7 3.2-3 3.2-3.5 1.2-1.5 1.4-3.8 9 4.2 7.5-1.4 2-1.5 1.5-5 3-1.5 1.5-5 3-1.5 1.4-9 2.3-7 2.8-5.5 3.3-9 3.9-8.5 2-12.8 7.8-1.2 .2-4-1.1-5 3.3-5.5 2.5-1 1.6-2.5 7.5-2.5 5-3.5 5.1-4.5 4.7-5.5 4.2-6 3.2-6.5 2.2z"/>
<path fill="#06c896" d="M136.5 230.5l-6.5 .3-6-.8-5.5-1.5-8-3.4-10.5 2.6-2-1.2-1.5-2.6-3-2.4-.3-1 1.1-1.5 14.2-6.4 6.5-4.8 7-3.7 4.4-1.6 .7-8.5 3-7.5 6.4-7 7.5-5.3 7.5-2.9 14.5 0 4.5-4.3 6-2.4 17-11.4 6.3-.2 5.7-2.8 6-3.8 7-2.8 6-6.2 2.6-5.4 2.1-6.5 3.3-4 4.5-3.4 6.5-1.3 5.5 .8 2.8 2.9 3.4 6 1.8 4.3 1 .7 2-.5 .6-1.5-.5-6 .9-3-.6-3.5 .3-2 4.6-6.5 .7-2.5 1.5-2 5.1-11.5 4.5-7 2-7 2.9-7.5 4.2-5.5 2.2-4.5 4.1-6 2-7.5 2.1-3.5 .9-.3 1.5 .6 2.3 3.2 2.3 5.5 .7 7.5-1.6 10-2.3 7-2.3 11.5-2.5 7.5-4.6 6-3.5 6.6-3.1 9.4-6.4 7-5.3 8-7.7 3.2-3.5 3.1-3.5 .5-1.5 1.1-1.9 5.1-2.1 3.6 0 .9 3.5 5.5 0 .7-2 2.6-5 4.6-6 3.4-4 1.5-6.5 1.6-22.5 10.3-8.5 1.9-13 7.9-1.5 .2-3-1.3-1.5 0-5 3.3-5.4 2.3-.8 1-1.8 7-2.5 6-3.5 5.5-3.9 4.5-5.1 4.2-5.5 3.2-6 2.3z"/>
<path fill="#05cc8d" d="M137.5 228l-6.5 .5-6-.7-5.5-1.4-7.5-3-12.5 3.4-2-1.3-1-2-2.4-2-.5-1 .9-1.5 14-6.4 6.5-4.7 7-3.8 4.5-1.6 .6-8.5 3-7.5 6.9-7.4 7-4.9 7.5-2.9 14.5 .1 4.5-4.4 6-2.3 17-11.4 6.3-.3 5.7-2.8 6-3.8 7-2.8 6-6.1 2.6-5.5 2.1-6.5 3.3-4 4.5-3.4 6.5-1.3 5.5 .8 2.7 2.9 3.2 6.5 1.6 5.1 1.5 .5 2.2-1.1 .6-1.5-.4-5.5 1.1-3.5-.5-3.5 .5-2 4.7-6.5 1.3-4.5 1.4-2 5.1-10.5 4-6 2.2-7.5 2.8-7 4.3-6 6-11 1.7-7 2-3.1 1-.3 1 .3 2.2 3.1 2.3 5.5 .7 7.5-1.5 10-2.4 7-2.2 11.5-2.5 7.5-4.7 6-3.4 6.5-3.1 9.5-6.4 7-5.4 8-7.6 3.2-3 2.6-1.5 .4-3.5-.3-1 .8-2.5 7.3-1.6 2 .5 1.5 2.6 4 0 .8-2.1 2.7-4.9 4.4-6 3.3-4.5 1.5-5 .9-9 3.5-6 3.1-9 3.8-8 1.6-13.5 8.1-1.5 .1-2.5-.9-1.5-.1-5.5 3.6-6 2.2-1 1.4-1.3 6.5-2.1 5.5-2.8 5-3.8 4.7-4.8 4.3-5.2 3.3-5.5 2.3z"/>
</g>
<g filter="url(#b2)">
<path fill="#09a7d2" d="M271 151.1l-4.5-2.9-1.5-1.5-1-1.7-.3-2.5 1.3-5.5 8-3.5 5-7.6 6.8-7.4 2.7-8.9 3.5-6.7 4.9-6.4 2.4-7 2.2-11.5 2.4-7 1.7-11-.8-7.5-2-5-4.3-6.3-2.5-1.6-4-.8-1.5-1.3-1.5-3-.6-3 .9-4.5 1.2-1.9 1.5-1.4 2.5-1.5 2.5-.9 5.5-.6 6.7 7.8 0 .5 2.5 2.5 0 .5 2 2 0 .5 4.6 5 0 .5 2 2 0 .5 2.5 2.5 0 .5 3.9 4.5 0 .5 4.5 5-40.8 82.5-2.4 2.4-.5 0-4 3-.5 0-1.5 1.5-.5 0-4 2.9-.5 0-1.5 1.5-.5 0zM95 218.1l-.5 .2-.9-1.3-1.1-3-.5 2-4.5 2.4-1.5-.1-1.8-.8-1.4-1-1-1.5-.3-1.5 .3-1.5 .8-1.5 1.4-1.5 3.5-1.6 1.5 0 1 .6-1.4-3 0-1-.9-1.5 .1-1.5 19.2-19.3 .5 0 27.5-27.5 .5 0 21-20.7 18.5-13.1 5.5-2.6 7-1.9 1-.7 2-3.2 .7-4 3-5.5 6.3-8.1 5-4.9 7-5.5 4.5-2.8 5.5-2.5 6.5-1.7 2 .2 5 1.5 7-.6 5 .3 1.5 .7 5 4.6 .4 .8 .1 1.5-1.5 10.5 .6 5.5-.2 5 .5 2.5 2.2 5.5-4.3 4.5-.8 .1-2.5-2.5-3.5-.4-2-.2-6.5 1.3-4.8 3.7-2.9 3.5-2.3 6.8-3 6-5.9 5.7-7.1 2.8-5.7 3.7-5.8 2.8-6 .1-17.3 11.6-5.7 2.1-4.7 4.4-14.3 0-7.5 2.8-7.5 5.3-6.7 7.4-3 7.5-.8 8.5-4 1.2-6.5 3.4-6.7 4.9-6 3z"/>
<path fill="#0aa0d7" d="M275 148l-1 .3-5-1.5-1-1.8-1.5-.2-1-.9-.7-1.9 .3-5 7.9-3.4 5-7.6 6.8-7.5 2.7-8.8 3.5-6.7 4.6-6 .7-1.5 2.1-6 2.1-11.3 2.4-7.2 1.8-11-.7-7-2.1-5.5-4.4-7.3-2.6-2.7-.5-2 1-2 1.6-1.3 2.5-.6 3 .2 3.5 1.5 3.5 3.2 .8 0 4 2 2.2 3 4.8 4.5 .9 2 .8 3.5 2.2 5 .2 4.5-.5 4.5-16.1 32.5 0 1-19.6 39-2.2 2.2-.5 0-2.5 2-2 1-1.5 1.5-.5 0-1 .9-.5 0zM95 218l-.7 0-1.1-2 0-1-1-1.5 0-1-.9-1.5 0-1-1.4-2.5 .1-1-.5-.8 6.5-5.6 2.5-2.7 3.5-5.1 3.4-2.8 .2-1.5-1.2-3 .1-.5 2.5-2.6 .5 0 27.5-27.5 .5 0 4-3.9 5-1.8 3.5-.8 3.5-.3 5.5 .4 1.5-.3 6.5-3 17.5-12.6 4.5-1.8 6-1.4 3.5-3.9 5-3.2 .9-4.3 2-5 2.2-3.5 4.4-5.5 4.5-4.3 5-3.9 3.5-2.1 4.5-1.9 4-.8 6 1.7 7.5-.1 1.5 .7 1.8 1.7 .7 1.3 .8 3.7 .1 5.5 3.8 6.5 1.5 3.5-.9 1.5-3.1 3-.7 0-2.5-2.4-3-.4-2.5-.2-6.5 1.3-4.9 3.7-2.9 3.5-2.2 6.7-3 6-5.9 5.8-7.1 2.8-5.8 3.7-5.1 2.5-6.6 .4-17.4 11.6-6.1 2.4-4.3 4.1-14.2 0-7.5 2.8-7.5 5.2-6.7 7.5-3.1 7.5-.7 8.4-4 1.3-7 3.6-6.3 4.7-6.1 3z"/>
<path fill="#0b99dd" d="M277.5 144.6l-3.5 .1-6.5-1.1-2.3-5.1 .1-1.5 7.7-3.3 5-7.6 6.9-7.6 2.6-8.7 3.9-7.3 4.8-6.5 2.2-6.5 2.1-11.1 2.4-7.4 1.8-10.5-.6-7.5-2.4-6-2-3-.9-4 .4-2 .8-.5 1.5 .1 1.8 .9 1.2 1.4 1-.4 4.1 2 6.1 6 1 1.5 .8 3 1.9 4 .5 3-.2 3.5-1.8 11.5-2.3 7.5-1.1 5-5.9 11.5-.5 2-17.1 33.9-8 8.3-2.5 1.5zM94.5 218l-2.1-4.5 .1-1.5 9.1-8 4.9-6.3 4.5-3.7 .2-1.5-1.1-3-.1-1.5 4.3-9.5 2.8-4 8.9-8.8 10.5-6.6 10-3.6 4-.7 8.5 .4 1.5-.3 8-4 17.1-12.4 3.9-1.6 5.5-.9 5.5-5.2 6-3.7 3.7-10.1 2.6-4.5 5.7-6.5 8.5-6.4 3.5-1.5 3.5-.7 6 1.8 5 0 2.3 1.3 1.6 4 5.1 6.9 1.7 4.1-3.6 4-.4 0-2.7-2.5-2.5-.3-3-.3-6.5 1.3-4.9 3.8-2.9 3.5-2.2 6.6-3 6.1-6 5.8-7 2.7-5.9 3.8-5.1 2.5-6.5 .3-17.5 11.7-6 2.3-4.5 4.2-14-.1-7.5 2.8-7.5 5.3-6.8 7.5-3 7.5-.7 8.3-4 1.3-7 3.6-6.5 4.8-5.1 2.5z"/>
<path fill="#0c92e2" d="M277 141.6l-3 .4-7-.4-1.7-3.1 0-1 .2-.5 7.5-3.2 5.5-8.3 6.4-7 2.6-8.6 3.9-7.4 4.9-6.5 2.1-6.5 2.1-10.9 2.6-8.1 1.6-10-.5-7.5-2.3-6-2-3.5 .6-.8 1.5-.8 1 .1 3.5 1.6 5.8 5.4 3.2 7 .5 2 0 4-1.6 10.5-2.6 8.5-2.3 11.5-3 9-5.1 7.5-2.5 4.5-4.2 11-13.7 14.7-2 1.6zM94.5 217.5l-.5-.6 10.5-9.3 5-6.1 5.5-5 .3-1-1.2-3.5 .1-1.5 4.5-10 2.3-3.1 9-8.6 9-5.6 9-3.1 3.5-.5 9 .4 1.5-.2 3.5-2.3 5.5-2.5 17-12.3 2.5-1 5-.7 1.5-.7 6.5-5.7 5.8-3.6 2.7-4.9 2.8-7.6 2.2-3.5 5-5.7 5.5-4.3 3-1.7 4.5-1.2 5.5 1.7 4.5 .3 1.5 .9 7 7.1 1.4 4.4-2.9 3-3-2.5-5.5-.7-6.5 1.4-4.5 3.4-3.4 3.9-2.1 6.5-3 6.1-6.2 5.9-6.8 2.7-6 3.8-5.2 2.5-6.3 .2-17.7 11.8-5.8 2.2-4.5 4.2-14-.1-7.5 2.8-7.5 5.3-6.9 7.6-3 7.5-.6 8.2-4 1.4-7 3.5-6.8 4.9-5.2 2.5z"/>
<path fill="#0c8de4" d="M275.5 139.5l-9 .3-1.1-1.3 0-1 .4-.5 7.2-3.1 5.5-8.3 6.5-7.1 2.5-8.5 4-7.5 4.8-6.5 2.1-6 2.6-13 2.2-6.5 1.6-10-.5-7.5-2-5.5-1.6-3-.1-.5 .4-.2 3.5 1.6 5.1 4.6 3 6 .6 2 0 3.5-1.6 10.5-2.6 8.5-2.3 11.5-2.9 8.5-4.9 7-2.5 4.5-4.2 11-2 2.5-5.7 5.5-5.5 6.5-1.5 1.2zM105 213l-1 0 3-3 4.6-5.5 6.4-6.1 .4-.9-1-3.5 .3-2.5 4.1-9 2.2-3 8-7.7 8.5-5.2 8.5-3 2.5-.4 10 .5 2-.3 3.5-2.5 6-2.8 16.5-12 2.5-1 4.5-.5 1.5-.6 7.5-6.4 5.8-3.6 3.4-5 3.2-8.5 1.8-3 4.3-5.1 7.5-5.5 2.5-1 2-.2 5.5 1.7 3 .3 7.5 6.1 .5 1.2 .1 2-.1 1.7-.5 .3-3-2.3-5.5-.5-6.5 1.4-5 3.9-3.2 4-1.8 5.8-3 6.3-6.3 5.9-6.7 2.6-6.2 3.9-5.1 2.5-6.2 .1-17 11.4-6.5 2.6-4 3.9-14.5 .2-8.5 3.5-6.5 4.5-6.9 7.8-3 7.5-.6 8.1-4.5 1.6-6 3-6.9 4.8z"/>
<path fill="#0d88e6" d="M272.5 138.1l-6 .3-1-.3 0-.6 7.5-3.5 5.5-8.2 6.2-6.8 3.3-9.8 3.5-6.6 4.7-6.1 2.1-6 2.7-13.3 2.3-6.7 1.6-10-.5-7.5-1.4-3.8-.3-1.7 .3-.5 5 4.5 2.6 5.5 .4 3-1.8 12-2.4 7.5-2.2 11.5-2 6-1.2 3-4.4 6-3 5.5-3.1 9-1.1 2-6.8 6.8-6 7.2-2 1.1zM114 207l-.6 0 7.5-7.5-.8-4 .4-3 4.1-9 2.4-2.9 7-6.6 8-4.9 8-2.7 2.5-.2 10.5 .5 1.5-.3 3.9-2.9 6.1-2.9 16.5-12 2-.7 4.5-.4 1.5-.7 8-6.6 6-3.8 4-5.5 3.4-8.9 1.4-2.5 4.2-4.9 6.5-4.9 2-.9 2-.2 8 2.2 5.4 5.2 .1 .5-6.5-.4-6.5 1.5-5 3.8-3.3 4.1-1.7 5.6-3 6.4-5.5 5.5-1 .5-6.5 2.5-5.5 3.5-6 3-6.5 .3-16.8 11.2-6.2 2.3-4.2 4.2-14.3 .1-8 3.1-7 4.9-6.7 7.4-3.2 7.5-.7 8.5-3.9 1.3z"/>
<path fill="#0d84e8" d="M272.5 136.5l-3.5 .4-.8-.4 5.1-2.5 5.2-8.1 6.7-7.4 2.8-9.1 3.5-6.6 4.8-6.3 2.4-7 2.3-12 2.3-6.5 1.6-10.5-.4-7.5-.5-2 0-.7 .5 .2 1.9 2 2.1 4 .5 2 0 2.5-1.6 10.5-2.4 7.5-2.3 11.5-2.3 7-1 2-4.4 6-2.7 5-3.8 10.5-7 7.2-5.5 6.7-1.5 1.1zM175.5 164l-1.5 .4-.5-.4 2.5-1.4 16-11.7 2-.7 4-.3 2-.8 8-6.6 6.3-4 4.6-6 4.9-11.5 3.7-4.5 5.1-4 2.9-1.4 2.5 .1 6 1.9 2.7 2.4 0 .5-3.2 0-6.5 1.5-5 3.7-3.3 4.3-2.2 6.7-2.5 5.1-5.7 5.7-6.8 2.7-6.2 3.8-5.2 2.5-6.6 .2zM124 202.5l-2 .3-.4-.3 1.6-2-.7-4.5 .7-4 4-8 7.3-7.3 8-5.1 7.5-2.7 2.5-.3 12 .6 1.5-.6 2.5-1.9 .1 .3-3.1 3.3-14 0-7.5 2.9-7 4.9-7.6 8.4-2.9 7-.9 8.5z"/>
<path fill="#0e7feb" d="M274 134.3l.5-1.8 4-6.4 6.9-7.6 2.6-8.8 3.5-6.7 4.9-6.5 2.5-7 2.1-11.6 2.4-6.9 1.7-11-.1-6 1 1 1.1 2.5 .2 4.5-1.6 9.5-2.4 7.5-2.3 11.5-2.2 6.5-1.1 2-4.1 5.5-2.7 5-3.8 10.5-6.7 7-4.9 6zM204.5 149.5l-1 .3-.3-.3 6.3-5.5 6-3.8 4.4-5.2 2.4-4.5 2.7-7.5 4.5-5.4 4.5-3.5 2.5-1 2.5 .3 4.5 1.8 .2 .3-.9 .5-6.3 1.6-4.9 3.9-2.8 3.5-2.3 7-2.5 5.1-5.9 5.9-7.1 2.7zM125.5 199.9l-.5-.5-.4-2.4 .4-3.6 3-6.5 2.5-3.1 .3 .2-.3 .5-1.4 1.5-2.9 7.5z"/>
<path fill="#0e79ec" d="M305.5 63.2l-.3-.2 .3-5.1 .2 1.1zM305 66.2l-.2-.2 .2-2.9 .3 .4zM304.5 69.3l-.1-.3 .1-2.7 .3 .2zM301.5 79.9l-.2-.4 .2-1.9 .4 .4zM297 97.2l0-1.5 2.4-6.2 1.6-9.6 .4 .1-.4 2.5-1.5 7.5zM286.5 117.4l0-1.9 2-6.1 3.5-6.6 4.5-5.6 .3 .3-.2 .5-4.2 5.5-3.2 6zM214.5 144l-1.3 0 3.8-2.6 4.8-5.9 2.3-4.5 2.5-7 3.4-4.3 6-4.5 2.5-.2 2.4 1-.7 .5-3.2 .7-5.5 4.3-2.9 3.5-2.1 6.6-2.9 5.9-5.6 5.3z"/>
</g>
<g filter="url(#bl)">
<path fill="#04d382" d="M134.5 226.5l-5 0-5-.7-4-1.1-7-2.7-12 3.7-2.5 .4-2-1.6-1-2-1.8-1.5-.2-1 1-1.2 8.5-3.6 5.5-2.8 6-4.5 3-1.6 4-2.1 4.5-1.7 .6-8.5 3.1-7.5 6.8-7.4 7-4.9 7.5-2.8 14.5 0 4.5-4.4 6-2.3 17-11.4 6.4-.3 5.6-2.8 6-3.8 7-2.8 6-6.1 2.6-5.5 2.1-6.5 3.3-3.9 4.5-3.5 6.5-1.3 5.5 .9 2.6 2.8 2.8 6.5 1.3 5.5 .8 1.7 1-.2 3-2.2 .5-1.3-.3-6 1.2-3-.3-3.5 .4-1.8 4.9-6.7 1.8-6 1.7-2.5 4.5-9 3.8-5.5 2.5-8 2.6-6.5 4.2-6.2 5.8-11.3 1.6-7 2.1-3 1-.3 .4 .3 2.2 3 2.4 5.5 .7 7.5-1.5 10-2.4 7-2.3 12-2.4 7-4.7 6-3.4 6.5-3.1 9.5-6.5 7-5.3 8-7.6 3.1-2 1.9-1.5 .8-2 0-2.5-1.4-1 .4-4.5 11.2 2.6 4 .2 1-2.3 3-5 4.4-5.5 3-8.5 2.5-4 .6-6.5 2.2-6 3.1-9.5 3.9-7 1.1-14 8.5-1.5 .3-3-.7-1 .2-5.5 3.5-6.5 2.2-1 1.2-1.6 7.5-2.1 5.5-2.9 5-3.9 4.6-5 4.2-5 2.9-6 2.2z"/>
<path fill="#03dd71" d="M262.5 138.5l-1.5 .4-1.3-.4-.9-1-.3-1.5 .4-1.5 2.4-3-.2-6 1.5-3 .2-4.5 1.4-2.5 4.2-5.5 1.8-6 1.5-3.5 1.8-2.5 2.9-5.5 3.9-5.5 2.3-8 2.5-6.5 4.4-7 5.1-11 1.9-7 1.2-2.5 .8-.4 2.5 2.9 2.5 5.9 .6 7.1-1.5 10-2.3 7-2.3 11.5-2.3 7-4.8 6.5-3.5 6.5-3.1 9.5-6.4 7-5.4 8-7.5 3zM100 225l-1.5 .1-1.5-1.3-2-3.3-.4-1 .2-.5 8.7-3.7 5-2.5 6.5-4.8 7-3.8 4.5-1.6 .6-8.6 2.6-6.5 .5-1 7.3-7.7 6.5-4.5 7.5-2.9 14.5 .1 4.5-4.4 6-2.3 17-11.4 6.5-.4 5.5-2.7 5.5-3.6 7.5-3.1 6-6 2.7-5.6 2.1-6.5 3.2-3.9 4.5-3.4 7-1.3 5 .9 2.1 2.2 2.7 7.5 .8 6 0 3-.8 3.5-3 7.5 .6 2 1.6 2.5-3.3 4-3.7 3.2-3.5 2.1-6 2.7-7 1-9 2.5-5.5 2.9-8 3.4-8 1.7-14.5 8.8-1.5 .4-4-.6-6 3.6-6.5 1.7-.9 1.1-1.1 2.9-1.1 5.6-1.3 4-3.4 6.5-2.8 3.5-3.4 3.2-3.5 2.5-4 2.2-7 2.2-7.5 .5-7-1.1-8-2.8-9.5 3.5z"/>
<path fill="#01e761" d="M262.5 138.3l-1.5 .1-.8-.4-.9-2 .5-1.5 1.8-2.5-.1-6 1.6-2.5 .7-5 1.4-2.5 4.3-5.4 2.1-6.6 1.6-3.5 4-7 3.9-5.5 1.4-3.5 1.3-5.5 2.3-6 4-6.5 5.4-12 1.5-4.5 1.7-3.5 .8-.2 1.5 1.6 2.4 5.6 .6 7-1.5 10-2.3 7-2.4 12-2.1 6.5-4.9 6.5-3.4 6.5-3.1 9.5-6.5 7-5.3 7.9-7.5 3.1zM100 224.1l-1.5 .1-1-.6-1.5-1.6-1.2-2.5 .2-.4 8-3.4 6-3.1 6.2-4.6 6.8-3.7 4.5-1.7 .7-8.6 3.1-7.5 6.3-7 4.4-3.1 3-2.1 7.5-2.8 14.5 .1 4.5-4.4 6-2.4 17-11.4 6.5-.3 5.5-2.8 5.5-3.5 7.5-3.1 6-6 2.5-5.2 2.7-7.5 2.8-3.4 4.5-3.4 7-1.2 5 .9 2 2.1 2.3 8 .5 5-.1 3.5-.8 3.5-2.9 6.9 1.9 3.6-3.3 4-3.6 3-6.5 3.7-8 1.5-6.5 2.5-6 1-12 5.4-3 .8-4.5 .5-15 9.1-2 .5-3.5-.2-6.5 3.9-3 .8-3.5 .3-1 1.2-4.7 14-2.9 5.5-2.4 3-3 2.9-3.5 2.5-3.5 1.9-6.5 2.1-6.5 .5-6-.8-8-2.6-10.3 4.5z"/>
<path fill="#06ef50" d="M262 138.1l-1.5-.6-.4-2 1.9-3.5-.3-5 .3-1 1.7-2 .3-3.5 .5-1.5 1.5-2.5 4.4-5.5 2-6.5 1.4-3 3.7-7 4.5-6 1.3-3.5 1.4-5.5 2.5-6.5 3.9-6.5 4.3-10 3.1-6 2-2.3 1 1.2 1.6 3.6 .9 7.5-1.5 10-2.4 7-2.3 12-2.2 6.5-4.8 6.5-3.5 6.5-3.1 9.5-6.4 7-5 7.5zM99 223.1l-1-.3-2-1.7-1-1.7 14-6.7 6.3-4.7 6.7-3.7 4.5-1.6 .7-8.7 3.1-7.5 6.7-7.3 7-4.8 7.5-2.8 5.5 .3 9-.2 4.5-4.5 6-2.3 17-11.4 6.5-.4 5.5-2.7 5.5-3.5 7.5-3.2 6-6 2.6-5.2 2.6-7.5 2.8-3.3 4.5-3.4 7-1.3 5 1 2 2.1 1.8 8.4 .3 4.5-.8 6.5-2.6 6.5 1.4 3 0 1-5.1 5.2-3 2.2-5.5 2.3-7 1.4-6.5 2.7-8.5 1.1-11 4.9-6.5 1-15.5 9.5-2 .6-3 .1-4.5 2.9-3 1.3-6.5 .6-1.9 5.7-2.5 5-1.8 5.5-2.4 4.5-4.9 5.5-3 2.3-3.5 2-6 1.9-6 .6-6-.7-7.5-2.4-2 .7-6.5 3.6z"/>
<path fill="#18f241" d="M263 137.5l-1.7 0-.7-1.5 1.6-3.5-.1-5.5 2.1-2.5 .3-3 .7-2 1.5-2.5 4.4-5.5 3.2-9 4.3-8 4.4-6.1 2.6-8.9 2.5-6.5 3.7-6 2.2-5.3 3-5.6 3.5-5 1-.6 1.6 3 .8 6.5-.4 3.2-1.1 7.3-2.3 7-2.4 12-2.2 6.6-4.8 6.4-3.4 6.5-3.2 9.5-6.4 7-5.2 7.8-7.5 3zM102 220l-4 .3-1.8-.8 12.8-6.7 6.5-4.8 3.5-2 3-1.6 4.5-1.7 .7-8.7 3.2-7.5 6.6-7.2 7-4.9 7.5-2.8 5.5 .4 9-.3 4.5-4.4 6-2.4 17.1-11.4 6.4-.3 5.5-2.8 6-3.8 7-2.8 6-6 2.6-5.3 2.6-7.5 2.8-3.3 4.5-3.4 7-1.2 4.9 .9 2.1 2.3-.3 1.2 1.5 7 .3 5-.9 6-2.2 5.5 .4 2 .8 1-.1 .8-3 3.5-3.5 2.8-5 2.6-3.5 1-4.5 .8-6.5 3-4 .8-5 .1-11 4.9-6.5 1-16 9.7-2 .7-3 .3-4.5 2.9-3 1.3-2.5 .4-4.5-.2-.5 .7-1.6 5.9-2.7 5-1.9 5.5-2.2 4-2.3 3-2.6 2.5-3.2 2.3-3 1.6-5.5 1.8-5.5 .5-5-.6-6.5-2.1-1.5-.1-4 1.2-2.8 2.4-2.2 1.1z"/>
<path fill="#2bf632" d="M263.5 137.1l-1 .3-1-.4-.3-1.5 1.4-3-.2-5 2.2-2.5 .4-3 .7-2 1.5-2.5 4.5-5.5 3.4-9.5 4.1-7.5 4.3-6 1.4-3.5 1.6-6 2.8-7 3.4-5.5 2.8-5.7 4.4-6.3 1.9-2 .7 0 .5 1.1 .7 5.9-1.2 9.4-2.6 8.6-2.2 11.5-2.2 6.5-4.8 6.5-3.5 6.5-3.1 9.5-6.4 7-5.2 7.7zM109.5 218.1l-2 .3-1.5-.2-1.7-.7-1-1 1.8-1.5 5.9-3.2 3.9-3.3 2.5-1.5 4.6-2.6 4.5-1.6 .8-8.8 3.1-7.5 6.4-7 3.7-2.6 4-2.6 7-2.6 5.5 .5 9-.4 4.5-4.5 6-2.3 17.2-11.5 6.3-.3 5.5-2.7 6-3.8 7-2.9 6-5.9 2.8-5.9 2.5-7 2.7-3.3 4.5-3.4 6.5-1.1 2.9 .3 2.3 .5 2.3 2.5-.7 1.5 1.4 7 0 4.5-.8 5.5-1.9 5.2 0 .8 1 2.9-2.6 3.1-3.4 2.9-5.5 2.9-8 1.7-6.5 3.1-4 .7-5 0-11 4.9-6.5 1-14.5 9.2-3 1.2-3.5 .7-6.5 3.8-3.5 .6-5-.6-.6 .9-1.6 6.5-3.1 5.5-1.6 4.5-1.8 3.5-4.3 5.3-3 2.3-3 1.8-5.5 1.8-5.5 .6-5-.6-7-2.2-6 1.3-2 2.6z"/>
<path fill="#54f826" d="M263 137.1l-1-.3-.3-.8 1.2-3.5-.3-4 .4-1.1 2-1.9 .5-3.1 .9-2.4 6.1-8 3.1-9 4.1-7.5 4.4-6 1.4-3.5 1.7-6.5 2.8-6.7 7.2-10.8 5.3-5.7 .5 .6 .6 3.1-1.1 8.8-2.7 9.2-2.2 11.5-2.2 6.5-4.5 6-4 7.5-2.9 9-6.4 7-5 7.5zM135 214.6l-6 0-4-.9-5-1.9-4.5 .9-2.8-.7-.3-.5 1.6-2 3.5-2.5 4.5-2.5 4.5-1.6 .8-8.9 2.9-7 6.8-7.6 7.1-4.9 6.9-2.6 3.3 .1 2.7 .5 9-.6 4.5-4.5 6-2.3 17.4-11.6 6.1-.2 5.5-2.7 6-3.9 7-2.8 6-5.9 2.9-6 2.4-7 2.7-3.2 4.5-3.4 7-1.2 4.5 .8 1.5 1.5 .7 1-.8 2 1.1 6.4 0 2.6-.6 6-1.9 5.7 0 .8 1.1 2.5-.1 .9-4.5 4.8-3 2.1-3 1.5-3.5 1.1-5.5 1-6 2.9-4 .8-5.5-.1-10.5 4.8-7 1.1-14.5 9.2-3 1.3-3.5 .8-6.5 3.7-3.5 .5-5.5-1.9-.5 1-.7 5.5-1 3-3.2 5.5-2.3 6-2.2 3.5-3.1 3.3-4 2.9-4.5 2zM108 217l-2-.4-.7-.6 0-.5 2-1.5 4.2-1.9 .4 .4-1 3-1.4 1.1z"/>
<path fill="#80f91a" d="M264 136.5l-1 .2-.8-.7 .9-3-.1-4.6 2.4-2.4 .6-3.3 1.1-2.7 5.9-7.5 3.4-9.5 4.1-7.5 4.3-6 3.2-9.8 2.4-5.7 2.1-3 2.8-3 3.2-4.3 2.5-2.2 2-1.1 0 3.5-1 7.1-2.3 7-2.2 11.8-2.4 6.7-4.3 5.5-3.9 7.5-2.7 8.5-6.7 7.5-5 7.6zM169 181.6l-3 .3-2.7-1.4-2.7-5-.9-2.5 .4-.5 5.9-.6 4.5-4.4 6-2.3 17.5-11.7 6-.2 5.5-2.7 6-3.8 7-2.9 6-5.9 2.9-6 2.5-7 2.6-3.2 4.5-3.4 6.5-1.1 4.6 .7 .8 .5 1.6 2.5-1.1 2 .9 6.5-.3 5-.8 4-1.2 3.5 0 1 1.4 3.5-2.3 3-2.6 2.4-3 2-3 1.4-3.5 1.1-5 .8-6 2.9-4 .8-6-.1-10.5 4.8-6.5 1-15 9.5-3 1.2-3.5 .8zM133 214l-3.5-.1-3.5-.6-7-2.8-3.5 .1-.8-.6 .1-.5 .9-1 3.7-2.5 2.7-1.5 4.4-1.6 .3-.4 .5-8.5 2.9-7 6.7-7.5 6.6-4.6 2-.9 6-2.1 3.6 .6 1.7 2 1.4 3 .7 3.5 0 4-1.3 5-3.1 5.4-2.2 6.1-3.5 5-4.3 3.7-5.5 2.7z"/>
<path fill="#a6fb11" d="M265 136.1l-1.5 .3-.6-.4 .5-2-.1-4.5 .4-1 2.2-2 .6-3.4 1.1-2.6 6.1-8 2.8-8.3 4.4-8.2 4.8-6.5 3.3-9.6 2.8-5.4 3.4-4 6.8-6 .4 1-.4 5-2.3 7-2.2 12.1-2.4 6.9-4.3 5.5-4 7.5-2.6 8.5-6.7 7.5-5 7.5zM167 180.5l-1.5-.6-1.5-2-2-4.4 .3-1 4.2-.7 4-4.3 6-2.3 17.5-11.6 6-.2 5.5-2.7 6-3.9 7-2.9 6.1-5.9 2.8-6 2.5-7 2.6-3.1 4.5-3.4 6.5-1.1 5.1 1.1 1.5 3-1.4 2 .7 5.5-.1 3-.8 5-1.3 4 1.9 4.5-.1 .7-2.2 2.8-2.8 2.6-3 1.9-3 1.4-3.5 1.1-5 .7-6 2.9-4 .7-5.5-.2-10.5 4.8-6.5 .9-15.5 9.8-3 1.1-3.8 .8-5.3 2.5zM136 213l-5 .4-5-.8-5-2-3.5-1.9-.5-.7 1-1 2.4-1.5 6.1-2.5 .3-.5 .6-8.5 2.8-7 6.7-7.5 7.6-5.1 7-2.4 2.6 .5 2.5 3.5 1.4 4.5 .1 5-1.3 4.5-2.8 4.9-2.4 6.6-3.1 4.5-2.7 2.5-2.9 2-3.4 1.6z"/>
<path fill="#c7fc0b" d="M265 136l-.9 0-.4-.5 .3-6 2.5-2.4 .6-3.6 1.7-3.5 5.5-7 2.2-7.1 2-4 3-5.4 4.9-6.5 4-9.5 3.4-5.5 3.2-3.2 4.5-2.8 0 2.4-1.9 6.1-2.1 11.8-2 6-.5 1.2-4.3 5.5-4 7.5-2.6 8.5-6.7 7.5-5 7.5zM167.5 177l-1-.1-1-.8-1.4-3.1 .4-.5 2-.5 4.2-4.5 5.8-2.2 17-11.4 6.5-.5 5.5-2.6 6-3.9 7.5-3.3 5.6-5.6 2.9-6 2.1-6.5 2.9-3.6 4.5-3.4 7-1.1 2.8 .6 1.5 1 1.4 2.5-1.7 2.5 .5 6.5-.7 5-1.3 4.5 1.7 3.5 .6 2-2.8 3.5-3 2.6-5.4 2.9-3.6 1-5 .7-5.7 2.8-3.8 .7-5.5-.3-10.5 4.8-7 1.1-14.4 9.2-3.5 1.5-2.6 .4-5.5-.3zM135.5 212.5l-5 .3-4.5-.8-4.8-2-2.7-1.7-.6-.8 1-1 3.4-2 4.2-1.5 .4-.5 .5-8.5 2.9-7 6.7-7.5 7.5-5.1 5.5-1.9 1.5-.3 1.6 .3 1.8 2 1.5 3 .8 3 .3 3.5-1 4.8-3 5.5-1.9 5.7-2.7 4.5-3.9 3.9-4.5 2.6z"/>
<path fill="#e8fe04" d="M264.5 136l-.6-1.5 .6-3.9 2.5-2.1 1-4.5 1.1-2.5 5.7-7.5 2.7-8.3 4-7.3 2-3 4.2-4.9 2.2-4 2.1-5.1 1.5-2.4 3-3.4 3.5-2.3 0 2.3-2.5 13.4-2 6.1-.5 1.2-4.4 5.7-4 7.5-2.5 8.5-6.8 7.5-5.1 7.5zM177 175.6l-1.5-.2-8-2.5-.5-.3 0-.6 3.9-4.5 5.6-2.1 17-11.4 6-.3 6-2.9 6-3.9 7.5-3.2 5.7-5.7 2.8-6 2.1-6.5 2.9-3.6 4.5-3.3 6.8-1.1 2.2 .5 1.4 1 1.8 3-2.2 3 .5 6-1.6 7 .1 1 2.5 5.7-2.4 3.3-2.6 2.4-3 2.1-3 1.3-3.5 1-5 .7-6 2.8-3.5 .6-5.5-.2-11 5-6.5 .8-15.2 9.5zM134.5 212l-4.5 .1-4.5-.9-4.7-2.2-1.8-1.2-.3-.8 3.7-2.5 4.2-1.5 .8-9 2.9-7 6.7-7.4 7.5-5.1 6-2 1.4 0 2 2 1.7 3 .9 3.3 .2 3.2-.9 4.5-2.8 5.1-2 6.2-2.9 4.7-3.7 3.5-4.4 2.5z"/>
<path fill="#fffb03" d="M265.5 135.5l-1.1 0 .6-3.2 3-2.6 .9-4.2 1.4-3 5.8-8 1.5-5.5 1.9-4.4 4.5-7.4 5.1-5.7 5.4-9.7 4-3.8 .3 1-.3 3.5-1 5.8-2.4 7.7-4.9 6.5-3.4 6.5-2.8 9-6.8 7.5-5.2 7.5zM178 174l-2.5 0-6.5-2.9-.3-.6 1.8-2.5 6.5-2.8 16.6-11.2 6.4-.4 5.5-2.7 6-3.9 7-2.9 6.2-6.1 2.9-6 2-6.5 2.9-3.5 5-3.6 6-.7 1.5 .3 1.4 1 2.2 3.5-2.6 3.5 .3 5.5-1.3 5.5 2.6 5.5 .4 1.6-2.5 3.4-2.5 2.4-5.5 3.2-3.5 1-5.5 .7-5.5 2.7-3.5 .6-5.5-.2-11.3 5.1-6.7 .7-14.5 8.8zM135.5 211.1l-4.5 .3-4-.6-4.5-1.7-3-2.1 .7-1 2.4-1.5 4.1-1.5 .8-9 2.8-7 6.7-7.4 7.7-5.1 4.6-1.5 2.1 0 2.1 2.4 1.3 2.6 .8 3 .2 3-.8 4-2.9 5.5-1.6 5.5-2.5 4.4-3.5 3.6-4.1 2.5z"/>
<path fill="#fff00d" d="M267 134.5l-1.2 0 3.7-3.5 .8-4.5 1.6-3.5 5.6-7.5 1.6-6 1.9-4.2 4.5-7.3 5.4-5.5 6.6-9.2 0 3.4-.5 2.9-2 6.3-4.6 6.1-3.7 7-2.8 9-6.5 7-5.4 7.7zM176.5 171.6l-2.5-.1-3.5-1.8-.3-.7 .6-1 .9-.5 4.8-1.8 17.3-11.7 6.2-.2 6-3.1 5.6-3.7 7.4-3.2 5.7-5.8 2.9-6 2.1-6.5 2.8-3.5 4-3 1-.5 6.4-.5 2.4 2.5 1.7 3-3 3.5 .2 4.5-.7 4.5 3 6.5 0 .8-2.5 3.5-3 2.7-5.5 3-3.5 .9-5 .5-3.5 2-2.5 .9-3 .4-5-.3-12 5-7 .2-15.5 8.5zM136 210l-4.5 .5-4-.5-4.1-1.5-3-2 1.5-1.5 4.9-2 .7-9 2.9-7 2.1-2.5 4.8-5 6.6-4.5 4.1-1.5 2.5 0 2.5 3 1.4 3.5 .4 4-.8 4-2.8 5-1.9 6.5-2.6 4-2.2 2.3-2.5 1.8-3 1.5z"/>
<path fill="#ffe417" d="M272 131.6l.6-4.6 1.9-3.5 4.8-7 1.2-5.5 2-4.5 5-7.4 8-7.5 0 1.5-1 3.1-4.4 5.8-3.8 7.5-2.6 8.5-6.6 7-3.1 4.6zM174 168.6l-1.4-.1-.6-.5 5-2.2 17-11.7 6-.2 6-3 5.8-3.9 7.2-3.1 5.8-5.9 2.8-6 2.1-6.5 2.9-3.5 4.4-3.3 2.5-.4 3.5 .2 3.1 3.5 1.2 2-3.3 4-.4 5.5 3.4 8.6-3 4.2-3.7 3.2-5.7 2.5-7.1 .9-3.5 2-3 1-3 .2-5-.7-12 4.1-6.5-.5-16.5 8.4zM136 209l-4 .5-4-.4-4-1.4-2.6-1.7 1.7-1.5 3.8-1.5 .6-9 3.2-7.5 7.3-7.5 6-4 2.8-1 2.2-.2 2.5 2.3 1.8 3.9 .5 4-.8 3.5-2.5 4.5-1.8 6.5-2.4 4-2.3 2.4-2.5 1.9z"/>
<path fill="#ffd821" d="M281 120.1l-.4-.1 1.5-3 1.4-6.5 1.5-2.8 4-5.5 0 1.2-2.8 5.6-2.7 8.7zM201 156.1l-2.5 0-4.6-1.1 .6-.5 5.5-.2 6.5-3.5 5.5-3.8 7-3.1 5.8-5.9 2.9-6 2-6.5 2.9-3.5 4.1-3 1.3-.5 3.2 0 2.8 2.5 2.5 4-2.7 3 .1 1-.5 .5 0 4 3.1 7-2.5 4-3 3-5 2.8-3.5 .9-5 .4-4 2.3-2.5 .8-4 .1-6-1.6zM133 208.5l-3 0-3-.6-3-1.2-1.6-1.2 1.1-1 3.5-1.5 .6-9 2.8-7 7-7.5 6.8-4.5 2.8-.8 1.5 .3 2 2 1.2 2 .8 2.5 .2 2.5-.6 3.5-2.6 4.7-1.9 6.8-2.5 4-3.4 3-4.2 2.1z"/>
<path fill="#ffcc29" d="M220.5 153.6l-2.5 .1-2.5-.5-6.1-3.2-.1-.5 3-2.5 6.7-3 5.5-5.6 3.2-6.4 2.1-6.5 2.7-3.3 4.5-3.4 1.5-.3 2 .2 1.7 1.8 3.3 5.4-1.8 2.1 .1 1-.5 .5 0 4 2.2 5 .1 1-1 2-3.1 4-4 2.8-4.5 1.6-6 .4-4 2.5zM134 207.5l-3 .1-3-.4-3-1.1-1.6-1.1 3.8-2 .3-7.7 .5-2.3 2.5-6.1 6.5-7 7.5-4.9 2.5-.2 1.6 1.2 1.6 2 1.1 2.5 .4 2.5-.5 3.5-2.5 4.5-1.6 6.5-2.1 3.6-3 3.1-4 2.3z"/>
<path fill="#ffbd2d" d="M221.5 152l-3 .5-3-.7-2.9-1.8-1.1-1.3-.1-.7 1.2-1 6.4-2.8 5.9-6.2 2.9-6 2-6.5 2.7-3.3 4.5-3.3 2-.4 1.4 .5 4.1 7.8-.9 1.2 0 1-.4 .5 0 4 1.8 4-1.5 3.4-2.8 3.6-3.7 2.7-4.5 1.5-6 .2zM134.5 206.5l-5 .1-4.7-1.6-.1-.5 2.6-1.5 .2-7.1 .5-2.8 2.5-6.1 6.5-7 6.9-4.5 2.1-.1 1.6 1.1 1.7 2 .9 2 .4 2.5-.6 3.5-2.3 4-1.2 6-1.8 3.5-2.7 3-3.5 2.3z"/>
<path fill="#ffaf31" d="M220 151l-2.5 0-2-.6-2-1.5-.8-1.4 1.3-1 5-2.2 5.6-5.8 3.2-6.5 2-6.5 2.7-3.2 4.5-3.4 1.5-.2 1.3 .3 1.8 3 1.9 5.6 0 1.4-.4 .5 0 4 .5 .5 .4 2.3-1.7 4.2-2.8 3.4-3.5 2.3-4.5 1.4-6 .1-3 2.4zM134.5 205.6l-4.5 .1-4-1.2 0-.5 1.4-1 .1-6.4 .5-3.4 2.5-6.2 5-5.3 2.4-2.2 4.6-3 1-.5 1.5 0 2 1.4 1.3 1.6 .9 2 .3 2-.5 3.2-2.2 3.8-1.1 6-1.7 3.4-2.5 2.8-3.5 2.3z"/>
<path fill="#ffa034" d="M220 149.1l-3-.2-1.7-.9-.7-1 1.1-1 3.3-1.6 5.7-5.9 3.2-6.5 2-6.5 2.6-3.2 4.5-3.3 2.3 0 2 3.5 1.7 8.2-.1 4.8-1.9 4.7-2.5 2.9-3.5 2.2-4.5 1.1-6-.4-3 2.5zM135 204.5l-4 .4-3.7-.9 .6-10.5 2.6-6.3 3-3.4 3.9-3.8 2.2-1.5 2.6-1.5 1.8-.1 1.5 .8 1.5 1.4 1 1.9 .4 2-.6 3-2 3.5-.9 6-1.4 3-2.5 2.9-3 2.1z"/>
<path fill="#ff9237" d="M220 146l-1.5 .4-.9-.4 .2-.5 3.6-2.5 3.4-4.5 2.9-6 2.2-7 3.6-4 3.7-2.5 1.6 0 1.2 1.5 1.1 3 .8 9-.5 4-1.8 3.5-3 3-3.6 1.7-4.5 .4-6.5-1.5zM135 203.5l-3.5 .4-3.5-.7-.5-3.2 .5-6.5 2.5-6.3 3-3.3 3.5-3.3 2.5-1.6 2-.9 1.5 .1 2.6 1.8 1.1 3-.2 2-1.8 3.5-.2 4-.5 2.5-1.4 3-2 2.5-2.6 1.8z"/>
<path fill="#ff8636" d="M232.5 143.5l-2.5 .4-3-.3-3.5-1.6-.5-1 2.2-3 2.6-5.5 2.1-7 3-3.5 3.6-2.5 1.5-.5 .9 .5 .7 1 1.1 3.5-.3 11-1 3-1.8 2.5-2.6 2zM134.5 202.6l-3.5 .3-3-.9-.3-3 .3-5.5 2.7-6.5 4.3-4.5 2-1.5 4-.9 1.5 .2 1.5 1.1 .6 1.6-.2 1.5-1.1 2.5 .3 4.5-.7 3.5-1.4 2.8-1.9 2.2-2.6 1.7z"/>
<path fill="#ff7935" d="M230 142.5l-4-.7-1.5-.8-.5-1 1.4-2 2.5-5.5 2.1-7 3-3.5 3.8-2.5 1.2-.1 1.5 2.1 .8 3.5-1.6 11-1.3 2.5-1.9 2-2.5 1.4zM134.5 201.5l-4 .3-2-.5-.5-.6 0-7.1 2.8-6.6 4.2-4.3 1.5-.9 3 1.2 2-.1 .3 .6-.4 2 1.1 5.5-.7 4-1 2-1.8 2.1-2 1.4z"/>
<path fill="#ff6d35" d="M232 140.6l-2 .4-2.5-.3-2-.9-.3-.8 3.1-7.5 1.7-6 3-3.5 3.2-2 1.3-.3 1.5 2.2 .6 3.1-.3 2.5-1.4 3.5-.5 4-.8 2-1.1 1.5-1.5 1.2zM134 200.6l-3 .2-2.5-.7-.5-1.1-.1-5 3.1-7.3 3.5-3.4 1.5-.7 2.3 1.4 1.7 2 1.2 3 .2 3-.7 3-1.6 2.5-2.4 2z"/>
<path fill="#ff6034" d="M231.5 139.1l-3.5 .1-1.6-.7-.4-1 2.3-5.5 1.7-6.4 3-3.5 2.5-1.6 1.5-.2 .9 1.2 .7 2-.2 3.5-2 4-.4 3.2-.7 1.8-1.7 2zM134 199.5l-3 .2-2.5-.7-.5-1.1 0-3.9 3-7.2 3-2.8 1.5-.6 2.4 1.6 1.5 2 .9 2.5 .1 2.5-.6 2.5-1.3 2.1-2 1.8z"/>
<path fill="#ff5233" d="M229.5 137.5l-2-.5-.5-1 1.7-5 1.3-5.3 3-3.5 3-1.4 .8 .7 .8 2 .2 2-.5 2-2.7 4-1.2 4-1.7 1.5zM134 198.5l-3 .3-2.4-.8-.5-1.5-.1-2 2.9-7.5 2.1-2 1.5-.8 2 .9 1.8 1.9 .9 2 .3 2.5-.5 2.5-1.2 2-1.8 1.6z"/>
<path fill="#ff4433" d="M230.5 134.1l-1 .2-.9-.8 1.4-7.7 3-3.5 1.5-.9 1-.1 .9 1.2 .5 1.5-.3 3-1.6 2.4-3.4 2.6zM134 197.5l-2.5 .4-2.5-.7-.5-.4-.3-2.3 .8-3 2-4.5 2-1.7 1-.4 1.5 .6 1.6 1.5 1.1 2 .4 2-.3 2-.9 2-1.5 1.5z"/>
<path fill="#ff3732" d="M232.5 130.1l-2 .3-1-.4 0-2 .5-2 3-3.6 2-.6 1.1 2.2-.1 2.5-1.1 2zM134 196.6l-2 .4-2-.3-1.5-1.1-.1-1.1 .6-2.7 2-4.6 1.5-1.3 1-.2 1.5 .6 1.3 1.2 .9 1.5 .5 2-.3 2-.8 1.5z"/>
<path fill="#fd2b34" d="M231 129.5l-1.3-.5 .3-3 3-3.5 1.5-.2 1 2.2-.5 2.5-1.5 1.7zM132.5 196l-2.9-.5-.6-.4-.4-1.1 .9-3.3 1.5-3.2 1-.8 1-.2 1.5 .6 1.4 1.4 .7 1.5 .1 1.5-.3 1.5-1 1.5-1.4 1.1z"/>
<path fill="#f62439" d="M232 128.6l-2-.1 0-2.1 1.5-2.2 2-1.6 .7 .4 .4 1 0 2-.8 1.5zM132.5 195.1l-2-.2-1-.6-.5-.8 1-3.7 1-1.8 1-.7 1.2 .2 1.3 .8 .9 1.2 .4 1.5-.8 2.5-1 1z"/>
<path fill="#ef1c3f" d="M231 128l-.8-.5 .3-2 2-2.1 1 0 .5 1.6-.4 1.5-1.1 1.1zM132.5 194l-2-.2-1-1.3 1-3.2 .5-.7 1-.3 2 .9 .8 1.8-.7 2z"/>
<path fill="#e91544" d="M232 127l-1.5 .1-.1-1.1 1.1-1.5 1-.7 .5 .2 .2 1.5zM133 192.5l-1.5 .4-1-.6-.2-1.3 .7-1.3 1-.3 1.2 .6 .4 1.5z"/>
<path fill="#e0104a" d="M231.5 126.3l-.5 0 0-.8 1-1 .3 1z"/>
</g>
</g>
<rect x="252.5" y="196" width="10.8" height="59.9" fill="url(#gud)"/>
<path d="M263 196h5.8M263 226h5.8M263 255.9h5.8" stroke="#262626" stroke-width="1.1"/>
<text x="272.8" y="198.8" class="cb">5.</text>
<text x="272.8" y="228.8" class="cb">2.</text>
<text x="272.8" y="258.7" class="cb">-1.</text>
<text transform="translate(305.7,224.95) rotate(-90)" text-anchor="middle" class="cbl" textLength="32.3" lengthAdjust="spacingAndGlyphs">UD(m)</text>
</g>
<g transform="translate(0.8,297.05)">
<path d="M406.5 4.38H677.4V270.3H406.5z" fill="none" stroke="#404040" stroke-width="1.15"/>
<path d="M399.9 257h13.2M399.9 222.9h13.2M399.9 188.8h13.2M399.9 154.7h13.2M399.9 120.6h13.2M399.9 86.5h13.2M399.9 52.4h13.2M399.9 18.3h13.2M435.4 263.5v13M469.5 263.5v13M503.6 263.5v13M537.7 263.5v13M571.8 263.5v13M605.9 263.5v13M640 263.5v13M674.1 263.5v13" stroke="#303030" stroke-width="1.1"/>
<text x="399.5" y="259.9" text-anchor="end" class="tr" textLength="14.7" lengthAdjust="spacingAndGlyphs">-20</text>
<text x="399.5" y="225.8" text-anchor="end" class="tr" textLength="5.75" lengthAdjust="spacingAndGlyphs">0</text>
<text x="399.5" y="191.7" text-anchor="end" class="tr" textLength="11.5" lengthAdjust="spacingAndGlyphs">20</text>
<text x="399.5" y="157.6" text-anchor="end" class="tr" textLength="11.5" lengthAdjust="spacingAndGlyphs">40</text>
<text x="399.5" y="123.5" text-anchor="end" class="tr" textLength="11.5" lengthAdjust="spacingAndGlyphs">60</text>
<text x="399.5" y="89.4" text-anchor="end" class="tr" textLength="11.5" lengthAdjust="spacingAndGlyphs">80</text>
<text x="399.5" y="55.3" text-anchor="end" class="tr" textLength="17.25" lengthAdjust="spacingAndGlyphs">100</text>
<text x="399.5" y="21.2" text-anchor="end" class="tr" textLength="17.25" lengthAdjust="spacingAndGlyphs">120</text>
<text x="435.4" y="285.3" text-anchor="middle" class="tr" textLength="5.75" lengthAdjust="spacingAndGlyphs">0</text>
<text x="469.5" y="285.3" text-anchor="middle" class="tr" textLength="11.5" lengthAdjust="spacingAndGlyphs">20</text>
<text x="503.6" y="285.3" text-anchor="middle" class="tr" textLength="11.5" lengthAdjust="spacingAndGlyphs">40</text>
<text x="537.7" y="285.3" text-anchor="middle" class="tr" textLength="11.5" lengthAdjust="spacingAndGlyphs">60</text>
<text x="571.8" y="285.3" text-anchor="middle" class="tr" textLength="11.5" lengthAdjust="spacingAndGlyphs">80</text>
<text x="605.9" y="285.3" text-anchor="middle" class="tr" textLength="17.25" lengthAdjust="spacingAndGlyphs">100</text>
<text x="640" y="285.3" text-anchor="middle" class="tr" textLength="17.25" lengthAdjust="spacingAndGlyphs">120</text>
<text x="674.1" y="285.3" text-anchor="middle" class="tr" textLength="17.25" lengthAdjust="spacingAndGlyphs">140</text>
<text x="341.6" y="139.6" class="al2" textLength="44.2" lengthAdjust="spacingAndGlyphs">Northing</text>
<text x="541.9" y="298.4" text-anchor="middle" class="al" textLength="60.5" lengthAdjust="spacingAndGlyphs" clip-path="url(#ec)">Easting(km)</text>
<text x="346.4" y="20.6" class="pl" textLength="20.6" lengthAdjust="spacingAndGlyphs">(d)</text>
<use href="#rm"/>
<g filter="url(#bl)">
<path fill="#321a4e" d="M607 138.9l-1.4-2.9-.5-2.5-1-1.5-1-4-1.5-3 0-1-1-1.5 .9-.4 3.5-3.5 .5 0 5.1-5.1 1-2 1.5-1.5 0-.5 2-2.5 2.5-5 0-1 2.5-4.5 0-1 5.5-6.5 1-2 0-1 1-1.5 0-1 1-1.5 0-1 1-1.5 0-1 1-1.5 .5-2.5 .5-.5 0-1.5 .5-.5 0-1.5 .5-.5 0-1.5 .5-.5 0-1.5 1-2 0-1.5 .5-.5 0-2 .5-.5 .5-4.5 .5-.5 .1-2 .4-.5 .1-5 .5-.5 0-3-.4-.5 0-2.5-.6-.5-.4-4-.6-.5 0-1-1-2 .3-.8 3.3 3.3 0 .5 2 2 0 .5 3 3.5 3 6 1 1 1.1 2 0 7.5 .5 .5 0 2-.5 .5-.5 5-.5 .5 0 1.5-.5 .5 0 2-.5 .5 0 1.5-.5 .5 0 1.5-.5 .5 0 1.5-.5 .5 0 1.5-.5 .5 0 1.5-.5 .5 0 1.5-.5 .5 0 1.5-.5 .5 0 1.5-.5 .5 0 1.5-.5 .5-.5 2.5-1 1.5 0 1-1 1.5 0 1-1 1.5 0 1-2 4-1 1-.5 1.5-1 1-.5 1.5-2.5 3.5-1 2.5-1 1-1 2.5-1 1-2 4-10.9 11.4-.5 0-1.5 1.5-.5 0z"/>
<path fill="#382b74" d="M607 138.8l-.3-1.3-1-1.5-.5-2.5-1-1.5-1-4-1-1.5-.5-2.5-.9-1.5 .7-.2 3.5-3.5 .5 0 5.2-5.3 1.1-2 3.4-4.5 2.5-5 .1-1 2.4-4.5 .1-1 5.9-7.5 5.5-14 .1-1.5 .4-.5 1.1-5.5 .9-2 .1-1.5 .4-.5 .1-2 .5-.5 .6-4.5 .4-.5 .1-2 .5-.5 .1-3.5 .5-1 .5-.8 1.5-.1 6 .4 2.1 3.5 .2 7.5 .5 .5 0 2-.5 .5-.5 5-.5 .5 0 1.5-.5 .5 0 2-.5 .5 0 1.5-.5 .5 0 1.5-.4 .5 0 1.5-.5 .5 0 1.5-.5 .5 0 1.5-.5 .5 0 1.5-.5 .5 0 1.5-.5 .5 0 1.5-.5 .5 0 1.5-.5 .5-.5 2.5-1 1.5 0 1-1 1.5 0 1-1 1.5 0 1-2 4-2.5 3.5-.5 1.5-1 1-.5 1.5-1 1-1 2.5-1 1-1 2.5-1 1-2 4-10.9 11.3-.5 0-1.5 1.5-.5 0z"/>
<path fill="#3d3e9b" d="M607 138.8l-6.1-16.3 .6-.2 3.5-3.4 .5-.1 5.3-5.3 1-2 3.5-4.5 2.4-5 .1-1 2.4-4.5 .1-1 5.9-7.5 5.5-14 .1-1.5 .4-.5 1.1-5.5 1.5-4 .1-2 .4-.5 .1-2 .4-.5 .1-2 .5-.5 .1-2 .4-.5 .6-3.1 .5-.7 2-.1 6.5 .5 1.1 1.9 .2 7.5 .5 .5-.5 5-.5 .5 0 2-.5 .5 0 1.5-.5 .5 0 2-.5 .5 0 1.5-.5 .5 0 1.5-.5 .5 0 1.5-.5 .5 0 1.5-.5 .5 0 1.5-.5 .5 0 1.5-.5 .5 0 1.5-.5 .5 0 1.5-.5 .5 0 1.5-.5 .5-.5 2.5-.9 1.5-.1 1-.9 1.5 0 1-1 1.5-.1 1-2 4-2.5 3.5-.5 1.5-1 1-.5 1.5-1 1-1 2.5-1 1-1 2.5-1 1-2 4-10.8 11.3-.5 0-1.5 1.5-.5 0z"/>
<path fill="#414eb7" d="M607 138.8l-6.1-16.3 .6-.1 3.5-3.5 .5-.1 5.3-5.3 1.1-2 3.4-4.5 2.5-5 0-1 2.5-4.5 0-1 5.5-6.5 6-15 1.6-7.5 1.4-4 1.2-7 1.8-5.5 4.2-.5 5 .8 .5 .7 .2 7.5 .5 .5-.4 5-.5 .5 0 2-.5 .5 0 1.5-.5 .5 0 2-.5 .5 0 1.5-.5 .5 0 1.5-.5 .5 0 1.5-.5 .5 0 1.5-.5 .5 0 1.5-.5 .5 0 1.5-.5 .5 0 1.5-.5 .5 0 1.5-.5 .5 0 1.5-.5 .5-.5 2.5-1 1.5 0 1-1 1.5 0 1-1 1.5 0 1-2 4-2.5 3.5-.5 1.5-1 1-.5 1.5-1 1-1 2.5-1 1-1 2.5-1 1-2 4-10.8 11.3-.5 0-1.5 1.5-.5 0z"/>
<path fill="#435dce" d="M607 138.7l-6-16.2 .5-.1 3.5-3.4 .5-.1 5.4-5.4 1-2 3.4-4.5 2.5-5 .1-1 2.4-4.5 .1-1 5.4-6.5 6-15 1.6-7.5 1.4-4 1.2-6.5 2-5.2 5-.3 4.5 1 .2 7 .5 .5 0 2-.5 .5-.5 5-.5 .5 0 1.5-.4 .5 0 2-.5 .5 0 1.5-.5 .5 0 1.5-.5 .5 0 1.5-.5 .5 0 1.5-.5 .5 0 1.5-.5 .5 0 1.5-.5 .5 0 1.5-.5 .5 0 1.5-.5 .5 0 1.5-.5 .5-.5 2.5-1 1.5 0 1-1 1.5 0 1-1 1.5 0 1-2 4-2.5 3.5-.5 1.5-1 1-.5 1.5-1 1-1 2.5-1 1-1 2.5-1 1-2 4-10.8 11.2-.5 0-1.5 1.5-.5 0z"/>
<path fill="#446fe2" d="M607 138.7l-.2-1.2-1-1.5 0-1-.5-.5 0-1-1-1.5-1-4-1-1.5 0-1-.5-.5-.6-2.5 3.8-3.5 .5-.1 5.4-5.4 1.1-2 3.4-4.5 2.4-5 .1-1 2.4-4.5 .1-1 5.4-6.5 6-15 1.7-7.5 1.4-4 .6-4 2-6 .5-.8 3.5-.3 3 .3 2.5 .8 .5 .3 .1 5.7 .5 .5 .1 2-.5 .5-.5 5-.5 .5 0 1.5-.5 .5 0 2-.5 .5 0 1.5-.5 .5 0 1.5-.4 .5 0 1.5-.5 .5 0 1.5-.5 .5 0 1.5-.5 .5 0 1.5-.5 .5 0 1.5-.5 .5 0 1.5-.5 .5 0 1.5-.5 .5-.5 2.5-1 1.5 0 1-1 1.5 0 1-1 1.5 0 1-2 4-2.5 3.5-.5 1.5-1 1-.5 1.5-1 1-1 2.5-1 1-1 2.5-1 1-2 4-10.8 11.2-.5 0-1.5 1.5-.5 0z"/>
<path fill="#437dee" d="M607 138.7l-.2-1.2-1.5-3 0-1-1-1.5-1-4-1-1.5 0-1-.9-2 .1-1 9.4-9 4.5-6.5 2.5-5 .1-1 2.4-4.5 .1-1 5.4-6.5 5.5-13.5 4.6-18 1.5-4.3 1.5-.7 3-.2 4.5 1.1 1 .6 .1 4.5 .5 .5-.4 5-.5 .5 0 2-.5 .5 0 1.5-.5 .5 0 2-.5 .5 0 1.5-.5 .5 0 1.5-.5 .5 0 1.5-.5 .5 0 1.5-.5 .5 0 1.5-.5 .5 0 1.5-.4 .5 0 1.5-.5 .5 0 1.5-.5 .5 0 1.5-.5 .5-.5 2.5-1 1.5 0 1-1 1.5 0 1-1 1.5 0 1-2 4-2.5 3.5-.5 1.5-1 1-.5 1.5-1 1-1 2.5-1 1-1 2.5-1 1-2.1 4-10.7 11.2-.5 0-1.5 1.5-.5 0z"/>
<path fill="#3f8ef4" d="M607 138.6l-.1-1.1-1.6-3 0-1-1-1.5-1-4-1-1.5-.8-3.7 7.9-7.3 1.6-2 4.4-6.5 5-10.5 .1-1 5.4-6.5 5.5-13.5 6.1-21.7 4-.6 4 .8 2 1.2 .1 3.3 .5 .5-.5 5-.5 .5 .1 2-.5 .5 0 1.5-.5 .5 0 2-.5 .5 0 1.5-.5 .5 0 1.5-.5 .5 0 1.5-.5 .5 0 1.5-.5 .5 0 1.5-.5 .5 0 1.5-.5 .5 0 1.5-.5 .5 0 1.5-.5 .5 0 1.5-.5 .5-.5 2.5-1 1.5 0 1-1 1.5 0 1-1 1.5 0 1-2 4-2.5 3.5-.5 1.5-1 1-.5 1.5-1 1-1 2.5-1 1-1 2.5-1 1-2 4-10.7 11.2-.5 0-1.5 1.4-.5 0z"/>
<path fill="#389cf2" d="M607 138.6l-.1-1.1-1.5-3 0-1-1.1-1.5-.9-4-1-1.5-.9-3.4 8.5-8.1 5.5-8 5.2-11.5 5.2-6.5 5.6-13.5 6-20.8 4.5-.6 3.5 1 2 1.3 .6 4.1-.5 1 0 2.5-.5 .5 0 2-.5 .5 0 1.5-.5 .5 .1 2-.5 .5 0 1.5-.5 .5 0 1.5-.5 .5 0 1.5-.5 .5 0 1.5-.5 .5 0 1.5-.5 .5 0 1.5-.5 .5 0 1.5-.5 .5 0 1.5-.5 .5 0 1.5-.5 .5-.5 2.5-1 1.5 0 1-1 1.5 0 1-1 1.5 0 1-2 4-2.5 3.5-.5 1.5-1 1-.5 1.5-1 1-1 2.5-1 1-1 2.5-1 1-2 4-10.7 11.1-.5 0-1.5 1.5-.5 0z"/>
<path fill="#2eabea" d="M607 138.6l-.1-1.1-1-1.5-.5-2.5-1-1.5-1-4-1-1.5 0-1-.5-.5-.4-1.6 8.7-8.4 5.3-8 5.5-11.8 5-6.2 5.5-13.5 5.5-19.2 1-.8 2.5-.5 2.5 .2 2 .7 1.5 1.1 1.5 2-.4 5-.5 .5 0 2-.5 .5 0 1.5-.5 .5 0 2-.5 .5 0 1.5-.5 .5 0 1.5-.4 .5 0 1.5-.5 .5 0 1.5-.5 .5 0 1.5-.5 .5 0 1.5-.5 .5 0 1.5-.5 .5 0 1.5-.5 .5 0 1.5-.5 .5-.5 2.5-1 1.5 0 1-1 1.5 0 1-1 1.5 0 1-2 4-2.5 3.5-.5 1.5-1 1-.5 1.5-1 1-1 2.5-1 1-1 2.5-1 1-2 4-10.7 11.1-.5 0-1.5 1.5-.5 0z"/>
<path fill="#22bbdb" d="M607 138.5l0-1-1.6-3 0-1-1-1.5-1-4-1-1.5-.7-3 8.7-8.5 5.3-8 5.3-11.6 5.3-6.9 5.1-12.5 5.6-18.6 3.5-1.3 3.5 .6 2.3 1.8 1.7 2.5-.5 .5-.4 5-.5 .5 0 1.5-.5 .5 0 2-.5 .5 0 1.5-.5 .5 0 1.5-.5 .5 0 1.5-.5 .5 0 1.5-.5 .5 0 1.5-.4 .5 0 1.5-.5 .5 0 1.5-.5 .5 0 1.5-.5 .5 0 1.5-.5 .5-.5 2.5-1 1.5 0 1-1 1.5 0 1-1 1.5 0 1-2 4-2.5 3.5-.5 1.5-1 1-.5 1.5-1 1-1 2.5-1 1-1 2.5-1 1-2.1 4-10.6 11.1-.5 0-1.5 1.5-.5 0z"/>
<path fill="#1ac7cc" d="M607 138.5l0-1-1.6-3 0-1-1-1.5-1-4-1-1.5-.4-3 8.5-8.3 5.3-8.2 5.3-11.5 5.4-7 5.1-12.5 4.9-16.7 3-1.6 3.5 .1 1.5 .8 1.9 1.9 1.1 2.2 0 1.3-.5 .5 0 2-.4 .5 0 1.5-.5 .5 0 2-.5 .5 0 1.5-.5 .5 0 1.5-.5 .5 0 1.5-.5 .5 0 1.5-.5 .5 0 1.5-.5 .5 0 1.5-.5 .5 0 1.5-.5 .5 0 1.5-.5 .5 0 1.5-.4 .5-.5 2.5-1 1.5 0 1-1 1.5 0 1-1 1.5 0 1-2.1 4-2.5 3.5-.5 1.5-1 1-.5 1.5-1 1-1 2.5-.9 1-1 2.5-1.1 1-2 4-10.6 11-.5 0-1.5 1.5-.5 0z"/>
<path fill="#17d4bb" d="M608 136.6l-1.5 .4-.5-1-.5-2.5-1-1.5-.5-2.5-.5-.5 0-1-1-1.5-.5-2.6 8.5-8.4 5.2-8 5.6-12 5.2-6.8 5.2-12.7 4.8-15.5 3.5-1.4 3 .3 2 1.4 1.2 1.7 .8 2 0 2-.5 .5 0 1.5-.5 .5 0 2-.4 .5 0 1.5-.5 .5 0 1.5-.5 .5 0 1.5-.5 .5 0 1.5-.5 .5 0 1.5-.5 .5 0 1.5-.5 .5 0 1.5-.5 .5 0 1.5-.5 .5 0 1.5-.5 .5-.5 2.5-1 1.5 0 1-1 1.5 0 1-1 1.5 0 1-2 4-2.5 3.5-.5 1.5-1 1-.5 1.5-1 1-1 2.5-1 1-1 2.5-1 1-2 4-10.6 11-.5 0-1.5 1.4z"/>
<path fill="#1addad" d="M608 134.5l-2.5 0 0-1-1-1.5-1-4-.9-1.5 .8-2 1.5-3 5.1-5.1 4.4-6.4 1.6-2.8 5.5-11.7 5-6.5 5.3-13 4.2-13.7 3-1.6 2-.1 1.6 .4 1.4 .9 1.6 2.1 .9 4.5-.5 .5 0 2-.5 .5 0 1.5-.5 .5 0 1.5-.4 .5 0 1.5-.5 .5 0 1.5-.5 .5 0 1.5-.5 .5 0 1.5-.5 .5 0 1.5-.5 .5 0 1.5-.5 .5 0 1.5-.5 .5-.5 2.5-1 1.5 0 1-1 1.5 0 1-1 1.5 0 1-2 4-2.5 3.5-.5 1.5-1 1-.5 1.5-1 1-1 2.5-1 1-1 2.5-1 1-2 4-8.6 8.9-4 1.8z"/>
<path fill="#26e49d" d="M611.5 131.6l-4 .2-1.5-.7-.9-1.1-.3-2.5 1.4-5 2.3-4 1.8-2 5.7-9 5.5-11.8 5.1-6.7 5.2-12.5 3.7-11.8 1.5-1.6 1.5-.8 2.5-.1 1.5 .5 1.5 1.3 .8 1.5 .7 3.5 0 4-.5 .5 0 1.5-.5 .5 0 1.5-.5 .5 0 1.5-.4 .5 0 1.5-.5 .5 0 1.5-.5 .5 0 1.5-.5 .5 0 1.5-.5 .5 0 1.5-.5 .5-.5 2.5-1 1.5 0 1-1 1.5 0 1-1 1.5 0 1-2 4-2.5 3.5-.5 1.5-1 1-.5 1.5-1 1-1 2.5-1 1-1 2.5-1 1-2.1 4-4.5 4.7-4.5 2.7z"/>
<path fill="#39eb88" d="M614 128.5l-2.5 .4-2-.3-1.4-1.6-.2-1.5 .6-2.5 3.1-8 4.4-7.2 5.5-11.8 5.3-7 5.3-13 2.4-8.1 3.5-3.5 1.5-.6 1.5 .1 1.6 1.1 1.4 2.7 .6 3.8 .1 3.5-.2 2-.5 .5 0 1.5-.5 .5 0 1.5-.5 .5 0 1.5-.5 .5 0 1.5-.4 .5 0 1.5-.5 .5 0 1.5-.5 .5-.5 2.5-1 1.5 0 1-1 1.5 0 1-1 1.5 0 1-2 4-2.5 3.5-.6 1.5-.9 1-.6 1.5-.9 1-1 2.5-1 1-1 2.5-1 1-2.1 4-1.5 1.4-2 1.1z"/>
<path fill="#4ef075" d="M615.5 125.5l-2.5-.3-1-1-.4-1.7 .3-3 1.6-7 2.6-4.5 5.6-12 5.2-7 5.3-13 1.8-5.7 3.5-3.4 1.5-.6 1.5 .1 1 .6 1 1.4 .7 2.1 .5 3 0 5.5-.2 2-.5 .5 0 1.5-.5 .5 0 1.5-.5 .5 0 1.5-.5 .5 0 1.5-.5 .5-.5 2.5-.9 1.5-.1 1-.9 1.5 0 1-1 1.5-.1 1-2 4-2.5 3.5-.5 1.5-1 1-.5 1.5-1 1-1 2.5-1 1-1 2.5-1 1-1 2.5-4.5 2.4z"/>
<path fill="#69f35e" d="M618.5 122.6l-1 0-1.9-.6-.9-1-.5-1.5 0-3.5 1.2-6.5 6.4-13.5 5.2-7 5.3-12.5 .7-2.6 2-2.8 1.5-1.4 2-.9 1.3 .2 1.2 .9 1.2 2.6 .6 7-.3 5.5-.5 .5-.5 3.5-.5 .5-.5 2.5-1 1.5 0 1-1 1.5 0 1-1 1.5 0 1-2 4-1 1-.5 1.5-1 1-.5 1.5-2.5 3.5-1 2.5-1 1-1 2.5-1 1-.5 1.3z"/>
<path fill="#7ff54d" d="M620 120.1l-2.3-.6-1-1-.6-1.5 0-8 .9-2.5 5-10.5 5.2-7 5.3-12.5 3.5-4.1 1.5-.8 1.5-.1 1 .7 1 2 .8 6.3-.1 5-.8 4.5-.4 2-1 1.5 0 1-1 1.5 0 1-1 1.5 0 1-.5 .9-3 4.1-4.5 7.5-2.6 6-2.4 1.5z"/>
<path fill="#93f440" d="M625 118l-2 .4-1.5-.2-2.6-1.7-1.1-2-.4-2-.4-5.5 5.2-10.5 5.1-7.5 3.9-9 4.3-4.7 1.5-.8 1 .1 1.5 1.3 1.2 4.6 .1 4.5-1.3 7-1.5 4.8-2.5 4-2.6 3.2-3.3 5.5-3.2 7.5z"/>
<path fill="#a5f136" d="M625 116.6l-2.5 .2-1.5-.7-1.1-1.1-1.6-3.5-.5-5 3.1-4 2.2-4.5 1.6-2.5 3.3-7.8 4.3-7.2 2.2-2.1 1.5-.8 1.5 .1 1 1 .7 1.8 .5 4-.7 5.5-1.5 5.6-2.9 4.4-3.5 4-3.4 6-2 6z"/>
<path fill="#b4eb32" d="M624.5 115.1l-1.5 .2-2.5-1.8-1.5-3.5-.2-2.5 3.3-3 4.2-7.5 2.1-7.5 1.6-2.7 3.7-5.3 1.3-.8 1.5 .1 1.1 1.2 .6 2-.3 5-1.4 6-1.5 2.2-4.5 3.8-1.4 2-3 5.5z"/>
<path fill="#c5e232" d="M632.5 96.6l-1 .3-1.5-.4-.7-2 .3-4 .9-1.5 2.5-2.6 2-.8 .9 2.4-.6 6-.8 1.3zM623 113.2l-1-.3-1-1.1-.7-1.8 .2-.9 1-.4 1.4 .8 .5 2z"/>
</g>
<use href="#tf3"/>
<polygon points="498.4,169 501,167.5 506.8,165.3 511.2,163.9 516.3,163.1 519.9,162 522.8,161 527.6,160.2 527.8,160.8 525,163.1 522.1,165.7 519.2,166.4 514.8,167.5 511.9,169.5 509.7,172.8 504.6,173.6 501.7,173.5 499.5,171.5" fill="#210c31"/>
<rect x="592.3" y="198" width="11" height="60.3" fill="url(#gsl)"/>
<path d="M603 198h6M603 258.3h6" stroke="#262626" stroke-width="1.1"/>
<text x="612.6" y="200.8" class="cb">8.</text>
<text x="612.6" y="261.1" class="cb">0.</text>
<text transform="translate(645.1,226.6) rotate(-90)" text-anchor="middle" class="cbr" textLength="38.9" lengthAdjust="spacingAndGlyphs">Slip[m]</text>
<path d="M650.4 207.9l.6 2.2M650.4 222.9l.6 2.2M650.6 232.2v1.3" stroke="#2a2a50" stroke-width="1.2"/>
</g>
<g transform="translate(0.75,594.74)">
<path d="M65.65 4.38H333.2V266.7H65.65z" fill="none" stroke="#404040" stroke-width="1.15"/>
<path d="M59.05 253h13.2M59.05 219.4h13.2M59.05 185.8h13.2M59.05 152.2h13.2M59.05 118.6h13.2M59.05 85h13.2M59.05 51.4h13.2M59.05 17.8h13.2M94.4 259.9v13M128 259.9v13M161.6 259.9v13M195.2 259.9v13M228.8 259.9v13M262.4 259.9v13M296 259.9v13M329.6 259.9v13" stroke="#303030" stroke-width="1.1"/>
<text x="58.65" y="256.2" text-anchor="end" class="tl" textLength="14.7" lengthAdjust="spacingAndGlyphs">-20</text>
<text x="58.65" y="222.6" text-anchor="end" class="tl" textLength="5.75" lengthAdjust="spacingAndGlyphs">0</text>
<text x="58.65" y="189" text-anchor="end" class="tl" textLength="11.5" lengthAdjust="spacingAndGlyphs">20</text>
<text x="58.65" y="155.4" text-anchor="end" class="tl" textLength="11.5" lengthAdjust="spacingAndGlyphs">40</text>
<text x="58.65" y="121.8" text-anchor="end" class="tl" textLength="11.5" lengthAdjust="spacingAndGlyphs">60</text>
<text x="58.65" y="88.2" text-anchor="end" class="tl" textLength="11.5" lengthAdjust="spacingAndGlyphs">80</text>
<text x="58.65" y="54.6" text-anchor="end" class="tl" textLength="17.25" lengthAdjust="spacingAndGlyphs">100</text>
<text x="58.65" y="21" text-anchor="end" class="tl" textLength="17.25" lengthAdjust="spacingAndGlyphs">120</text>
<text x="94.4" y="281.4" text-anchor="middle" class="tl" textLength="5.75" lengthAdjust="spacingAndGlyphs">0</text>
<text x="128" y="281.4" text-anchor="middle" class="tl" textLength="11.5" lengthAdjust="spacingAndGlyphs">20</text>
<text x="161.6" y="281.4" text-anchor="middle" class="tl" textLength="11.5" lengthAdjust="spacingAndGlyphs">40</text>
<text x="195.2" y="281.4" text-anchor="middle" class="tl" textLength="11.5" lengthAdjust="spacingAndGlyphs">60</text>
<text x="228.8" y="281.4" text-anchor="middle" class="tl" textLength="11.5" lengthAdjust="spacingAndGlyphs">80</text>
<text x="262.4" y="281.4" text-anchor="middle" class="tl" textLength="17.25" lengthAdjust="spacingAndGlyphs">100</text>
<text x="296" y="281.4" text-anchor="middle" class="tl" textLength="17.25" lengthAdjust="spacingAndGlyphs">120</text>
<text x="329.6" y="281.4" text-anchor="middle" class="tl" textLength="17.25" lengthAdjust="spacingAndGlyphs">140</text>
<text x="1.2" y="138.6" class="al" textLength="43.8" lengthAdjust="spacingAndGlyphs">Northing</text>
<text x="198.8" y="295" text-anchor="middle" class="al" textLength="60.7" lengthAdjust="spacingAndGlyphs">Easting(km)</text>
<text x="1.5" y="20.5" class="pl" textLength="19.9" lengthAdjust="spacingAndGlyphs">(e)</text>
<clipPath id="pc2"><polygon points="67.8,217.7 290.75,2.86 332.4,55.2 290.4,140.1 109.4,265.4"/></clipPath>
<g clip-path="url(#pc2)"><polygon points="67.8,217.7 290.75,2.86 332.4,55.2 290.4,140.1 109.4,265.4" fill="#08afcc"/>
<g filter="url(#b3)">
<path fill="#08b3c4" d="M118.5 256.5l-1 .3-8-2.3-2-3.3-8.5-5.1-3.5-3-2.8-3.1-2.5-4.5-1.8-7 .9-7.5 1-2 1.2-.9 2.5-.5 .5 .9 8.5-3.5 6-3 6.5-4.8 6.5-3.4 4.1-1.3 .8-8.5 3-7.5 6.6-7.3 7.5-5.3 7.5-2.8 14.5-.1 4.5-4.3 5.8-2.2 17.2-11.5 6-.1 5.9-2.9 6.1-3.8 6.7-2.7 6.3-6.4 2.5-5.2 2.3-6.9 2.9-3.5 4.8-3.6 6.5-1.3 5.5 .6 2.5 2.5 1.1-.2 3.9 1.4 .5-.7 0-1.7-1-2.5 1.1-2-.8-3.5 2.1-6 .2-7 .8-4.5 2-7 3.4-7 .8-3.5 1.8-4 1.4-5 2.2-2.6 14.1-7.9 6.9-8.5 .7-4 1-1.5 1.8-.5 2.5 1.3 3.6 4.7 2.2 5.5 .6 7-1.6 10.5-2.3 7-2.3 12-2.4 7-4.8 6.3-3.5 6.7-2.8 9-6.7 7.3-5.1 7.7-8 3.5-2.6 6-.4 2 .7 3.5 2.4 6.5-10.5 7.9-5 3-1.5 1.5-11.5 7.5-1.5 1.5-5 3-1.5 1.5-5 3-1.5 1.5-5 3-8 6-5 3-8 6-5 3-1.5 1.5-5 3-8 6-5 3-1.5 1.5-18 12-1.5 1.5-5 3-1.5 1.5-5 3-1.5 1.5-5 2.9-1.5 1.5-5 2.9-1.5 1.5z"/>
<path fill="#08b6be" d="M130 248.5l-6-.4-7-1.4-7-2.4-6-2.8-2-3.8-4.9-4.7-2.6-3.5-1.7-3.5-2.1-3-.4-2 .6-1.5 1.1-.8 2-.4 .5 .3 8.7-3.6 5.9-3 6.4-4.7 6.5-3.4 4.1-1.4 .8-8.5 3.1-7.5 6.5-7.3 7-4.9 8-3.2 14.5 0 4.5-4.4 5.9-2.2 17.1-11.4 6-.2 6-2.9 6-3.8 6.8-2.7 6.2-6.4 2.5-5.1 2.4-7 2.9-3.5 4.7-3.6 6.5-1.3 5.5 .7 2.5 2.5 5 2.6 1 0 .2-4.4-1-2.5 .9-1.5 .1-3 2.6-5.5 1.4-8.5 3.6-10 3.8-6 1.2-4.5 2-4 1.3-4 2.2-3 2.9-2 2.1-3 4.7-2.8 2.6-2.2 5.1-8.5 1.3-4.2 2-.5 2.5 1.6 2.5 3.6 2.2 5.5 .7 7-1.6 10.5-2.3 7-2.3 12-2.4 7-4.8 6.2-3.5 6.8-2.9 9-6.6 7.3-5.1 7.7-8 3.5-3.7 6-.7 3.5 1 11-7 5.4-5 3-1.5 1.5-5 3-1.5 1.4-5 3-1.5 1.5-5 3-1.5 1.5-5 3-1.5 1.5-5 3-8 6-5 2.9-8 6-11.5 7.4-8 6.1-5 3.1-1.5 1.5-11.5 7.5-1.5 1.5-5 3-1.5 1.5-5 3-1.5 1.5z"/>
<path fill="#08b9b7" d="M137.5 243.5l-8 .4-8.5-1.1-7-2-8.5-3.9-3.5-.9-2-4-4.5-6.5-3.8-2.5-.6-1.5 .3-1.5 1.1-1 2-.4 8.8-3.6 5.9-3 6.3-4.6 7-3.7 3.7-1.2 .8-8.5 3-7.5 6.5-7.2 7.5-5.3 7.5-2.9 14.5 0 4.5-4.3 6-2.3 17-11.4 6-.1 6-3 6-3.8 6.9-2.7 5.6-5.5 3-5.9 2.1-6.6 .7-1 2.5-3 4.7-3.5 6.5-1.4 5.5 .8 2.5 2.5 6.5 4.5 .3-6.4-1.1-3 4.5-8.5 1.7-8 3.1-8 2.2-4.5 3-4 1.4-4.5 2.3-4.5 1.2-3.5 2.4-3 3-2.1 2.6-3.9 5.3-5 5.3-12 .8-.6 1 0 2 1.2 2.4 3.4 2.2 5.5 .7 7.5-1.5 10-2.4 7-2.3 12-1.8 5.5-.6 1.5-4.7 6.2-3.5 6.6-2.9 9.2-6.6 7.2-5.1 7.8-8.1 3.5-1.3 2.4-3.7 4.1-.6 2-.7 8-1 4.2 0 .8 .9 1-.2 .5-8.7 5.8-1.5 1.5-5 3-1.5 1.5-5 2.9-1.5 1.5-5 3-1.5 1.5-5 3-1.5 1.5-5 3-1.5 1.5-5 2.9-1.5 1.5-5 3-1.5 1.5-5 3-1.5 1.5-1.5 .9-3 .2-9.5 5.6-1.2 1.2-1.4 3-2.9 2.6-18 12.1-1.5 1.5-5 3-1.5 1.5-5 2.9-1.5 1.5-5 3z"/>
<path fill="#08bcb0" d="M136 239l-6.5 .2-6-.7-7.5-2-8.5-3.7-6 .1-1.5-1.4-1.5-3-2.5-3.5-3.8-2.5-.4-2 1.5-1.5 10.1-4 5.6-2.8 6-4.5 6.5-3.5 4.8-1.7 .8-9 2.9-7 6.5-7.2 7.5-5.2 7.5-2.9 14.5 0 4.5-4.4 6-2.3 17-11.4 6-.1 6-2.9 6-3.8 7-2.8 6-6.3 2.5-5.1 2.1-6.6 .7-1 2.6-3 4.6-3.5 6.5-1.3 5.5 .7 9.5 9.7 .5 .1 0-9.2-1.4-3.5 4.4-5 1.1-2 2.2-8.5 3.8-9 2.3-4 3-3.5 1.5-4.5 3.7-8 2.4-3 2.4-2 2.2-4 4.9-6 1.9-6 2.4-5 1.2-.6 2 .8 2.3 3.3 2.3 5.5 .6 7.5-1.5 10-2.3 7-2.2 11.5-2 6-.5 1.5-4.7 6.1-3.5 6.7-3 9.2-6.5 7.2-5.2 7.8-7.8 3.3-2 2.8-4.4 3.9-2.1 9.5-.9 2.5 2.7 4-.1 .5-45.7 31.5-7.3 2-11.2 6.9-1.5 0-3-1.2-1 0-5 3.2-4.5 2.2-1.3 1.4-4.7 10-4.5 6-3.5 2-1.5 1.5-5 3.1-1.5 1.4-5 3-4.5 3.5-5.5 1.6z"/>
<path fill="#07c0a8" d="M134 235.5l-6.5-.1-6-1.1-5.5-1.7-7-3.1-7 1.2-1.5-.2-1.5-1.3-3-4.8-3.1-1.9-.6-2 1.5-1.5 9.7-4 5.5-2.8 6-4.5 4.5-2.4 6.8-2.8 .7-8.5 3.1-7.5 6.4-7.1 7.5-5.3 7.5-2.9 14.5 0 4.5-4.3 6-2.3 17-11.4 6-.2 6-2.9 6-3.8 7-2.8 6-6.2 2.6-5.3 2-6.5 3.3-4 4.6-3.5 6.5-1.3 5.5 .8 5.6 6 3.4 5.1 1.5 .7 .3-1.3-.5-5.5 .4-3-1.3-6 6.6-7 1.9-6.5 4.3-9.5 5.1-7 1.8-5.5 3.4-7.5 4.8-5.5 1.8-3.5 4.5-6.5 2.3-8 2-3 2.1 .4 2.2 3.1 2.3 5.5 .7 7.5-1.5 10-2.3 7-2.2 11.5-2 6-.5 1.5-4.7 6-3.5 6.7-3 9.3-6.5 7.1-5.2 7.9-7.8 3.3-2.5 3-3.5 1.9-1.2 1.3-3.5 10 .2 1 3.6 5.5 0 .5-26.1 18-5 1.9-5.5 3.1-9 4-4.5 1.4-4.5 .7-11.5 7-1.5 .4-4-1.1-5.5 3.6-5 2.3-1 1-2.7 7.2-3.6 6.5-4 5-4.7 4.5-6 4.2-6.5 3-7 2z"/>
<path fill="#07c49f" d="M135.5 233l-6.5 .1-6.5-1-6-1.8-6.5-3-9.5 1.7-2-1.3-2.5-3.9-2.8-1.8-.4-1.5 1.3-1.5 14.9-6.7 6-4.5 3.5-1.9 4-2.1 3.9-1.3 .6-8.5 3.1-7.5 6.4-7.1 7.5-5.3 7.5-2.9 14.5 .1 4.5-4.4 6-2.3 17-11.4 6-.1 6-3 6-3.8 7-2.8 6-6.2 2.6-5.3 2.1-6.5 3.3-4 4.5-3.4 6.5-1.4 5.5 .8 4.7 5.5 3.8 6.7 1 .7 1.5-.3-.3-7.1 .7-3-.6-4 .3-2 6.4-9 1.6-4.5 4.1-8.5 5.2-7.5 2.1-6 3.1-7 5-6 5.8-10.5 2.1-8 2-2.5 1.4 0 2.2 3 2.4 5.7 .6 7.3-1.5 10-2.3 7-2.2 11.5-2.3 7-4.8 6.5-3.5 6.6-3 9.4-6.5 7.1-5.3 7.9-7.7 3.2-3 3.2-3.5 1.2-1.5 1.4-3.8 9 4.2 7.5-1.4 2-1.5 1.5-5 3-1.5 1.5-5 3-1.5 1.4-9 2.3-7 2.8-5.5 3.3-9 3.9-8.5 2-12.8 7.8-1.2 .2-4-1.1-5 3.3-5.5 2.5-1 1.6-2.5 7.5-2.5 5-3.5 5.1-4.5 4.7-5.5 4.2-6 3.2-6.5 2.2z"/>
<path fill="#06c896" d="M136.5 230.5l-6.5 .3-6-.8-5.5-1.5-8-3.4-10.5 2.6-2-1.2-1.5-2.6-3-2.4-.3-1 1.1-1.5 14.2-6.4 6.5-4.8 7-3.7 4.4-1.6 .7-8.5 3-7.5 6.4-7 7.5-5.3 7.5-2.9 14.5 0 4.5-4.3 6-2.4 17-11.4 6.3-.2 5.7-2.8 6-3.8 7-2.8 6-6.2 2.6-5.4 2.1-6.5 3.3-4 4.5-3.4 6.5-1.3 5.5 .8 2.8 2.9 3.4 6 1.8 4.3 1 .7 2-.5 .6-1-.5-6.5 1-3-.6-3.5 .4-2 4.7-6.5 .9-3 1.5-2 5.8-12 4.7-6.5 5.3-13 5-6.5 5.5-11 1.7-7 1.4-2.5 1.2-.5 2.4 3 2.5 6 .6 7-1.5 10-2.3 7-2.2 11.5-2.3 7-4.9 6.5-3.4 6.6-3.1 9.4-6.4 7-5.3 8-7.7 3.2-3 2.9-4 .7-1.5 1.1-1.9 5.1-2.1 3.6 0 .9 3.5 5.5 0 .7-2 2.6-5 4.6-6 3.4-4 1.5-6.5 1.6-22.5 10.3-8.5 1.9-13 7.9-1.5 .2-3-1.3-1.5 0-5 3.3-5.4 2.3-.8 1-1.8 7-2.5 6-3.5 5.5-3.9 4.5-5.1 4.2-5.5 3.2-6 2.3z"/>
<path fill="#05cc8d" d="M137.5 228l-6.5 .5-6-.7-5.5-1.4-7.5-3-12.5 3.4-2-1.3-1-2-2.4-2-.5-1 .9-1.5 14-6.4 6.5-4.7 7-3.8 4.5-1.6 .6-8.5 3-7.5 6.9-7.4 7-4.9 7.5-2.9 14.5 .1 4.5-4.4 6-2.3 17-11.4 6.3-.3 5.7-2.8 6-3.8 7-2.8 6-6.1 2.6-5.5 2.1-6.5 3.3-4 4.5-3.4 6.5-1.3 5.5 .8 2.7 2.9 3.2 6.5 1.6 5.1 1.5 .5 2.2-1.1 .6-1.5-.4-5.5 1.2-3.5-.4-3.5 .3-1.5 5-7 1.5-5 1.5-2 5.1-10 4.9-6.5 5.2-13 4.8-6.5 5.5-11.5 2.1-7 1.1-2 .8-.1 2 2.3 2.3 5.3 .7 7.5-1.5 10-2.3 7-2.2 11.5-2.3 7-4.8 6.5-3.4 6.5-3.1 9.5-6.4 7-5.4 8-7.6 3.2-3 2.6-1.5 .4-3.5-.3-1 .8-2.5 7.3-1.6 2 .5 1.5 2.6 4 0 .8-2.1 2.7-4.9 4.4-6 3.3-4.5 1.5-5 .9-9 3.5-6 3.1-9 3.8-8 1.6-13.5 8.1-1.5 .1-2.5-.9-1.5-.1-5.5 3.6-6 2.2-1 1.4-1.3 6.5-2.1 5.5-2.8 5-3.8 4.7-4.8 4.3-5.2 3.3-5.5 2.3z"/>
</g>
<g filter="url(#b2)">
<path fill="#09a7d2" d="M271 151.1l-4.5-2.9-1.5-1.5-1-1.7-.3-2.5 1.3-5.5 8-3.5 5-7.6 6.8-7.4 2.7-8.9 3.5-6.7 4.9-6.4 2.4-7 2.2-11.7 2.3-6.8 1.6-10.5-.7-8-2-5-4.2-5.8-2.5-1.6-3.5-.8-1.7-1.3-1.7-3-.7-3.5 .9-4.5 1.2-1.9 1.5-1.4 2.5-1.5 2.5-.9 5.5-.6 6.7 7.8 0 .5 2.5 2.5 0 .5 2 2 0 .5 4.6 5 0 .5 2 2 0 .5 2.5 2.5 0 .5 3.9 4.5 0 .5 4.5 5-40.8 82.5-2.4 2.4-.5 0-4 3-.5 0-1.5 1.5-.5 0-4 2.9-.5 0-1.5 1.5-.5 0zM95 218.1l-.5 .2-.9-1.3-1.1-3-.5 2-4.5 2.4-1.5-.1-1.8-.8-1.4-1-1-1.5-.3-1.5 .3-1.5 .8-1.5 1.4-1.5 3.5-1.6 1.5 0 1 .6-1.4-3 0-1-.9-1.5 .1-1.5 19.2-19.3 .5 0 27.5-27.5 .5 0 21-20.7 18.5-13.1 5.5-2.6 7-1.9 1-.7 2-3.2 .7-4 3-5.5 6.3-8.1 5-4.9 7-5.5 4.5-2.8 5.5-2.5 6.5-1.7 2 .2 5 1.5 7-.6 5 .3 1.5 .7 5 4.6 .5 .8 0 1.5-1.4 10.5 .7 5.5-.2 5 .4 2.5 2.1 5.5-4.3 4.5-.8 .1-2.5-2.5-3.5-.4-2-.2-6.5 1.3-4.8 3.7-2.9 3.5-2.3 6.8-3 6-5.9 5.7-7.1 2.8-5.7 3.7-5.8 2.8-6 .1-17.3 11.6-5.7 2.1-4.7 4.4-14.3 0-7.5 2.8-7.5 5.3-6.7 7.4-3 7.5-.8 8.5-4 1.2-6.5 3.4-6.7 4.9-6 3z"/>
<path fill="#0aa0d7" d="M275 148l-1 .3-5-1.5-1-1.8-1.5-.2-1-.9-.7-1.9 .3-5 7.9-3.4 5-7.6 6.8-7.5 2.7-8.8 3.5-6.7 4.9-6.5 .4-1 2-6 2.2-11.6 2.3-6.9 1.7-11-.6-7-2.1-5.5-4.3-6.6-2.5-2.9-.5-1-.1-1.5 .9-2 1.7-1.3 2.5-.6 3 .2 3.5 1.5 3.5 3.1 4.8 2.1 2.2 3 4.8 4.5 .9 2 .8 3.5 2.2 5 .2 4.5-.5 4.5-16.1 32.5 0 1-19.6 39-2.2 2.2-.5 0-2.5 2-2 1-1.5 1.5-.5 0-1 .9-.5 0zM95 218l-.7 0-1.1-2 0-1-1-1.5 0-1-.9-1.5 0-1-1.4-2.5 .1-1-.5-.8 6.5-5.6 2.5-2.7 3.5-5.1 3.4-2.8 .2-1.5-1.2-3 .1-.5 2.5-2.6 .5 0 27.5-27.5 .5 0 4-3.9 5-1.8 3.5-.8 3.5-.3 5.5 .4 1.5-.3 6.5-3 17.5-12.6 4.5-1.8 6-1.4 3.5-3.9 5-3.2 .9-4.3 2-5 2.2-3.5 4.4-5.5 4.5-4.3 5-3.9 3.5-2.1 4.5-1.9 4-.8 6 1.7 7.5-.1 1.5 .7 1.8 1.7 .8 1.5 .7 3.5 .2 5.5 3.7 6.5 1.5 3.5-.9 1.5-3.1 3-.7 0-2.5-2.4-3-.4-2.5-.2-6.5 1.3-4.9 3.7-2.9 3.5-2.2 6.7-3 6-5.9 5.8-7.1 2.8-5.8 3.7-5.1 2.5-6.6 .4-17.4 11.6-6.1 2.4-4.3 4.1-14.2 0-7.5 2.8-7.5 5.2-6.7 7.5-3.1 7.5-.7 8.4-4 1.3-7 3.6-6.3 4.7-6.1 3z"/>
<path fill="#0b99dd" d="M277.5 144.6l-3.5 .1-6.5-1.1-2.3-5.1 .1-1.5 7.7-3.3 5-7.6 6.9-7.6 2.6-8.7 3.5-6.7 4.6-6.1 .7-1.5 2.1-6 2.1-11.4 2.4-7.1 1.7-10.5-.8-8-1.9-5-2.3-3.5-1.2-4 0-1.5 .6-.7 1-.4 1.5 .1 1.5 .7 1.5 1.4 1-.1 4.1 2 6.1 6 1 1.5 .8 3 1.9 4 .5 3-.2 3.5-1.8 11.5-2.3 7.5-1.1 5-5.9 11.5-.5 2-17.1 33.9-8 8.3-2.5 1.5zM94.5 218l-2.1-4.5 .1-1.5 9.1-8 4.9-6.3 4.5-3.7 .2-1.5-1.1-3-.1-1.5 4.3-9.5 2.8-4 8.9-8.8 10.5-6.6 10-3.6 4-.7 8.5 .4 1.5-.3 8-4 17.1-12.4 3.9-1.6 5.5-.9 5.5-5.2 6-3.7 3.7-10.1 2.6-4.5 5.7-6.5 8.5-6.4 3.5-1.5 3.5-.7 6 1.8 5 0 2.3 1.3 1.6 4 5.1 6.9 1.7 4.1-3.6 4-.4 0-2.7-2.5-2.5-.3-3-.3-6.5 1.3-4.9 3.8-2.9 3.5-2.2 6.6-3 6.1-6 5.8-7 2.7-5.9 3.8-5.1 2.5-6.5 .3-17.5 11.7-6 2.3-4.5 4.2-14-.1-7.5 2.8-7.5 5.3-6.8 7.5-3 7.5-.7 8.3-4 1.3-7 3.6-6.5 4.8-5.1 2.5z"/>
<path fill="#0c92e2" d="M277 141.6l-3 .4-7-.4-1.7-3.1 0-1 .2-.5 7.5-3.2 5.5-8.3 6.4-7 2.6-8.6 3.9-7.4 4.8-6.5 2.2-6.5 2.1-11.1 2.4-7.4 1.7-10.5-.6-7.5-2.2-6-2-3.5 .7-.9 1.5-.8 1 .2 3.5 1.6 5.8 5.4 3.2 7 .5 2 0 4-1.6 10.5-2.6 8.5-2.3 11.5-3 9-5.1 7.5-2.5 4.5-4.2 11-13.7 14.7-2 1.6zM94.5 217.5l-.5-.6 10.5-9.3 5-6.1 5.5-5 .3-1-1.2-3.5 .1-1.5 4.5-10 2.3-3.1 9-8.6 9-5.6 9-3.1 3.5-.5 9 .4 1.5-.2 3.5-2.3 5.5-2.5 17-12.3 2.5-1 5-.7 1.5-.7 6.5-5.7 5.8-3.6 2.7-4.9 2.8-7.6 2.2-3.5 5-5.7 5.5-4.3 3-1.7 4.5-1.2 5.5 1.7 4.5 .3 1.5 .9 7 7.1 1.4 4.4-2.9 3-3-2.5-5.5-.7-6.5 1.4-4.5 3.4-3.4 3.9-2.1 6.5-3 6.1-6.2 5.9-6.8 2.7-6 3.8-5.2 2.5-6.3 .2-17.7 11.8-5.8 2.2-4.5 4.2-14-.1-7.5 2.8-7.5 5.3-6.9 7.6-3 7.5-.6 8.2-4 1.4-7 3.5-6.8 4.9-5.2 2.5z"/>
<path fill="#0c8de4" d="M275.5 139.5l-9 .3-1.1-1.3 0-1 .4-.5 7.2-3.1 5.5-8.3 6.5-7.1 2.5-8.5 4-7.5 4.8-6.5 2-6 2.2-11.3 2.6-8.2 1.6-10-.5-7.5-2-5.5-1.6-3-.1-.6 .5-.1 3.5 1.6 5.1 4.6 3 6 .6 2 0 3.5-1.6 10.5-2.6 8.5-2.3 11.5-2.9 8.5-4.9 7-2.5 4.5-4.2 11-2 2.5-5.7 5.5-5.5 6.5-1.5 1.2zM105 213l-1 0 3-3 4.6-5.5 6.4-6.1 .4-.9-1-3.5 .3-2.5 4.1-9 2.2-3 8-7.7 8.5-5.2 8.5-3 2.5-.4 10 .5 2-.3 3.5-2.5 6-2.8 16.5-12 2.5-1 4.5-.5 1.5-.6 7.5-6.4 5.8-3.6 3.4-5 3.2-8.5 1.8-3 4.3-5.1 7.5-5.5 2.5-1 2-.2 5.5 1.7 3 .3 7.5 6.1 .5 1.2 .1 2-.1 1.7-.5 .3-3-2.3-5.5-.5-6.5 1.4-5 3.9-3.2 4-1.8 5.8-3 6.3-6.3 5.9-6.7 2.6-6.2 3.9-5.1 2.5-6.2 .1-17 11.4-6.5 2.6-4 3.9-14.5 .2-8.5 3.5-6.5 4.5-6.9 7.8-3 7.5-.6 8.1-4.5 1.6-6 3-6.9 4.8z"/>
<path fill="#0d88e6" d="M272.5 138.1l-6 .3-1-.3 0-.6 7.5-3.5 5.5-8.2 6.2-6.8 2.8-8.8 4-7.7 4.7-6 2-6 2.3-11.5 2.7-8.5 1.6-10-.5-7.5-1.8-5.5 .5-.5 5 4.5 2.6 5.5 .4 3-1.8 12-2.4 7.5-2.2 11.5-2 6-1.2 3-4.4 6-3 5.5-3.1 9-1.1 2-6.8 6.8-6 7.2-2 1.1zM114 207l-.6 0 7.5-7.5-.8-4 .4-3 4.1-9 2.4-2.9 7-6.6 8-4.9 8-2.7 2.5-.2 10.5 .5 1.5-.3 3.9-2.9 6.1-2.9 16.5-12 2-.7 4.5-.4 1.5-.7 8-6.6 6-3.8 4-5.5 3.4-8.9 1.4-2.5 4.2-4.9 6.5-4.9 2-.9 2-.2 8 2.2 5.4 5.2 .1 .5-6.5-.4-6.5 1.5-5 3.8-3.3 4.1-1.7 5.6-3 6.4-5.5 5.5-1 .5-6.5 2.5-5.5 3.5-6 3-6.5 .3-16.8 11.2-6.2 2.3-4.2 4.2-14.3 .1-8 3.1-7 4.9-6.7 7.4-3.2 7.5-.7 8.5-3.9 1.3z"/>
<path fill="#0d84e8" d="M272.5 136.5l-3.5 .4-.8-.4 5.1-2.5 5.2-8.1 6.7-7.4 2.8-9.1 3.5-6.6 4.8-6.3 2.5-7.5 2.2-11.7 2.3-6.8 1.6-10.5-.9-9.8 2.1 1.8 2.1 4 .7 2 .1 3-1.6 10.5-2.4 7.5-2.3 11.5-2.3 7-1 2-4.4 6-2.7 5-3.8 10.5-7 7.2-5.5 6.7-1.5 1.1zM175.5 164l-1.5 .4-.5-.4 2.5-1.4 16-11.7 2-.7 4-.3 2-.8 8-6.6 6.3-4 4.6-6 4.9-11.5 3.7-4.5 5.1-4 2.9-1.4 2.5 .1 6 1.9 2.7 2.4 0 .5-3.2 0-6.5 1.5-5 3.7-3.3 4.3-2.2 6.7-2.5 5.1-5.7 5.7-6.8 2.7-6.2 3.8-5.2 2.5-6.6 .2zM124 202.5l-2 .3-.4-.3 1.6-2-.7-4.5 .7-4 4-8 7.3-7.3 8-5.1 7.5-2.7 2.5-.3 12 .6 1.5-.6 2.5-1.9 .1 .3-3.1 3.3-14 0-7.5 2.9-7 4.9-7.6 8.4-2.9 7-.9 8.5z"/>
<path fill="#0e7feb" d="M274.5 134l-.5 .3 0-.9 4.5-7.3 6.9-7.6 2.6-8.9 3.5-6.6 4.9-6.5 2.4-7 2.2-11.7 2.4-6.8 1.5-10 .1-7.2 1 1.2 1.1 2.5 .2 4.5-1.6 9.5-2.4 7.5-2.3 11.5-2.2 6.5-1.1 2-4.1 5.5-2.7 5-3.8 10.5-6.7 7zM204.5 149.5l-1 .3-.3-.3 6.3-5.5 6-3.8 4.4-5.2 2.4-4.5 2.7-7.5 4.5-5.4 4.5-3.5 2.5-1 2.5 .3 4.5 1.8 .2 .3-.9 .5-6.3 1.6-4.9 3.9-2.8 3.5-2.3 7-2.5 5.1-5.9 5.9-7.1 2.7zM125.5 199.9l-.5-.5-.4-2.4 .4-3.6 3-6.5 2.5-3.1 .3 .2-.3 .5-1.4 1.5-2.9 7.5z"/>
<path fill="#0e79ec" d="M304 71.7l-.4-.2 .3-.5 1.5-9.5 .1-3.8 .2 3.8zM297 97.2l-.3-.2 .3-1.4 2.3-6.1 2.2-12.1 2-5.9 .3 .5-2 6.5-2.3 11.5zM286.5 117.5l-.3-.5 .3-1.5 1.5-5.1 4-7.6 4.5-5.7 .3 .4-.2 .5-4.2 5.5-3.2 6zM214.5 144l-1.3 0 3.8-2.6 4.8-5.9 2.3-4.5 2.5-7 3.4-4.3 6-4.5 2.5-.2 2.4 1-.7 .5-3.2 .7-5.5 4.3-2.9 3.5-2.1 6.6-2.9 5.9-5.6 5.3z"/>
</g>
<g filter="url(#bl)">
<path fill="#04d382" d="M134.5 226.5l-5 0-5-.7-4-1.1-7-2.7-12 3.7-2.5 .4-2-1.6-1-2-1.8-1.5-.2-1 1-1.2 8.5-3.6 5.5-2.8 6-4.5 3-1.6 4-2.1 4.5-1.7 .6-8.5 3.1-7.5 6.8-7.4 7-4.9 7.5-2.8 14.5 0 4.5-4.4 6-2.3 17-11.4 6.4-.3 5.6-2.8 6-3.8 7-2.8 6-6.1 2.6-5.5 2.1-6.5 3.3-3.9 4.5-3.5 6.5-1.3 5.5 .9 2.6 2.8 2.8 6.5 1.3 5.5 .8 1.7 1-.2 3-2.2 .5-1.3-.3-6 1.2-3-.2-3.5 .4-1.5 5.1-7 2.3-7 1.5-2 4.3-8 4.7-6 5.6-14 4.6-6.5 5.5-11.5 .8-3.2 2-4 .6-.8 .9 .3 1 1.1 2.2 5.1 .8 7.5-1.5 10-2.3 7-2.3 12-2.2 6.5-4.8 6.5-3.4 6.5-3.1 9.5-6.5 7-5.3 8-7.6 3.1-2 1.9-1.5 .8-2 0-2.5-1.4-1 .4-4.5 11.2 2.6 4 .2 1-2.8 3.5-4.5 3.9-5.5 3-8.5 2.5-4 .6-6.5 2.2-6 3.1-9.5 3.9-7 1.1-14 8.5-1.5 .3-3-.7-1 .2-5.5 3.5-6.5 2.2-1 1.2-1.6 7.5-2.1 5.5-2.9 5-3.9 4.6-5 4.2-5 2.9-6 2.2z"/>
<path fill="#03dd71" d="M262.5 138.5l-1.5 .4-1.3-.4-.9-1-.3-1.5 .4-1.5 2.4-3-.2-6 1.5-3 .1-3.5 .5-1.5 5.6-7.5 2-6.5 2.2-4.5 4.1-6.5 4.4-5.8 2.7-7.7 2.9-6.5 4.2-6 2.2-5 6-10.9 1-1.3 .5 0 2 3.7 .8 7.5-1.4 10-2.3 7-2.3 12-2.1 6.5-4.9 6.5-3.4 6.5-3.1 9.5-6.4 7-5.4 8-7.5 3zM100 225l-1.5 .1-1.5-1.3-2-3.3-.4-1 .2-.5 8.7-3.7 5-2.5 6.5-4.8 7-3.8 4.5-1.6 .6-8.6 2.6-6.5 .5-1 7.3-7.7 6.5-4.5 7.5-2.9 14.5 .1 4.5-4.4 6-2.3 17-11.4 6.5-.4 5.5-2.7 5.5-3.6 7.5-3.1 6-6 2.7-5.6 2.1-6.5 3.2-3.9 4.5-3.4 7-1.3 5 .9 2.1 2.2 2.7 7.5 .8 6 0 3-.8 3.5-3 7.5 .6 2 1.6 2.5-3.3 4-3.7 3.2-3.5 2.1-6 2.7-7 1-9 2.5-5.5 2.9-8 3.4-8 1.7-14.5 8.8-1.5 .4-4-.6-6 3.6-6.5 1.7-.9 1.1-1.1 2.9-1.1 5.6-1.3 4-3.4 6.5-2.8 3.5-3.4 3.2-3.5 2.5-4 2.2-7 2.2-7.5 .5-7-1.1-8-2.8-9.5 3.5z"/>
<path fill="#01e761" d="M262.5 138.3l-1.5 .1-.8-.4-.9-2 .5-1.5 1.8-2.5-.1-6 1.7-2.5 .2-3.5 .8-2 5.4-7 2.8-8 3.7-7 6.3-8.5 2.9-8 3-7 4-5.5 3.2-6 4.5-5.5 2-2.1 .5 0 .5 1.3 .7 5.3-1.2 9.5-2.5 8.5-2.2 11.5-2.3 6.8-4.7 6.2-3.4 6.5-3.2 9.5-6.4 7-4.9 7.5-.5 .5-7.4 3zM100 224.1l-1.5 .1-1-.6-1.5-1.6-1.2-2.5 .2-.4 8-3.4 6-3.1 6.2-4.6 6.8-3.7 4.5-1.7 .7-8.6 3.1-7.5 6.3-7 4.4-3.1 3-2.1 7.5-2.8 14.5 .1 4.5-4.4 6-2.4 17-11.4 6.5-.3 5.5-2.8 5.5-3.5 7.5-3.1 6-6 2.5-5.2 2.7-7.5 2.8-3.4 4.5-3.4 7-1.2 5 .9 2 2.1 2.3 8 .5 5-.1 3.5-.8 3.5-2.9 6.9 1.9 3.6-3.3 4-3.6 3-6.5 3.7-8 1.5-6.5 2.5-6 1-12 5.4-3 .8-4.5 .5-15 9.1-2 .5-3.5-.2-6.5 3.9-3 .8-3.5 .3-1 1.2-4.7 14-2.9 5.5-2.4 3-3 2.9-3.5 2.5-3.5 1.9-6.5 2.1-6.5 .5-6-.8-8-2.6-10.3 4.5z"/>
<path fill="#06ef50" d="M262 138.1l-1.5-.6-.4-2 1.7-3 0-6 1.9-2.5 .4-3.5 .8-2 5.6-7.1 2.3-6.9 1.4-3 4.2-7.5 4.8-6 3.1-8.5 3.2-7 8.5-10.7 4.5-3.4 .5 .2 .4 1.9-.9 8.2-2.6 9.3-2.3 12-2.3 6.5-4.6 6-3.6 7-2.7 8.5-6.6 7.5-5.3 7.8-7.5 3.1zM99 223.1l-1-.3-2-1.7-1-1.7 14-6.7 6.3-4.7 6.7-3.7 4.5-1.6 .7-8.7 3.1-7.5 6.7-7.3 7-4.8 7.5-2.8 5.5 .3 9-.2 4.5-4.5 6-2.3 17-11.4 6.5-.4 5.5-2.7 5.5-3.5 7.5-3.2 6-6 2.6-5.2 2.6-7.5 2.8-3.3 4.5-3.4 7-1.3 5 1 2 2.1 1.8 8.4 .3 4.5-.8 6.5-2.6 6.5 1.4 3 0 1-5.1 5.2-3 2.2-5.5 2.3-7 1.4-6.5 2.7-8.5 1.1-11 4.9-6.5 1-15.5 9.5-2 .6-3 .1-4.5 2.9-3 1.3-6.5 .6-1.9 5.7-2.5 5-1.8 5.5-2.4 4.5-4.9 5.5-3 2.3-3.5 2-6 1.9-6 .6-6-.7-7.5-2.4-2 .7-6.5 3.6z"/>
<path fill="#18f241" d="M263 137.5l-1.7 0-.7-1 .1-1 1.5-3-.1-5.5 2.1-2.5 .4-3 1-2.5 5.8-7.5 3.3-9 4.5-8 4.7-6 1.4-3 2-6 2.8-6 2.9-3.5 3-2 3.5-3.3 3-1.6 0 4.1-.5 3.7-2.2 7.1-2.3 12-2.3 6.5-4.5 6-3.7 7-2.6 8.5-6.7 7.5-5.2 7.8-7.5 3zM102 220l-4 .3-1.8-.8 12.8-6.7 6.5-4.8 3.5-2 3-1.6 4.5-1.7 .7-8.7 3.2-7.5 6.6-7.2 7-4.9 7.5-2.8 5.5 .4 9-.3 4.5-4.4 6-2.4 17.1-11.4 6.4-.3 5.5-2.8 6-3.8 7-2.8 6-6 2.6-5.3 2.6-7.5 2.8-3.3 4.5-3.4 7-1.2 4.9 .9 2.1 2.3-.3 1.2 1.5 7 .3 5-.9 6-2.2 5.5 .4 2 .8 1-.1 .8-3 3.5-3.5 2.8-5 2.6-3.5 1-4.5 .8-6.5 3-4 .8-5 .1-11 4.9-6.5 1-16 9.7-2 .7-3 .3-4.5 2.9-3 1.3-2.5 .4-4.5-.2-.5 .7-1.6 5.9-2.7 5-1.9 5.5-2.2 4-2.3 3-2.6 2.5-3.2 2.3-3 1.6-5.5 1.8-5.5 .5-5-.6-6.5-2.1-1.5-.1-4 1.2-2.8 2.4-2.2 1.1z"/>
<path fill="#2bf632" d="M263.5 137.1l-1.5 .2-.5-.3-.4-1 1.5-3.5-.3-4.5 .4-1 2-2 .6-3.5 1.1-2.5 5.6-7 3.3-9 4.5-8 4.7-6 3.7-9 3.1-5.5 4.2-3.7 6-2.9 .3 1.6-.3 2.4-1.8 5.6-2.1 12-2.1 6.3-4.6 6.2-3.9 7.5-2.7 8.5-6.7 7.5-5.1 7.7zM109.5 218.1l-2 .3-1.5-.2-1.7-.7-1-1 1.8-1.5 5.9-3.2 3.9-3.3 2.5-1.5 4.6-2.6 4.5-1.6 .8-8.8 3.1-7.5 6.4-7 3.7-2.6 4-2.6 7-2.6 5.5 .5 9-.4 4.5-4.5 6-2.3 17.2-11.5 6.3-.3 5.5-2.7 6-3.8 7-2.9 6-5.9 2.8-5.9 2.5-7 2.7-3.3 4.5-3.4 6.5-1.1 2.9 .3 2.3 .5 2.3 2.5-.7 1.5 1.4 7 0 4.5-.8 5.5-1.9 5.2 0 .8 1 2.9-2.6 3.1-3.4 2.9-5.5 2.9-8 1.7-6.5 3.1-4 .7-5 0-11 4.9-6.5 1-14.5 9.2-3 1.2-3.5 .7-6.5 3.8-3.5 .6-5-.6-.6 .9-1.6 6.5-3.1 5.5-1.6 4.5-1.8 3.5-4.3 5.3-3 2.3-3 1.8-5.5 1.8-5.5 .6-5-.6-7-2.2-6 1.3-2 2.6z"/>
<path fill="#54f826" d="M263 137.1l-1-.3-.3-.8 1.1-3-.1-5 2.4-2.5 .7-3.5 1.4-3 5.6-7 2.5-7.5 4.4-8 5.4-7 4.3-9 3.9-5 2.7-2.1 4.5-1.7 .4 .8-1.3 5-2.1 12-2 6.1-4.7 6.4-3.9 7.5-2.9 9-6.4 7-5.1 7.6zM135 214.6l-6 0-4-.9-5-1.9-4.5 .9-2.8-.7-.3-.5 1.6-2 3.5-2.5 4.5-2.5 4.5-1.6 .8-8.9 2.9-7 6.8-7.6 7.1-4.9 6.9-2.6 3.3 .1 2.7 .5 9-.6 4.5-4.5 6-2.3 17.4-11.6 6.1-.2 5.5-2.7 6-3.9 7-2.8 6-5.9 2.9-6 2.4-7 2.7-3.2 4.5-3.4 7-1.2 4.5 .8 1.5 1.5 .7 1-.8 2 1.1 6.4 0 2.6-.6 6-1.9 5.7 0 .8 1.1 2.5-.1 .9-4.5 4.8-3 2.1-3 1.5-3.5 1.1-5.5 1-6 2.9-4 .8-5.5-.1-10.5 4.8-7 1.1-14.5 9.2-3 1.3-3.5 .8-6.5 3.7-3.5 .5-5.5-1.9-.5 1-.7 5.5-1 3-3.2 5.5-2.3 6-2.2 3.5-3.1 3.3-4 2.9-4.5 2zM108 217l-2-.4-.7-.6 0-.5 2-1.5 4.2-1.9 .4 .4-1 3-1.4 1.1z"/>
<path fill="#80f91a" d="M264 136.5l-1 .2-.8-.7 .9-3-.1-4.5 2.5-2.5 .7-3.5 1.8-3.5 5.3-6.5 2.7-7.9 4-7.2 1.9-2.9 3.9-4.5 6.2-9.6 4-3.6 3.5-1.5-.5 5.4-1.5 8.6-2 6.1-4.7 6.6-4 7.5-2.8 8.9-6.5 7.1-5 7.6zM169 181.6l-3 .3-2.7-1.4-2.7-5-.9-2.5 .4-.5 5.9-.6 4.5-4.4 6-2.3 17.5-11.7 6-.2 5.5-2.7 6-3.8 7-2.9 6-5.9 2.9-6 2.5-7 2.6-3.2 4.5-3.4 6.5-1.1 4.6 .7 .8 .5 1.6 2.5-1.1 2 .9 6.5-.3 5-.8 4-1.2 3.5 0 1 1.4 3.5-2.3 3-2.6 2.4-3 2-3 1.4-3.5 1.1-5 .8-6 2.9-4 .8-6-.1-10.5 4.8-6.5 1-15 9.5-3 1.2-3.5 .8zM133 214l-3.5-.1-3.5-.6-7-2.8-3.5 .1-.8-.6 .1-.5 .9-1 3.7-2.5 2.7-1.5 4.4-1.6 .3-.4 .5-8.5 2.9-7 6.7-7.5 6.6-4.6 2-.9 6-2.1 3.6 .6 1.7 2 1.4 3 .7 3.5 0 4-1.3 5-3.1 5.4-2.2 6.1-3.5 5-4.3 3.7-5.5 2.7z"/>
<path fill="#a6fb11" d="M265 136.1l-1.5 .3-.6-.4 .5-2 .1-5.2 2.5-2.3 .7-3.5 1.8-3.5 5.3-6.5 2.7-7.8 4-7.1 2-3.1 4.9-5 6.1-7.7 2.5-1.9 2.5-1.2 0 3.4-1 6.2-2 6.4-.5 1.2-4.3 5.6-4 7.5-2.7 8.8-6.6 7.2-4.9 7.5zM167 180.5l-1.5-.6-1.5-2-2-4.4 .3-1 4.2-.7 4-4.3 6-2.3 17.5-11.6 6-.2 5.5-2.7 6-3.9 7-2.9 6.1-5.9 2.8-6 2.5-7 2.6-3.1 4.5-3.4 6.5-1.1 5.1 1.1 1.5 3-1.4 2 .7 5.5-.1 3-.8 5-1.3 4 1.9 4.5-.1 .7-2.2 2.8-2.8 2.6-3 1.9-3 1.4-3.5 1.1-5 .7-6 2.9-4 .7-5.5-.2-10.5 4.8-6.5 .9-15.5 9.8-3 1.1-3.8 .8-5.3 2.5zM136 213l-5 .4-5-.8-5-2-3.5-1.9-.5-.7 1-1 2.4-1.5 6.1-2.5 .3-.5 .6-8.5 2.8-7 6.7-7.5 7.6-5.1 7-2.4 2.6 .5 2.5 3.5 1.4 4.5 .1 5-1.3 4.5-2.8 4.9-2.4 6.6-3.1 4.5-2.7 2.5-2.9 2-3.4 1.6z"/>
<path fill="#c7fc0b" d="M265 136l-.9 0-.4-.5 .3-6 2.4-2 1-4 1.2-2.5 5.9-7.5 2.6-7.5 2.4-4.4 3-4.8 2.5-2.9 3.5-2.5 3-3.2 6-5 .3 .8-.3 3.8-2.4 8.2-4.5 6-3.9 7.5-2.7 8.7-6.7 7.3-5 7.5zM167.5 177l-1-.1-1-.8-1.4-3.1 .4-.5 2-.5 4.2-4.5 5.8-2.2 17-11.4 6.5-.5 5.5-2.6 6-3.9 7.5-3.3 5.6-5.6 2.9-6 2.1-6.5 2.9-3.6 4.5-3.4 7-1.1 2.8 .6 1.5 1 1.4 2.5-1.7 2.5 .5 6.5-.7 5-1.3 4.5 1.7 3.5 .6 2-2.8 3.5-3 2.6-5.4 2.9-3.6 1-5 .7-5.7 2.8-3.8 .7-5.5-.3-10.5 4.8-7 1.1-14.4 9.2-3.5 1.5-2.6 .4-5.5-.3zM135.5 212.5l-5 .3-4.5-.8-4.8-2-2.7-1.7-.6-.8 1-1 3.4-2 4.2-1.5 .4-.5 .5-8.5 2.9-7 6.7-7.5 7.5-5.1 5.5-1.9 1.5-.3 1.6 .3 1.8 2 1.5 3 .8 3 .3 3.5-1 4.8-3 5.5-1.9 5.7-2.7 4.5-3.9 3.9-4.5 2.6z"/>
<path fill="#e8fe04" d="M264.5 136l-.6-1.5 .6-3.8 2.8-2.2 .9-4 1.3-2.7 6.1-7.8 1.9-5.9 2-4.1 4.5-6.5 2.5-2.7 10-6.8 .4 1-1.9 7-4.8 6.5-3.4 6.5-2.8 9.1-6.8 7.4-5 7.5zM177 175.6l-1.5-.2-8-2.5-.5-.3 0-.6 3.9-4.5 5.6-2.1 17-11.4 6-.3 6-2.9 6-3.9 7.5-3.2 5.7-5.7 2.8-6 2.1-6.5 2.9-3.6 4.5-3.3 6.8-1.1 2.2 .5 1.4 1 1.8 3-2.2 3 .5 6-1.6 7 .1 1 2.5 5.7-2.4 3.3-2.6 2.4-3 2.1-3 1.3-3.5 1-5 .7-6 2.8-3.5 .6-5.5-.2-11 5-6.5 .8-15.2 9.5zM134.5 212l-4.5 .1-4.5-.9-4.7-2.2-1.8-1.2-.3-.8 3.7-2.5 4.2-1.5 .8-9 2.9-7 6.7-7.4 7.5-5.1 6-2 1.4 0 2 2 1.7 3 .9 3.3 .2 3.2-.9 4.5-2.8 5.1-2 6.2-2.9 4.7-3.7 3.5-4.4 2.5z"/>
<path fill="#fffb03" d="M265.5 135.5l-1.1 0 .6-3 3.1-2.5 1.4-4.5 1.5-3 5.9-7.5 1.7-5.5 2.3-4.5 4.6-6.4 2.5-2.5 1.5-1.1 5.6-2.5 .3 .5-.9 3.5-4.2 5.5-3.6 7-2.8 9-6.8 7.5-5.1 7.5zM178 174l-2.5 0-6.5-2.9-.3-.6 1.8-2.5 6.5-2.8 16.6-11.2 6.4-.4 5.5-2.7 6-3.9 7-2.9 6.2-6.1 2.9-6 2-6.5 2.9-3.5 5-3.6 6-.7 1.5 .3 1.4 1 2.2 3.5-2.6 3.5 .3 5.5-1.3 5.5 2.6 5.5 .4 1.6-2.5 3.4-2.5 2.4-5.5 3.2-3.5 1-5.5 .7-5.5 2.7-3.5 .6-5.5-.2-11.3 5.1-6.7 .7-14.5 8.8zM135.5 211.1l-4.5 .3-4-.6-4.5-1.7-3-2.1 .7-1 2.4-1.5 4.1-1.5 .8-9 2.8-7 6.7-7.4 7.7-5.1 4.6-1.5 2.1 0 2.1 2.4 1.3 2.6 .8 3 .2 3-.8 4-2.9 5.5-1.6 5.5-2.5 4.4-3.5 3.6-4.1 2.5z"/>
<path fill="#fff00d" d="M268 134l-1 .3-.4-.3 3.2-2.5 1.7-6 1.8-3 5.1-6.5 1.7-5.5 1.9-3.7 6-7.1 3.5-2.5 2-.7-.5 1.5-2.9 4-3.8 7.5-2.6 8.5-6.4 7-5.3 7.7zM176.5 171.6l-2.5-.1-3.5-1.8-.3-.7 .6-1 .9-.5 4.8-1.8 17.3-11.7 6.2-.2 6-3.1 5.6-3.7 7.4-3.2 5.7-5.8 2.9-6 2.1-6.5 2.8-3.5 4-3 1-.5 6.4-.5 2.4 2.5 1.7 3-3 3.5 .2 4.5-.7 4.5 3 6.5 0 .8-2.5 3.5-3 2.7-5.5 3-3.5 .9-5 .5-3.5 2-2.5 .9-3 .4-5-.3-12 5-7 .2-15.5 8.5zM136 210l-4.5 .5-4-.5-4.1-1.5-3-2 1.5-1.5 4.9-2 .7-9 2.9-7 2.1-2.5 4.8-5 6.6-4.5 4.1-1.5 2.5 0 2.5 3 1.4 3.5 .4 4-.8 4-2.8 5-1.9 6.5-2.6 4-2.2 2.3-2.5 1.8-3 1.5z"/>
<path fill="#ffe417" d="M273.5 129.7l-.4-.2 0-.5 .9-2.2 6.9-9.8 2-6.5 2-3 3.1-2.9-1.9 4.9-2.6 8.5-6.2 6.5zM174 168.6l-1.4-.1-.6-.5 5-2.2 17-11.7 6-.2 6-3 5.8-3.9 7.2-3.1 5.8-5.9 2.8-6 2.1-6.5 2.9-3.5 4.4-3.3 2.5-.4 3.5 .2 3.1 3.5 1.2 2-3.3 4-.4 5.5 3.4 8.6-3 4.2-3.7 3.2-5.7 2.5-7.1 .9-3.5 2-3 1-3 .2-5-.7-12 4.1-6.5-.5-16.5 8.4zM136 209l-4 .5-4-.4-4-1.4-2.6-1.7 1.7-1.5 3.8-1.5 .6-9 3.2-7.5 7.3-7.5 6-4 2.8-1 2.2-.2 2.5 2.3 1.8 3.9 .5 4-.8 3.5-2.5 4.5-1.8 6.5-2.4 4-2.3 2.4-2.5 1.9z"/>
<path fill="#ffd821" d="M201 156.1l-2.5 0-4.6-1.1 .6-.5 5.5-.2 6.5-3.5 5.5-3.8 7-3.1 5.8-5.9 2.9-6 2-6.5 2.9-3.5 4.1-3 1.3-.5 3.2 0 2.8 2.5 2.5 4-2.7 3 .1 1-.5 .5 0 4 3.1 7-2.5 4-3 3-5 2.8-3.5 .9-5 .4-4 2.3-2.5 .8-4 .1-6-1.6zM133 208.5l-3 0-3-.6-3-1.2-1.6-1.2 1.1-1 3.5-1.5 .6-9 2.8-7 7-7.5 6.8-4.5 2.8-.8 1.5 .3 2 2 1.2 2 .8 2.5 .2 2.5-.6 3.5-2.6 4.7-1.9 6.8-2.5 4-3.4 3-4.2 2.1z"/>
<path fill="#ffcc29" d="M220.5 153.6l-2.5 .1-2.5-.5-6.1-3.2-.1-.5 3-2.5 6.7-3 5.5-5.6 3.2-6.4 2.1-6.5 2.7-3.3 4.5-3.4 1.5-.3 2 .2 1.7 1.8 3.3 5.4-1.8 2.1 .1 1-.5 .5 0 4 2.2 5 .1 1-1 2-3.1 4-4 2.8-4.5 1.6-6 .4-4 2.5zM134 207.5l-3 .1-3-.4-3-1.1-1.6-1.1 3.8-2 .3-7.7 .5-2.3 2.5-6.1 6.5-7 7.5-4.9 2.5-.2 1.6 1.2 1.6 2 1.1 2.5 .4 2.5-.5 3.5-2.5 4.5-1.6 6.5-2.1 3.6-3 3.1-4 2.3z"/>
<path fill="#ffbd2d" d="M221.5 152l-3 .5-3-.7-2.9-1.8-1.1-1.3-.1-.7 1.2-1 6.4-2.8 5.9-6.2 2.9-6 2-6.5 2.7-3.3 4.5-3.3 2-.4 1.4 .5 4.1 7.8-.9 1.2 0 1-.4 .5 0 4 1.8 4-1.5 3.4-2.8 3.6-3.7 2.7-4.5 1.5-6 .2zM134.5 206.5l-5 .1-4.7-1.6-.1-.5 2.6-1.5 .2-7.1 .5-2.8 2.5-6.1 6.5-7 6.9-4.5 2.1-.1 1.6 1.1 1.7 2 .9 2 .4 2.5-.6 3.5-2.3 4-1.2 6-1.8 3.5-2.7 3-3.5 2.3z"/>
<path fill="#ffaf31" d="M220 151l-2.5 0-2-.6-2-1.5-.8-1.4 1.3-1 5-2.2 5.6-5.8 3.2-6.5 2-6.5 2.7-3.2 4.5-3.4 1.5-.2 1.3 .3 1.8 3 1.9 5.6 0 1.4-.4 .5 0 4 .5 .5 .4 2.3-1.7 4.2-2.8 3.4-3.5 2.3-4.5 1.4-6 .1-3 2.4zM134.5 205.6l-4.5 .1-4-1.2 0-.5 1.4-1 .1-6.4 .5-3.4 2.5-6.2 5-5.3 2.4-2.2 4.6-3 1-.5 1.5 0 2 1.4 1.3 1.6 .9 2 .3 2-.5 3.2-2.2 3.8-1.1 6-1.7 3.4-2.5 2.8-3.5 2.3z"/>
<path fill="#ffa034" d="M220 149.1l-3-.2-1.7-.9-.7-1 1.1-1 3.3-1.6 5.7-5.9 3.2-6.5 2-6.5 2.6-3.2 4.5-3.3 2.3 0 2 3.5 1.7 8.2-.1 4.8-1.9 4.7-2.5 2.9-3.5 2.2-4.5 1.1-6-.4-3 2.5zM135 204.5l-4 .4-3.7-.9 .6-10.5 2.6-6.3 3-3.4 3.9-3.8 2.2-1.5 2.6-1.5 1.8-.1 1.5 .8 1.5 1.4 1 1.9 .4 2-.6 3-2 3.5-.9 6-1.4 3-2.5 2.9-3 2.1z"/>
<path fill="#ff9237" d="M220 146l-1.5 .4-.9-.4 .2-.5 3.6-2.5 3.4-4.5 2.9-6 2.2-7 3.6-4 3.7-2.5 1.6 0 1.2 1.5 1.1 3 .8 9-.5 4-1.8 3.5-3 3-3.6 1.7-4.5 .4-6.5-1.5zM135 203.5l-3.5 .4-3.5-.7-.5-3.2 .5-6.5 2.5-6.3 3-3.3 3.5-3.3 2.5-1.6 2-.9 1.5 .1 2.6 1.8 1.1 3-.2 2-1.8 3.5-.2 4-.5 2.5-1.4 3-2 2.5-2.6 1.8z"/>
<path fill="#ff8636" d="M232.5 143.5l-2.5 .4-3-.3-3.5-1.6-.5-1 2.2-3 2.6-5.5 2.1-7 3-3.5 3.6-2.5 1.5-.5 .9 .5 .7 1 1.1 3.5-.3 11-1 3-1.8 2.5-2.6 2zM134.5 202.6l-3.5 .3-3-.9-.3-3 .3-5.5 2.7-6.5 4.3-4.5 2-1.5 4-.9 1.5 .2 1.5 1.1 .6 1.6-.2 1.5-1.1 2.5 .3 4.5-.7 3.5-1.4 2.8-1.9 2.2-2.6 1.7z"/>
<path fill="#ff7935" d="M230 142.5l-4-.7-1.5-.8-.5-1 1.4-2 2.5-5.5 2.1-7 3-3.5 3.8-2.5 1.2-.1 1.5 2.1 .8 3.5-1.6 11-1.3 2.5-1.9 2-2.5 1.4zM134.5 201.5l-4 .3-2-.5-.5-.6 0-7.1 2.8-6.6 4.2-4.3 1.5-.9 3 1.2 2-.1 .3 .6-.4 2 1.1 5.5-.7 4-1 2-1.8 2.1-2 1.4z"/>
<path fill="#ff6d35" d="M232 140.6l-2 .4-2.5-.3-2-.9-.3-.8 3.1-7.5 1.7-6 3-3.5 3.2-2 1.3-.3 1.5 2.2 .6 3.1-.3 2.5-1.4 3.5-.5 4-.8 2-1.1 1.5-1.5 1.2zM134 200.6l-3 .2-2.5-.7-.5-1.1-.1-5 3.1-7.3 3.5-3.4 1.5-.7 2.3 1.4 1.7 2 1.2 3 .2 3-.7 3-1.6 2.5-2.4 2z"/>
<path fill="#ff6034" d="M231.5 139.1l-3.5 .1-1.6-.7-.4-1 2.3-5.5 1.7-6.4 3-3.5 2.5-1.6 1.5-.2 .9 1.2 .7 2-.2 3.5-2 4-.4 3.2-.7 1.8-1.7 2zM134 199.5l-3 .2-2.5-.7-.5-1.1 0-3.9 3-7.2 3-2.8 1.5-.6 2.4 1.6 1.5 2 .9 2.5 .1 2.5-.6 2.5-1.3 2.1-2 1.8z"/>
<path fill="#ff5233" d="M229.5 137.5l-2-.5-.5-1 1.7-5 1.3-5.3 3-3.5 3-1.4 .8 .7 .8 2 .2 2-.5 2-2.7 4-1.2 4-1.7 1.5zM134 198.5l-3 .3-2.4-.8-.5-1.5-.1-2 2.9-7.5 2.1-2 1.5-.8 2 .9 1.8 1.9 .9 2 .3 2.5-.5 2.5-1.2 2-1.8 1.6z"/>
<path fill="#ff4433" d="M230.5 134.1l-1 .2-.9-.8 1.4-7.7 3-3.5 1.5-.9 1-.1 .9 1.2 .5 1.5-.3 3-1.6 2.4-3.4 2.6zM134 197.5l-2.5 .4-2.5-.7-.5-.4-.3-2.3 .8-3 2-4.5 2-1.7 1-.4 1.5 .6 1.6 1.5 1.1 2 .4 2-.3 2-.9 2-1.5 1.5z"/>
<path fill="#ff3732" d="M232.5 130.1l-2 .3-1-.4 0-2 .5-2 3-3.6 2-.6 1.1 2.2-.1 2.5-1.1 2zM134 196.6l-2 .4-2-.3-1.5-1.1-.1-1.1 .6-2.7 2-4.6 1.5-1.3 1-.2 1.5 .6 1.3 1.2 .9 1.5 .5 2-.3 2-.8 1.5z"/>
<path fill="#fd2b34" d="M231 129.5l-1.3-.5 .3-3 3-3.5 1.5-.2 1 2.2-.5 2.5-1.5 1.7zM132.5 196l-2.9-.5-.6-.4-.4-1.1 .9-3.3 1.5-3.2 1-.8 1-.2 1.5 .6 1.4 1.4 .7 1.5 .1 1.5-.3 1.5-1 1.5-1.4 1.1z"/>
<path fill="#f62439" d="M232 128.6l-2-.1 0-2.1 1.5-2.2 2-1.6 .7 .4 .4 1 0 2-.8 1.5zM132.5 195.1l-2-.2-1-.6-.5-.8 1-3.7 1-1.8 1-.7 1.2 .2 1.3 .8 .9 1.2 .4 1.5-.8 2.5-1 1z"/>
<path fill="#ef1c3f" d="M231 128l-.8-.5 .3-2 2-2.1 1 0 .5 1.6-.4 1.5-1.1 1.1zM132.5 194l-2-.2-1-1.3 1-3.2 .5-.7 1-.3 2 .9 .8 1.8-.7 2z"/>
<path fill="#e91544" d="M232 127l-1.5 .1-.1-1.1 1.1-1.5 1-.7 .5 .2 .2 1.5zM133 192.5l-1.5 .4-1-.6-.2-1.3 .7-1.3 1-.3 1.2 .6 .4 1.5z"/>
<path fill="#e0104a" d="M231.5 126.3l-.5 0 0-.8 1-1 .3 1z"/>
</g>
</g>
<rect x="252.5" y="196" width="10.8" height="59.9" fill="url(#gud)"/>
<path d="M263 196h5.8M263 226h5.8M263 255.9h5.8" stroke="#262626" stroke-width="1.1"/>
<text x="272.8" y="198.8" class="cb">5.</text>
<text x="272.8" y="228.8" class="cb">2.</text>
<text x="272.8" y="258.7" class="cb">-1.</text>
<text transform="translate(305.7,224.95) rotate(-90)" text-anchor="middle" class="cbl" textLength="32.3" lengthAdjust="spacingAndGlyphs">UD(m)</text>
</g>
<g transform="translate(0.8,594.9)">
<path d="M406.5 4.38H677.4V270.3H406.5z" fill="none" stroke="#404040" stroke-width="1.15"/>
<path d="M399.9 257h13.2M399.9 222.9h13.2M399.9 188.8h13.2M399.9 154.7h13.2M399.9 120.6h13.2M399.9 86.5h13.2M399.9 52.4h13.2M399.9 18.3h13.2M435.4 263.5v13M469.5 263.5v13M503.6 263.5v13M537.7 263.5v13M571.8 263.5v13M605.9 263.5v13M640 263.5v13M674.1 263.5v13" stroke="#303030" stroke-width="1.1"/>
<text x="399.5" y="259.9" text-anchor="end" class="tr" textLength="14.7" lengthAdjust="spacingAndGlyphs">-20</text>
<text x="399.5" y="225.8" text-anchor="end" class="tr" textLength="5.75" lengthAdjust="spacingAndGlyphs">0</text>
<text x="399.5" y="191.7" text-anchor="end" class="tr" textLength="11.5" lengthAdjust="spacingAndGlyphs">20</text>
<text x="399.5" y="157.6" text-anchor="end" class="tr" textLength="11.5" lengthAdjust="spacingAndGlyphs">40</text>
<text x="399.5" y="123.5" text-anchor="end" class="tr" textLength="11.5" lengthAdjust="spacingAndGlyphs">60</text>
<text x="399.5" y="89.4" text-anchor="end" class="tr" textLength="11.5" lengthAdjust="spacingAndGlyphs">80</text>
<text x="399.5" y="55.3" text-anchor="end" class="tr" textLength="17.25" lengthAdjust="spacingAndGlyphs">100</text>
<text x="399.5" y="21.2" text-anchor="end" class="tr" textLength="17.25" lengthAdjust="spacingAndGlyphs">120</text>
<text x="435.4" y="285.3" text-anchor="middle" class="tr" textLength="5.75" lengthAdjust="spacingAndGlyphs">0</text>
<text x="469.5" y="285.3" text-anchor="middle" class="tr" textLength="11.5" lengthAdjust="spacingAndGlyphs">20</text>
<text x="503.6" y="285.3" text-anchor="middle" class="tr" textLength="11.5" lengthAdjust="spacingAndGlyphs">40</text>
<text x="537.7" y="285.3" text-anchor="middle" class="tr" textLength="11.5" lengthAdjust="spacingAndGlyphs">60</text>
<text x="571.8" y="285.3" text-anchor="middle" class="tr" textLength="11.5" lengthAdjust="spacingAndGlyphs">80</text>
<text x="605.9" y="285.3" text-anchor="middle" class="tr" textLength="17.25" lengthAdjust="spacingAndGlyphs">100</text>
<text x="640" y="285.3" text-anchor="middle" class="tr" textLength="17.25" lengthAdjust="spacingAndGlyphs">120</text>
<text x="674.1" y="285.3" text-anchor="middle" class="tr" textLength="17.25" lengthAdjust="spacingAndGlyphs">140</text>
<text x="341.6" y="139.6" class="al2" textLength="44.2" lengthAdjust="spacingAndGlyphs">Northing</text>
<text x="541.9" y="298.4" text-anchor="middle" class="al" textLength="60.5" lengthAdjust="spacingAndGlyphs" clip-path="url(#ec)">Easting(km)</text>
<text x="346.4" y="20.6" class="pl" textLength="20.6" lengthAdjust="spacingAndGlyphs">(f)</text>
<use href="#rm"/>
<g filter="url(#bl)">
<path fill="#321a4e" d="M607 138.9l-1.4-2.9-.5-2.5-1-1.5-1-4-1.5-3 0-1-1-1.5 .9-.4 3.5-3.5 .5 0 5.1-5.1 1-2 1.5-1.5 0-.5 2-2.5 2.5-5 0-1 2.5-4.5 0-1 5.5-6.5 1-2 0-1 1-1.5 0-1 1-1.5 0-1 1-1.5 0-1 1-1.5 .5-2.5 .5-.5 0-1.5 .5-.5 0-1.5 .5-.5 0-1.5 .5-.5 0-1.5 .5-.5 .5-3 .5-.5 .1-2 .4-.5 .1-2 .4-.5 .1-2 .4-.5 .1-2 .4-.5 .1-5 .5-.5 0-3-.5-.5 .1-2.5-.6-.5-.4-4-.6-.5 0-1-1-2 .3-.8 3.3 3.3 0 .5 2 2 0 .5 3 3.5 3 6 1 1 1 2 .1 7.5 .5 .5 0 2-.5 .5-.5 5-.5 .5 0 1.5-.5 .5 0 2-.5 .5 0 1.5-.5 .5 0 1.5-.5 .5 0 1.5-.5 .5 0 1.5-.5 .5 0 1.5-.5 .5 0 1.5-.5 .5 0 1.5-.5 .5 0 1.5-.5 .5 0 1.5-.5 .5-.5 2.5-1 1.5 0 1-1 1.5 0 1-1 1.5 0 1-2 4-1 1-2 4-1 1-.5 1.5-1 1-1 2.5-1 1-1 2.5-1 1-2 4-10.9 11.4-.5 0-1.5 1.5-.5 0z"/>
<path fill="#382b74" d="M607 138.8l-.3-1.3-1-1.5-.5-2.5-1-1.5-1-4-1-1.5-.5-2.5-.9-1.5 .7-.2 3.5-3.5 .5 0 5.2-5.3 1.1-2 3.4-4.5 2.5-5 .1-1 2.4-4.5 .1-1 5.9-7.5 5.5-14 .1-1.5 .4-.5 1.1-5.5 .5-.5 .6-3 .4-.5 .1-2 .4-.5 .1-2 .4-.5 .1-2 .4-.5 .1-2 .5-.5 .1-3.4 .5-1.3 .5-.6 1.5-.1 6 .4 2.1 3.5 .1 7.5 .5 .5 0 2-.5 .5-.4 5-.5 .5 0 1.5-.5 .5 0 2-.5 .5 0 1.5-.5 .5 0 1.5-.5 .5 0 1.5-.5 .5 0 1.5-.5 .5 0 1.5-.5 .5 0 1.5-.5 .5 0 1.5-.4 .5 0 1.5-.5 .5 0 1.5-.5 .5-.5 2.5-1 1.5 0 1-1 1.5 0 1-1 1.5 0 1-2.1 4-1 1-2 4-1 1-.5 1.5-.9 1-1 2.5-1 1-1 2.5-1 1-2 4-10.9 11.3-.5 0-1.5 1.5-.5 0z"/>
<path fill="#3d3e9b" d="M607 138.8l-6.1-16.3 .6-.2 3.5-3.4 .5-.1 5.3-5.3 1-2 3.5-4.5 2.4-5 .1-1 2.5-4.5 0-1 6-7.5 5.5-14 0-1.5 .5-.5 1.1-5.5 1.4-4 .1-2 .5-.5 1.1-7 .4-.5 .1-1.6 .8-1.9 .7-.4 3-.2 5 .8 1.1 1.8 .1 7.5 .5 .5-.5 5-.5 .5 0 2-.5 .5 0 1.5-.5 .5 .1 2-.5 .5 0 1.5-.5 .5 0 1.5-.5 .5 0 1.5-.5 .5 0 1.5-.5 .5 0 1.5-.5 .5 0 1.5-.5 .5 0 1.5-.5 .5 0 1.5-.5 .5 0 1.5-.5 .5-.5 2.5-1 1.5 0 1-1 1.5 0 1-1 1.5 0 1-2 4-1 1-2 4-1 1-.5 1.5-1 1-1 2.5-1 1-1 2.5-1 1-2 4-10.8 11.3-.5 0-1.5 1.5-.5 0z"/>
<path fill="#414eb7" d="M607 138.8l-6.1-16.3 .6-.1 3.5-3.5 .5-.1 5.3-5.3 1.1-2 3.4-4.5 2.5-5 .1-1 2.4-4.5 .1-1 5.4-6.5 6-15 .1-1.5 .4-.5 1.2-5.5 .9-2 1.1-6.2 2.2-7.8 .3-.5 3-.3 6 .8 .5 .5 .1 7.5 .5 .5-.4 5-.5 .5 0 2-.5 .5 0 1.5-.5 .5 0 2-.5 .5 0 1.5-.4 .5 0 1.5-.5 .5 0 1.5-.5 .5 0 1.5-.5 .5 0 1.5-.5 .5 0 1.5-.5 .5 0 1.5-.5 .5 0 1.5-.5 .5 0 1.5-.5 .5-.5 2.5-1 1.5 0 1-1 1.5 0 1-1 1.5 0 1-2 4-1 1-2 4-1 1-.5 1.5-1 1-1 2.5-1 1-1 2.5-1 1-2 4-10.8 11.3-.5 0-1.5 1.5-.5 0z"/>
<path fill="#435dce" d="M607 138.7l-6-16.2 .5-.1 3.5-3.4 .5-.1 5.4-5.4 1-2 3.4-4.5 2.5-5 .1-1 2.4-4.5 .1-1 5.4-6.5 6-15 .1-1.5 .5-.5 1.1-5.4 .9-2.1 3.3-13 .3-.5 4-.3 3 .3 2.5 .8 .1 6.7 .5 .5 0 2-.5 .5-.4 5-.5 .5 0 1.5-.5 .5 0 2-.5 .5 0 1.5-.5 .5 0 1.5-.5 .5 0 1.5-.5 .5 .1 1.5-.5 .5 0 1.5-.5 .5 0 1.5-.5 .5 0 1.5-.5 .5 0 1.5-.5 .5 0 1.5-.5 .5-.5 2.5-1 1.5 0 1-1 1.5 0 1-1 1.5 0 1-2 4-1 1-2 4-1 1-.5 1.5-1 1-1 2.5-1 1-1 2.5-1 1-2 4-10.8 11.2-.5 0-1.5 1.5-.5 0z"/>
<path fill="#446fe2" d="M607 138.7l-.2-1.2-1-1.5 0-1-.5-.5 0-1-1-1.5-1-4-1-1.5 0-1-.5-.5-.6-2.5 4.3-3.6 5.4-5.4 1.1-2 3.4-4.5 2.5-5 0-1 2.5-4.5 .1-1 5.4-6.5 6-15 .6-3.5 2-6 3.1-12 .4-.6 4-.3 2.5 .3 2.5 .8 .5 .3 .1 5.5 .5 .5 0 1.5-.5 1 0 2.5-.5 .5 0 2-.5 .5 0 1.5-.5 .5 .1 2-.5 .5 0 1.5-.5 .5 0 1.5-.5 .5 0 1.5-.5 .5 0 1.5-.5 .5 0 1.5-.5 .5 0 1.5-.5 .5 0 1.5-.4 .5 0 1.5-.5 .5 0 1.5-.5 .5-.5 2.5-1 1.5 0 1-1 1.5 0 1-1 1.5 0 1-2.1 4-1 1-2 4-1 1-.5 1.5-.9 1-1 2.5-1 1-1 2.5-1 1-2 4-10.8 11.2-.5 0-1.5 1.5-.5 0z"/>
<path fill="#437dee" d="M607 138.7l-.2-1.2-1.5-3 0-1-1-1.5-1-4-1-1.5 0-1-.9-2 .1-1 9.4-9 4.5-6.5 5-10.5 .1-1 5.4-6.5 5.5-13.5 6.1-21.5 1-1 1.4-.5 2.6 0 2.6 .5 1.9 2.7 .5 1.1 0 1.7 .5 .5-.4 5-.5 .5 0 2-.5 .5 0 1.5-.5 .5 0 2-.5 .5 .1 1.5-.5 .5 0 1.5-.5 .5 0 1.5-.5 .5 0 1.5-.5 .5 0 1.5-.5 .5 0 1.5-.5 .5 0 1.5-.5 .5 0 1.5-.5 .5 0 1.5-.5 .5-.5 2.5-1 1.5 0 1-1 1.5 0 1-1 1.5 0 1-2 4-1 1-2 4-1 1-.5 1.5-1 1-1 2.5-1 1-1 2.5-.9 1-2.1 4-10.7 11.2-.5 0-1.5 1.5-.5 0z"/>
<path fill="#3f8ef4" d="M607 138.6l-.1-1.1-1.6-3 0-1-1-1.5-1-4-1-1.5-.8-3.7 7.9-7.3 1.6-2 4.4-6.5 5.6-12 4.9-6 5.1-12 6-19 3-2.6 2-.4 1 .3 1.6 1.2 2.2 3.5 .7 1.7 0 2.3-.5 .5 0 2-.5 .5 .1 1.5-.5 .5 0 2-.5 .5 0 1.5-.5 .5 0 1.5-.4 .5 0 1.5-.5 .5 0 1.5-.5 .5 0 1.5-.5 .5 0 1.5-.5 .5 0 1.5-.5 .5 0 1.5-.5 .5 0 1.5-.5 .5-.5 2.5-1 1.5 0 1-1 1.5 0 1-1 1.5 0 1-2 4-1 1-2 4-1 1-.5 1.5-1 1-1 2.5-1 1-1 2.5-1 1-2 4-10.7 11.2-.5 0-1.5 1.4-.5 0z"/>
<path fill="#389cf2" d="M607 138.6l-.1-1.1-1.5-3 0-1-1-1.5-1-4-1-1.5-.9-3.4 8.5-8.1 5.5-8 5.5-11.6 5-6.4 5-12 5-15.2 1.5-1.5 2-1 2-.3 1.5 .5 2.4 2.5 1.4 4.5-.3 2-.5 .5-.4 4-.5 .5 0 1.5-.5 .5 0 1.5-.5 .5 0 1.5-.4 .5 0 1.5-.5 .5 0 1.5-.5 .5 0 1.5-.5 .5 0 1.5-.5 .5 0 1.5-.5 .5-.5 2.5-1 1.5 0 1-1 1.5 0 1-1 1.5 0 1-2 4-1 1-2 4-1 1-.5 1.5-1 1-1 2.5-1 1-1 2.5-1 1-2 4-10.7 11.1-.5 0-1.5 1.5-.5 0z"/>
<path fill="#2eabea" d="M607 138.6l-.1-1.1-1-1.5-.5-2.5-1-1.5-1-4-1-1.5 0-1-.5-.5-.4-1.6 8.7-8.4 5.4-8 5.5-11.5 5.3-7 4.9-12 2.2-7 2-4.9 3-2.1 1.5-.4 2 .4 1.5 1.1 1 1.6 1.5 4 0 1.8-.5 .5 .1 1.5-.5 .5 0 1.5-.5 .5 0 1.5-.5 .5 0 1.5-.5 .5 0 1.5-.5 .5 0 1.5-.5 .5 0 1.5-.4 .5 0 1.5-.5 .5 0 1.5-.5 .5-.5 2.5-1 1.5 0 1-1 1.5 0 1-1 1.5 0 1-2.1 4-1 1-2 4-1 1-.5 1.5-.9 1-1 2.5-1 1-1 2.5-1 1-2 4-10.7 11.1-.5 0-1.5 1.5-.5 0z"/>
<path fill="#22bbdb" d="M607 138.5l0-1-1.6-3 0-1-1-1.5-1-4-1-1.5-.7-3 8.7-8.5 5.3-8 5.6-11.5 5-6.5 5.2-12.5 3.5-10 4-1.3 2 .3 1.5 1.1 2.5 3.2 .6 1.2-.1 2-.5 .5 0 1.5-.4 .5 0 1.5-.5 .5 0 1.5-.5 .5 0 1.5-.5 .5 0 1.5-.5 .5 0 1.5-.5 .5 0 1.5-.5 .5 0 1.5-.5 .5-.5 2.5-1 1.5 0 1-1 1.5 0 1-1 1.5 0 1-2 4-1 1-2 4-1 1-.5 1.5-1 1-1 2.5-1 1-1 2.5-.9 1-2.1 4-10.6 11.1-.5 0-1.5 1.5-.5 0z"/>
<path fill="#1ac7cc" d="M607 138.5l0-1-1.6-3 0-1-1-1.5-1-4-1-1.5 .1-1-.5-.5 0-1.5 8.5-8.3 5.4-8.2 5.6-11.4 5-6.6 5.1-12.5 2.9-8.5 3-.8 3.5 .7 2.5 1.9 1.7 3.2-.2 2-.5 .5 0 1.5-.4 .5 0 1.5-.5 .5 0 1.5-.5 .5 0 1.5-.5 .5 0 1.5-.5 .5 0 1.5-.5 .5 0 1.5-.5 .5-.5 2.5-1 1.5 0 1-1 1.5 0 1-1 1.5 0 1-2 4-1 1-2 4-1 1-.5 1.5-1 1-1 2.5-1 1-1 2.5-1 1-2 4-10.6 11-.5 0-1.5 1.5-.5 0z"/>
<path fill="#17d4bb" d="M607.5 136.6l-1 .2-.5-.8-.5-2.5-1-1.5-.5-2.5-.5-.5 0-1-1-1.5-.5-2.5 8.5-8.5 5.2-8 5.8-11.6 5.1-6.9 5.2-12.5 2.2-6.8 .5-.5 2.5-.7 1.5 0 2.5 .9 1.9 1.6 1.2 2 .5 2-.1 2-.5 .5 0 1.5-.5 .5-.4 3.5-.5 .5 0 1.5-.5 .5 0 1.5-.5 .5 0 1.5-.5 .5-.5 2.5-1 1.5 0 1-1 1.5 0 1-1 1.5 0 1-2 4-1 1-2 4-1 1-.5 1.5-1 1-1 2.5-1 1-1 2.5-1 1-2 4-10.6 11-.5 0-1 1z"/>
<path fill="#1addad" d="M609 134l-3.5 .4 0-.9-1-1.5 0-1-.5-.5 0-1-.5-.5 0-1-.7-1.5 .8-2 1.9-3.5 4.5-4.6 3.5-5.1 2.5-4 5.6-11.3 5.2-7 5.3-13 1.4-4.3 1.5-1.4 1.5-.4 2 0 2 .8 2.3 2.3 .8 2.5 .4 3.5-.5 .5-.5 3.5-.5 .5 0 1.5-.4 .5 0 1.5-.5 .5 0 1.5-.5 .5-.5 2.5-1 1.5 0 1-1 1.5 0 1-1 1.5 0 1-2.1 4-1 1-2 4-1 1-.5 1.5-.9 1-1 2.5-1 1-1 2.5-1 1-2 4-8.1 8.5-2.5 1.2z"/>
<path fill="#26e49d" d="M608.5 131.5l-2.4-1-.7-1-.2-2 .6-3 2.8-6 1.7-2 5.7-8.9 5.8-11.6 5.2-7 6-15.3 3-2.1 1.5-.3 1.6 .2 1.9 1.5 1.3 2.5 .8 4-.1 3.5-.5 .5 0 1.5-.5 .5 0 1.5-.5 .5 0 1.5-.5 .5-.5 2.5-.9 1.5-.1 1-2 4 0 1-2 4-1 1-2 4-1 1-.5 1.5-1 1-1 2.5-.9 1-1 2.5-1 1-2.1 4-4.5 4.6-4 2.5-3.5 1.1z"/>
<path fill="#39eb88" d="M613.5 128.5l-1.5 .1-2.1-.6-.9-1-.5-2 1.2-5 1.9-5 4.4-7.1 5.5-10.9 5.6-8 5.4-13.2 3-2.2 1.5-.3 1.5 .2 2 1.8 1.1 2.2 .6 3 0 4.5-.7 4-.5 .5-.5 2.5-1 1.5 0 1-1 1.5 0 1-1 1.5 0 1-1.5 3-3.1 3-2.1 5.5-6.8 12-1 1-5 2.8-3 1.4z"/>
<path fill="#4ef075" d="M615.5 125.5l-2.5-.3-1-1-.4-1.7 .3-3 2.1-8 6.5-12.1 2.7-2.9 1.3-3.5 2.8-4 4.2-10.1 3.5-3.2 1.5-.3 1.5 .2 2 2 .9 2.4 .2 9-.6 3-4.5 8.6-4.4 3.9-3.6 11.5-1 2-1 1-1 2.5-1 .7z"/>
<path fill="#69f35e" d="M618.5 122.1l-2.7-.1-1-1-.5-1.5 .1-3 1.1-7 3.5-6.6 3-2.8 3-2.1 .9-5.5 1.6-3 2.5-7 2.5-2.8 2-1.5 1.5-.6 1.5 .2 1 .8 1 2.4 .5 3.5 0 6.1-4.9 8.9-2.1 1.8-3 1.5-2.2 10.2-2 6.5-2.3 1.6z"/>
<path fill="#7ff54d" d="M631 99.5l-1 .1-1.3-.6-1.1-1.5-.4-2.5 .2-2 1.1-2.5 1.8-6.5 3.2-2.8 1.5-.6 1.5 .1 1.2 1.3 .8 2 .5 3.5 0 2.5-5 8.1-1.5 1.1zM623.5 119.6l-3.5 .1-1.5-.6-1.1-1.1-1.2-4 .1-5 .7-2.1 1.4-1.4 4.1-2.9 2-.6 1.5 .4 .5 .6 .6 1.5 .1 3-.6 5-1.1 5.1-.5 1.2z"/>
<path fill="#93f440" d="M632.5 95.6l-2 0-.4-1.6 1.4-8.9 1-.9 1.5-.6 1.5 .2 1.4 1.7 .7 3.5-2.1 3.4zM623.5 118.1l-2-.1-1.5-.6-1.4-1.4-.8-2-.4-5.5 1.1-1.1 2.5-1.3 1.5-.1 1.5 .7 .9 1.8 .3 3-.3 3.5-.6 2.5z"/>
<path fill="#a5f136" d="M623 116.2l-.5 .1-1.5-.5-1.2-1.3-1.3-3.5 0-1 .4-.5 2.1-.3 1.5 1 .8 2.3 0 3z"/>
</g>
<use href="#tf3"/>
<polygon points="498.4,169 501,167.5 506.8,165.3 511.2,163.9 516.3,163.1 519.9,162 522.8,161 527.6,160.2 527.8,160.8 525,163.1 522.1,165.7 519.2,166.4 514.8,167.5 511.9,169.5 509.7,172.8 504.6,173.6 501.7,173.5 499.5,171.5" fill="#210c31"/>
<rect x="592.3" y="198" width="11" height="60.3" fill="url(#gsl)"/>
<path d="M603 198h6M603 258.3h6" stroke="#262626" stroke-width="1.1"/>
<text x="612.6" y="200.8" class="cb">8.</text>
<text x="612.6" y="261.1" class="cb">0.</text>
<text transform="translate(645.1,226.6) rotate(-90)" text-anchor="middle" class="cbr" textLength="38.9" lengthAdjust="spacingAndGlyphs">Slip[m]</text>
</g>
<g transform="translate(0.75,891.74)">
<path d="M65.65 4.38H333.2V266.7H65.65z" fill="none" stroke="#404040" stroke-width="1.15"/>
<path d="M59.05 253h13.2M59.05 219.4h13.2M59.05 185.8h13.2M59.05 152.2h13.2M59.05 118.6h13.2M59.05 85h13.2M59.05 51.4h13.2M59.05 17.8h13.2M94.4 259.9v13M128 259.9v13M161.6 259.9v13M195.2 259.9v13M228.8 259.9v13M262.4 259.9v13M296 259.9v13M329.6 259.9v13" stroke="#303030" stroke-width="1.1"/>
<text x="58.65" y="256.2" text-anchor="end" class="tl" textLength="14.7" lengthAdjust="spacingAndGlyphs">-20</text>
<text x="58.65" y="222.6" text-anchor="end" class="tl" textLength="5.75" lengthAdjust="spacingAndGlyphs">0</text>
<text x="58.65" y="189" text-anchor="end" class="tl" textLength="11.5" lengthAdjust="spacingAndGlyphs">20</text>
<text x="58.65" y="155.4" text-anchor="end" class="tl" textLength="11.5" lengthAdjust="spacingAndGlyphs">40</text>
<text x="58.65" y="121.8" text-anchor="end" class="tl" textLength="11.5" lengthAdjust="spacingAndGlyphs">60</text>
<text x="58.65" y="88.2" text-anchor="end" class="tl" textLength="11.5" lengthAdjust="spacingAndGlyphs">80</text>
<text x="58.65" y="54.6" text-anchor="end" class="tl" textLength="17.25" lengthAdjust="spacingAndGlyphs">100</text>
<text x="58.65" y="21" text-anchor="end" class="tl" textLength="17.25" lengthAdjust="spacingAndGlyphs">120</text>
<text x="94.4" y="281.4" text-anchor="middle" class="tl" textLength="5.75" lengthAdjust="spacingAndGlyphs">0</text>
<text x="128" y="281.4" text-anchor="middle" class="tl" textLength="11.5" lengthAdjust="spacingAndGlyphs">20</text>
<text x="161.6" y="281.4" text-anchor="middle" class="tl" textLength="11.5" lengthAdjust="spacingAndGlyphs">40</text>
<text x="195.2" y="281.4" text-anchor="middle" class="tl" textLength="11.5" lengthAdjust="spacingAndGlyphs">60</text>
<text x="228.8" y="281.4" text-anchor="middle" class="tl" textLength="11.5" lengthAdjust="spacingAndGlyphs">80</text>
<text x="262.4" y="281.4" text-anchor="middle" class="tl" textLength="17.25" lengthAdjust="spacingAndGlyphs">100</text>
<text x="296" y="281.4" text-anchor="middle" class="tl" textLength="17.25" lengthAdjust="spacingAndGlyphs">120</text>
<text x="329.6" y="281.4" text-anchor="middle" class="tl" textLength="17.25" lengthAdjust="spacingAndGlyphs">140</text>
<text x="1.2" y="138.6" class="al" textLength="43.8" lengthAdjust="spacingAndGlyphs">Northing</text>
<text x="198.8" y="295" text-anchor="middle" class="al" textLength="60.7" lengthAdjust="spacingAndGlyphs">Easting(km)</text>
<text x="1.5" y="20.5" class="pl" textLength="19.9" lengthAdjust="spacingAndGlyphs">(g)</text>
<clipPath id="pc3"><polygon points="67.8,217.7 292.25,4.36 332.4,55.2 290.4,140.1 109.4,265.4"/></clipPath>
<g clip-path="url(#pc3)"><polygon points="67.8,217.7 292.25,4.36 332.4,55.2 290.4,140.1 109.4,265.4" fill="#08afcc"/>
<g filter="url(#b3)">
<path fill="#08b3c4" d="M118.5 256.5l-1 .3-8-2.3-2-3-7.5-4-6.5-5.2-3.2-3.8-2.1-4-1.2-6 0-3.5 2.4-6 3.6-2.9 1.5 2.2 7.1-2.8 7.2-3.5 8.2-5.7 5-2.6 4-1.3 .7-8.4 3-7.5 7.3-7.9 7-4.8 7-2.7 14.7-.1 4.3-4.1 6.1-2.4 17.4-11.5 6-.2 5.8-2.8 5.7-3.6 7.2-2.9 6.3-6.4 2.5-5.2 2.3-6.9 2.9-3.5 4.8-3.6 6.5-1.3 5.5 .6 2.5 2.5 1.1-.2 10.4 4.1 6.5 4.9 2.9 3 2.7 4.5 2.6 7 .7 2.5-.9 1-8.5 5.8-1.5 1.5-5 3.1-1.5 1.5-5 3-1.5 1.5-18 12-1.5 1.5-5 3-1.5 1.5-11.5 7.5-1.5 1.5-11.5 7.4-8 6-5 2.9-8 6.1-5 3.1-1.5 1.5-18 12-1.5 1.5-5 3-8 6-5 3-1.5 1.5-5 2.9-1.5 1.5-5 2.9-1.5 1.5z"/>
<path fill="#08b6be" d="M130 248.5l-6-.4-7-1.4-7-2.4-6-2.9-2-3.6-5-4.2-3.5-4.3-3.3-6.8-.1-2 .6-1.5 1.3-.9 2-.5 .5 .9 8.5-3.5 6-3 6.5-4.8 6.5-3.4 4-1.3 .8-8.5 3-7.5 6.7-7.4 7.5-5.3 7.5-2.8 14.5 0 4.5-4.4 5.7-2.1 17.3-11.5 6-.2 5.9-2.8 6.1-3.8 6.8-2.7 6.2-6.4 2.5-5.1 2.4-7 2.9-3.5 4.7-3.6 6.5-1.3 5.5 .7 2.5 2.5 5.5 2.9 4.3 3.3 3.8 5 4.1 8.5 1 6.5-.7 6-10.5 7.2-1 1.2-2 1-1.5 1.5-18 11.9-1.5 1.5-5 3-1.5 1.5-5 2.9-1.5 1.5-5 3-1.5 1.4-5 3-1.5 1.5-5 2.9-8 6-1.5 .5-2.5-.4-1.5 .6-2.8 2.3-1.4 3.5-3.3 2.6z"/>
<path fill="#08b9b7" d="M137.5 243.5l-7 .4-8-.8-7.5-2-7-2.9-7-4.2-1.5-3-4-5.4-4-2.6-.6-1.5 .1-1.5 1.5-1.4 2 0 9.6-4.1 5-2.5 6.4-4.7 6.5-3.5 4.1-1.3 .7-8.5 3.1-7.5 6.6-7.4 7.5-5.2 7.5-2.8 14.5-.1 4.5-4.3 5.8-2.2 17.2-11.4 6-.2 6-2.9 6-3.8 6.9-2.7 5.6-5.5 3-5.9 2.1-6.6 .7-1 2.5-3 4.7-3.5 6.5-1.4 5.5 .8 2.5 2.5 7.1 5.6 4.5 7.5 2 7 0 9.5-1.1 5-1 2-7 4.8-1.5 1.5-5 3-1.5 1.5-5 3-1.5 1.5-5 2.9-1.5 1.5-5 3-1.5 1.4-5 2.9-3 2.4-8 3.5-7.9 2.1-11.6 7.3-4-.1-1.5 .6-3.9 3.2-2.9 8.5-1.3 3-.9 1-13.5 9.2-1.5 1.5-5 3-1.5 1.5-5 3-1.5 1.5-5 2.9-1.5 1.5-5 3z"/>
<path fill="#08bcb0" d="M136 239l-7.5 .1-7.5-1.1-8-2.6-8.3-4.4-4.2-.2-1.6-1.3-.9-2-2-2.6-4-2.4-.5-1 .2-1.5 1.3-1.1 1.5-.3 7.6-3.1 6.9-3.4 6.5-4.8 6.5-3.4 4.1-1.4 .8-8.5 3.1-7.5 6.5-7.3 7-4.9 8-3.2 14.5 0 4.5-4.3 5.9-2.3 17.1-11.4 6-.1 6-3 6-3.8 6.9-2.7 6.1-6.3 2.5-5.1 2.1-6.6 .7-1 2.6-3 4.6-3.5 6.5-1.3 5.5 .7 6.9 6.6 2 2.5 2.4 5 1.6 5 .7 4.5-.8 7.5-2 6-2.3 4 .9 1-.4 .7-28.5 19.3-5 .3-13 5.9-8 1.9-13 7.8-4-.9-1.5 .5-5.5 4-2.1 7.5-2.2 5.5-3.5 6-3.2 4-3.5 2-1.5 1.5-5 3.1-1.5 1.4-5 3-4.5 3.5-5.5 1.6z"/>
<path fill="#07c0a8" d="M134 235.5l-7-.2-7-1.4-6-2.1-7.5-3.9-6.5 .9-1.5-.9-2.5-3.7-3.2-1.7-.7-2 1.4-1.5 9.9-4 5.6-2.8 6-4.5 4.5-2.5 6.7-2.7 .7-8.5 3.1-7.5 6.5-7.3 7-4.9 8-3.2 14.5 0 4.5-4.3 6-2.3 17-11.4 6-.1 6-2.9 6-3.8 7-2.8 5.6-5.5 2.9-5.8 2.1-6.7 3.4-4.1 5-3.5 6-1.2 5.5 .8 7.9 9 2.8 8 .7 6-.3 5-1.7 6-2.4 4.4 2.3 3.6-.2 .5-24.1 16.5-9.5 0-2.5 .5-12.5 5.3-7.8 1.7-12.7 7.8-1.5 .2-3-.7-1 .3-7.2 4.9-2.4 9-2.8 6.5-4.3 6.5-5.3 5.7-6 4.5-7 3.6-7.5 2.3z"/>
<path fill="#07c49f" d="M135.5 233l-7 0-7-1.1-6-2.1-8-3.9-8 1.4-1.5-.9-2-2.7-2.9-1.7-.5-1.5 1.3-1.5 9.6-4 5.5-2.8 6-4.5 3.5-1.9 4-2 3.8-1.3 .8-9 2.9-7 6.5-7.2 6.5-4.6 8.5-3.5 14.5 0 4.5-4.3 6-2.4 17-11.3 6-.2 6-2.9 6-3.8 7-2.8 5.6-5.5 2.9-5.8 2.2-6.7 3.3-4 4.5-3.4 1-.3 5.5-1.1 5.5 .8 2.9 3 3.8 5.5 2.4 7 .6 5.5-.4 5.5-1.6 6-2.2 4 3.6 5.5-.1 .5-15 10-3 2.5-5 1-8 .5-8.5 1.2-10 4.2-7.5 1.6-13.5 8.3-1.5 .4-3-.7-1 .2-8 5.3-1.8 8.5-2.7 6.8-4 6.5-5 5.6-5.5 4.3-6 3.3-6.5 2.3z"/>
<path fill="#06c896" d="M136.5 230.5l-7 .2-7-1-6-2-7.5-3.7-10 2.2-1.5-.8-1.5-2.1-2.5-1.6-.4-1.2 1.1-1.5 14.3-6.5 6.5-4.7 7.5-4 3.8-1.3 .7-8.5 3.1-7.5 6.4-7.1 6.5-4.6 8.5-3.6 14.5 .1 4.5-4.4 6-2.3 17-11.4 6-.1 6-3 6-3.7 7-2.8 5.9-6.1 2.7-5.5 2.1-6.5 3.3-4 4.5-3.4 6.5-1.3 5.5 .8 2.8 2.9 3 5 1.1 2.5 1.2 5 .4 5-.4 5-1.3 4.5-2.3 5 4 6.5-1 1-6.5 5.2-7.5 3.7-6 1.6-19.5 2.9-9.5 4-7.5 1.5-14 8.5-1.5 .2-3-.9-1.3 .3-8.2 5-1.7 9-2.1 6-3.6 6.5-4.6 5.6-5.2 4.4-5.8 3.4-6 2.3z"/>
<path fill="#05cc8d" d="M137.5 228l-6.5 .5-6.5-.8-6-1.7-8-3.6-11.5 3.1-2-1-1-1.7-2-1.3-.5-1 .9-1.5 14.1-6.4 6.5-4.8 7.5-3.9 3.9-1.4 .6-8.5 3.1-7.5 6.4-7.1 7.5-5.3 7.5-2.8 14.5 0 4.5-4.3 6-2.4 17-11.4 6-.1 6-2.9 6-3.8 7-2.8 6-6.1 2.6-5.5 2.1-6.5 3.3-4 4.5-3.4 7-1.3 5 .8 2.3 2.4 3.8 7.5 1.2 7 .1 4.5-.7 4.5-1.5 4.5-1.7 2.9 3.6 5.6-.1 1-1.5 1.6-6 4.6-6.5 3.1-5.5 1.5-6.5 .8-6.5 1.8-7.5 .6-9.5 3.8-6.7 1.2-14.3 8.6-2 .5-3.6-.6-4.9 3.1-4.4 1.9-1.1 1.5-1.3 8-1.9 6-2.8 5.4-3.5 4.7-4.5 4.4-5.5 3.8-6 2.6z"/>
</g>
<g filter="url(#b2)">
<path fill="#09a7d2" d="M94.5 218.1l-1.2-2.1 0-1-1.1-1.5 0-1-1-1.5 0-1-1.4-2.5 0-1-1.9-4 .1-1.5 19-19.2 .5 0 27.5-27.5 .5 0 13.5-13.3 5.5-.2 5.5-2.3 1-.7 3-3.7 11.7-9.6 5.8-2.9 7.5-2.2 .6-.9 .9-4 1.1-2-.5-3 .2-1.5 3.3-6 8.2-10 10.2-8.3 7.5-4.2 8-2.5 2 0 5.5 1.7 6.5-.6 5 .2 2 .8 4 3.9 6.5 1.9 4.5 1.9 4.5 2.7 3.5 3 .7 1.5 .2 4-21.4 21.8-3-2.7-3-.4-2.5-.2-6.5 1.3-4.8 3.7-2.9 3.5-2.3 6.8-3 6-5.9 5.7-7.1 2.8-5.8 3.7-5.1 2.5-6.6 .3-17.5 11.7-6 2.2-4.5 4.3-14-.2-7.5 2.9-7.5 5.2-6.8 7.6-3.1 7.5-.6 8.2-4 1.4-7 3.6-6.5 4.8-5 2.5z"/>
<path fill="#0aa0d7" d="M95.5 217.5l-1 .4-.6-.9-.5-2-.9-1.5 0-.7 9.4-8.8 4.6-6.2 4.4-3.8 .3-1.5-1.3-3.5 .1-1.7 4.9-9.8 2.8-3.5 8.6-8 10.2-6.4 11.5-4.4 3-.4 7 0 1.5-.4 7.5-4.1 5.5-5.3 11-9 4-1.8 6-1.4 .7-.8 1.3-3.5 1.2-1.5 1.5-1.5 3.6-2 .7-.8-.4-3.7 .3-1.5 1.8-4.5 2.4-4 6.3-7.5 8.1-6.5 5-2.8 5.5-1.6 2 0 5 1.6 7.5-.1 2 1 4 3.8 6.5 2.4 4.3 3.2 .6 1.5 .1 4-11.5 11.7-3-2.6-5.5-.6-6.5 1.3-4.9 3.7-2.9 3.5-2.2 6.7-3 6-6 5.8-7 2.7-5.9 3.8-5.1 2.5-6.5 .2-17.7 11.8-5.8 2.1-4.5 4.2-14-.1-8.5 3.5-6.5 4.5-6.9 7.8-3 7.5-.6 8.1-4.5 1.6-6.5 3.4-6.8 4.9-5.1 2.5z"/>
<path fill="#0b99dd" d="M103 214l-1.5 .3-.2-.3 5.1-5 4.3-5.5 6.2-6 .2-1-1.1-4 1.2-4 4.7-8.5 7.6-7.3 10-6.6 8.5-3.5 3-.7 9.5 0 1.8-.4 3.2-2.4 5.5-3 5.5-5.2 10.5-8.7 3-1.4 5.5-1.1 5.5-7.3 4.5-3 1.4-1.4 .8-4 2.1-6 3-5.5 5.1-6 7.1-5.6 4-2.2 4.5-1.2 2 .2 4.5 1.5 5 0 2 .9 4 3.9 4.5 1.8 2.5 2.1 .5 1.6 0 3.5-6.5 6.6-3-2.6-5.5-.6-6.5 1.3-4.5 3.4-3.3 3.9-2.2 6.6-3 6.1-6.1 5.8-6.9 2.7-6 3.8-5.2 2.5-6.3 .1-17.1 11.4-6.4 2.5-4 4-14.5 .1-8 3.1-7 4.9-6.7 7.4-3.2 7.5-.7 8.5-4.4 1.6-6 3-6.9 4.9z"/>
<path fill="#0c92e2" d="M116.5 205.6l-.8-.1 5.4-5.5 .1-1-.8-3.5 .4-3 3.9-8 1.8-2.4 6-5.7 9.5-6.2 7.5-3.1 2.5-.4 10 .1 2-.3 4-3.3 5.5-3.1 15.8-13.6 2.2-1.1 5.5-1.1 7-8.2 5.5-4.1 5.1-13 2.4-4 4.2-5 6.8-5.3 3-1.6 3.5-.9 2 .2 4.5 1.5 3.5 .1 2 1 3.5 3.5 3.1 1.5 1.4 1.2 .6 1.8-.1 3.5-3 3-3-2.6-5.5-.6-6.5 1.4-4.5 3.4-3.4 3.9-2.1 6.5-3 6.1-6.2 5.9-6.8 2.6-6.2 3.9-5.2 2.5-6.1 .1-17.4 11.4-6.1 2.2-4.4 4.3-14.6 .1-7 2.6-1.5 1-6.5 4.7-6.4 7.1-3.1 7.5-.8 8.5-3.7 1.1z"/>
<path fill="#0c8de4" d="M176.5 163.1l-.5 .3-.2-.4 5.9-5.5 9.3-7.8 1.5-.7 4.5-.7 1.5-.7 7.5-8.5 5-3.6 4-7.1 2.9-7.9 1.4-2.5 4.2-5.1 6.5-5.2 3-1.5 2.5-.5 6 1.7 3 .3 1.5 .9 3 3.1 3 2.2 .5 2.6-.1 2-.4 .4-3-2.2-5.5-.5-6.5 1.4-5 3.9-3.2 4-1.8 5.8-3 6.3-5.5 5.4-7.5 3.1-5.5 3.4-6 2.8-6 .1zM125 201.6l-.3-.1-.8-4.5 .6-4 3.9-7.5 3.6-3.4 0 .4-2.9 3.5-2.9 7.5-.7 7.4z"/>
<path fill="#0d88e6" d="M199.5 152l-2.3 0-1.2-.5 2.5-.5 1.5-.9 7.5-8.4 5.5-4.3 4.5-7.5 4-9.9 4.1-5 5.4-4.4 3.5-1.7 3-.1 7.3 2.2 4.7 4.5 .3 1-6.3-.4-6.5 1.5-1 .6-4 3.2-3 3.6-2 6.1-3 6.4-5.6 5.5-6.9 2.7-6.3 3.8z"/>
<path fill="#0d84e8" d="M205 149.1l-.5-.1 4-4.9 6.2-5.1 4.8-7.5 4-10 5-5.8 4.9-3.7 3.1-1 2 .3 5.5 1.9 2.3 1.8 .3 1-3.6 .1-6 1.4-5 3.7-3.3 4.3-2.2 6.7-3 5.7-5.3 5.1-7.2 2.7z"/>
<path fill="#0e7feb" d="M212 145.1l-1.3-.1 4.9-4 4.7-6.5 2.2-4.5 2.6-7 3.9-4.9 4.5-3.6 2.5-1.3 2.5 .1 4.7 1.7 .5 .5-.9 .5-6.3 1.6-4.5 3.5-3.2 3.9-2.3 7-2.8 5.5-5.6 5.5z"/>
<path fill="#0e79ec" d="M218 142.6l-1 .4-.2-.5 5.3-7.5 2-4 2.6-7 2.6-3.5 2.7-2.5 4-2.8 2.5-.2 2.4 1-.7 .5-3.7 1-4 3.1-1.9 1.9-2 2.5-2.1 6.6-2.9 5.9z"/>
</g>
<g filter="url(#bl)">
<path fill="#04d382" d="M134.5 226.5l-5.5 0-5.5-.9-4.5-1.4-6.5-3-2.2 .3-9.8 3.2-2 .3-1.5-.9-1-1.6-1.9-1.5-.2-1 1.1-1.2 8.5-3.6 5.5-2.8 6-4.5 3-1.7 4.5-2.3 3.9-1.4 .7-8.5 3-7.5 6.4-7 7.5-5.3 7.5-2.9 14.5 .1 4.5-4.4 6-2.4 17-11.3 6.3-.3 5.7-2.8 6-3.8 7-2.8 6-6.1 2.6-5.5 2.1-6.5 3.3-3.9 4.5-3.5 7-1.3 5 .9 2.2 2.3 3.4 7.5 1.1 7-.1 4.5-.7 4-1.1 3.5-1.8 3.5 3.5 6-2.5 2.5-6.5 4.7-7 3-4.5 1-5.5 .5-7 1.8-7.5 .4-9.5 3.8-6.5 1.1-14 8.6-2 .7-4-.1-5 3.2-4.5 1.7-.7 .6-.7 1.5-1.9 9-1.9 5.5-3.1 5.5-3.6 4.5-5.1 4.5-5.5 3.2-6 2.2z"/>
<path fill="#03dd71" d="M99 224.1l-1-.1-1.5-1-1.9-3 .2-1 8.7-3.7 5-2.6 6.5-4.7 7-3.8 4.5-1.7 .6-8.5 3.1-7.5 6.3-7 6-4.3 1.5-1 7.5-2.8 14.5 .1 4.5-4.4 6-2.4 17-11.4 6.5-.3 5.5-2.8 5.5-3.5 7.5-3.1 6-6 2.7-5.6 2.1-6.5 3.2-3.9 4.5-3.4 7-1.3 5 .9 2.1 2.2 2.9 8 .6 6.5-.9 7-2.7 7 3 5-3 3.1-3.5 2.7-5 2.8-5 1.7-8 1.2-7.5 2.1-7.5 .1-9.5 3.8-6.5 1.1-14.5 9-2.5 .9-4 0-5.5 3.3-5 1.5-.8 1.2-1.7 5.5-2 8.5-3.5 7-3 3.9-3.2 3.1-3.8 2.7-4 2.2-7.5 2.2-7.5 .5-7-1.2-8-3.3-1-.1z"/>
<path fill="#01e761" d="M99.5 223.1l-1.5 .2-2-1.4-1.3-2.4 .3-.5 8-3.3 6-3.1 6.1-4.6 6.9-3.8 4.5-1.6 .6-8.6 3.1-7.5 6.8-7.4 5.5-3.8 2.5-1.4 6.5-2.5 14.5 .1 4.5-4.4 6-2.3 17-11.4 6.5-.4 5.5-2.7 5.5-3.5 7.5-3.1 6-6 2.5-5.2 2.7-7.5 2.8-3.4 4.5-3.4 7-1.2 5 .9 2 2.1 2.3 8 .5 4.5-.1 4-.6 3.5-1.3 4-1.6 3 2.3 4.8-3 3.1-3 2.4-3.5 2.1-3.5 1.5-3.5 1-5.5 .8-6.5 2.5-4.5 .6-6.5-.2-9 3.6-6 .8-15 9.2-2.5 .9-3.5 .2-6 3.6-6 1.3-5.3 16.3-2.7 5.5-2.6 3.5-2.9 3-3.5 2.6-4 2.2-6.5 2.1-7 .5-6.5-1.1-8-2.9-1.5 .4-4.5 2.5z"/>
<path fill="#06ef50" d="M99.5 222l-2 0-2.1-1.5-.4-1.1 14-6.7 6.3-4.7 6.7-3.7 4.5-1.7 .7-8.6 3.1-7.5 6.7-7.3 7-4.9 7.5-2.8 5.5 .3 9-.2 4.5-4.4 6-2.4 17-11.3 6.5-.4 5.5-2.7 5.5-3.6 7.5-3.1 6-6 2.6-5.2 2.6-7.5 2.8-3.3 4.5-3.4 7-1.3 5 1 2 2.1 1.8 8.4 .4 4.5-.9 7-2.4 6 0 1 .8 1 .8 2.4-2.9 3.1-3.1 2.5-6.5 3.3-8.5 1.8-6.5 2.7-5 .7-7-.5-8 3.3-6.5 .9-15.5 9.6-2.5 .9-3 .5-4.5 2.8-2.5 1.1-5.5 .5-.7 .9-1.5 6.5-2.7 5.5-1.8 5.5-2.1 4-2.2 3-3 3-3 2.3-3.5 2-6 1.9-6.5 .6-5-.6-7.5-2.6-2.1-.1-1.9 .6-4.5 3.1z"/>
<path fill="#18f241" d="M101 219.6l-3 .3-1.6-.4 1.2-1 11.4-5.7 6.4-4.8 3.6-2 3-1.7 4.5-1.6 .7-8.7 3.1-7.5 6.7-7.3 7-4.8 7.5-2.8 5.5 .3 9-.2 4.5-4.5 6-2.3 17.1-11.4 6.4-.4 5.5-2.7 6-3.8 7-2.8 6-6 2.6-5.3 2.6-7.5 2.8-3.3 4.5-3.4 7-1.2 4.9 .9 2.1 2.3-.3 1.2 1.5 7 .3 4.5-.8 6.5-2.2 5.7-.1 .8 1.2 2 .1 1-2.7 3-3.5 2.9-5.5 2.8-3.5 1.1-4.5 .7-4.5 2.2-3 1.1-5 .5-6.5-.7-8.5 3.5-6 .8-15 9.4-3 1.3-3.8 .9-5.2 3.3-3 .8-4-.2-1 .2-.5 .9-.5 4-.9 3-2.9 5.5-1.9 5.5-1.9 3.5-2.2 3-2.7 2.8-3 2.2-3.5 1.9-5.5 1.8-5.5 .5-5-.6-6.5-2.1-2-.1-3.6 .6-2.9 2.6-2 1.1z"/>
<path fill="#2bf632" d="M109 218.1l-3 0-1.5-.6-1.2-1 1.8-1.5 5.9-3.3 6.3-4.7 4.7-2.6 4.5-1.6 .7-8.8 3.2-7.5 6.3-7 3.8-2.7 4-2.6 7-2.5 5.5 .4 9-.3 4.5-4.5 6-2.3 17.2-11.5 6.3-.3 5.5-2.7 6-3.8 7-2.9 6-5.9 2.8-5.9 2.5-7 2.7-3.3 4.5-3.4 6.5-1.1 2.9 .3 2.3 .5 2.3 2.5-.7 1.5 1.4 7 0 6-.9 5-1.8 5 1.1 3-2.6 3-3.5 2.9-5.5 2.9-8 1.7-4 2.2-3 1.1-5 .6-6.5-.9-9 3.8-6 .7-14.5 9.3-3 1.3-4 1.1-5.5 3.4-3.5 .8-5-.5-.6 .6-.4 4.5-1 3.5-3.5 6.5-2.3 6-3.4 5-4.3 3.8-5.5 2.9-6.5 1.5-3.5 0-3.5-.4-7-2.3-6 .9-.9 .6-2 2.5z"/>
<path fill="#54f826" d="M135 214.6l-6 0-4-.9-5-1.9-4.5 .8-2.8-.6-.3-.5 1.6-2 3.5-2.5 4.5-2.5 4.5-1.7 .8-8.8 2.8-7 6.9-7.7 7-4.8 7.5-2.7 5.5 .7 9-.6 4.5-4.5 6-2.4 17.3-11.5 6.2-.2 5.5-2.8 6-3.8 7-2.8 6-5.9 2.9-6 2.4-7 2.7-3.2 4.5-3.4 7-1.2 4.5 .8 1.5 1.5 .7 1-.8 2 1.1 6.3 .1 2.7-.7 6.5-1.9 5.6 1.1 2.9 0 1-4.1 4.4-3.5 2.4-3 1.5-3.5 1.1-5.5 1-3.5 1.9-3 1.2-5 .6-6.5-.9-9 3.7-6.5 1-14.5 9.3-7 2.5-6 3.5-3.5 .4-5-1.8-.6 .7-.3 5.5-.9 4-3.4 6-2 5.5-2.3 4-3.1 3.5-3.9 2.9-4 1.9zM108 217l-2-.4-.7-.6-.1-.5 2.1-1.5 4.2-1.9 .4 .4-1.1 3-1.3 1.1z"/>
<path fill="#80f91a" d="M168.5 180l-3 .2-2.2-1.2-2.7-4-.8-2 .4-.5 5.8-.6 4.5-4.5 6-2.3 17.4-11.6 6.1-.2 5.5-2.7 6-3.8 7-2.9 6-5.9 2.9-6 2.5-7 2.6-3.2 4.5-3.4 7-1.1 4.5 .9 1.5 1.8 .5 1-1.1 2 .9 6.5-.2 4-.6 4.5-1.5 5 1.5 3.6-2.5 3.1-3 2.6-5.5 3.1-3.5 1-5 .8-4 2.1-3 1.1-5 .5-6.3-.9-8.7 3.8-6.5 .8-15 9.6-7 2.5zM133 214l-6.5-.6-7.5-2.9-3.5 .1-.8-.6 .1-.5 .9-1 3.6-2.5 2.7-1.5 4.5-1.6 .8-8.9 2.9-7 6.7-7.5 6.6-4.6 2-1 6-2 3.6 .6 1.7 2 1.5 3.5 .6 3.5 0 3.5-1.3 5-3.1 5.4-2.2 6.1-3.5 5-4.3 3.7-5.5 2.7z"/>
<path fill="#a6fb11" d="M167 179l-1.5-.4-1.4-1.6-2-3.5 .2-1 4.2-.7 4-4.3 6-2.3 17.5-11.6 6-.2 5.5-2.7 6-3.9 7-2.9 6.1-5.9 2.8-6 2.5-7 2.6-3.1 4.5-3.4 6.5-1.1 5.1 1.1 1.5 3-1.4 2 .7 5 0 3-.8 5.5-1.3 4 .2 1 1.6 3.5-.1 .9-2.5 3-3 2.6-5.5 3-3.5 1-5 .7-6.5 3.1-5 .5-6-1-9.5 4-6 .7-15.5 9.8-6.6 2.2-5.4 2.5zM136 213l-5 .4-5-.8-4.5-1.7-4-2.2-.5-.7 .9-1 3.4-2 5.1-2 .4-.5 .5-8.5 2.9-7 6.7-7.5 7.6-5.1 7-2.4 2.6 .5 2.5 3.5 1.4 4.5 .1 5-1.3 4.5-2.8 4.9-2.4 6.6-3.1 4.5-2.7 2.5-2.9 2-3.4 1.6z"/>
<path fill="#c7fc0b" d="M167.5 176.1l-1 0-.8-.6-1.5-2.5 .3-.5 2-.5 4.2-4.5 5.8-2.2 17-11.4 6.5-.5 5.5-2.6 6-3.9 7.5-3.3 5.6-5.6 2.9-6 2.1-6.5 2.9-3.6 4.5-3.4 7-1.1 2.8 .6 1.5 1 1.4 2.5-1.7 2.5 .5 7-.7 5-1.3 4 2.4 5.5-2.8 3.5-3.1 2.6-5.4 2.9-3.6 1-5 .7-3.5 2-3 1-4.5 .5-6-1.1-9.5 4.1-6 .7-16.5 10.2-4 1.4-6 .4zM135.5 212.5l-5 .3-4.5-.8-4.8-2-2.7-1.7-.6-.8 3.5-2.5 5.1-2 .3-.5 .6-8.5 2.8-7 6.8-7.5 7.5-5.1 7-2.3 1.6 .4 1.8 2 1.5 3 .8 3 .3 3.5-1 4.8-3 5.5-1.9 5.7-2.7 4.5-3.9 3.9-4.5 2.6z"/>
<path fill="#e8fe04" d="M176.5 174.1l-2 .1-6.5-1.4-.9-.3 0-.5 3.8-4.5 5.6-2.1 17-11.4 6-.3 6-2.9 6-3.9 7.5-3.2 5.7-5.7 2.8-6 2.1-6.5 2.9-3.6 4.5-3.3 6.8-1.1 2.2 .5 1.4 1 1.8 3-2.2 3 .5 6-1.5 8 1.7 3.5 .8 2.5-2.3 3-2.7 2.5-3 2-3 1.4-3.5 1-5 .6-6.5 3-4.5 .5-6-1-9.5 4.1-6.5 .8-15.3 9.6zM134.5 212l-4.5 .1-4.5-.9-4.7-2.2-1.8-1.2-.3-.8 3.7-2.5 4.2-1.5 .8-9 2.9-7 6.7-7.5 7.5-5 6-2 1.5 0 1.9 2 1.7 3 .9 3.3 .2 3.2-.9 4.5-2.8 5.1-2 6.2-2.9 4.7-3.7 3.5-4.4 2.5z"/>
<path fill="#fffb03" d="M176 173l-1.5-.1-5.4-1.9-.4-.5 .2-.5 2.3-2.5 5.8-2.3 16.6-11.2 6.4-.4 5.5-2.7 6-3.9 7.5-3.2 5.7-5.8 2.9-6 2-6.5 2.9-3.5 4.5-3.4 6.5-.9 1.5 .3 1.5 1.2 2.2 3.3-2.7 3.5 .4 5.5-1.3 5.5 3 6.5-.1 .9-2.4 3.1-2.7 2.5-5.4 3.1-3.5 1-5.5 .7-6 2.8-4.5 .5-6-.9-9.9 4.3-6.6 .7-15.2 9.3zM135.5 211.1l-4.5 .3-4-.6-4.5-1.7-3-2.1 .7-1 2.4-1.5 4.1-1.5 .7-9 2.9-7 6.7-7.4 7.6-5.1 4.6-1.5 2.2 0 2.1 2.4 1.3 2.6 .8 3 .2 3-.8 4-2.9 5.5-1.6 5.5-2.5 4.4-3.5 3.6-4.1 2.5z"/>
<path fill="#fff00d" d="M174.5 171l-4-1.5-.1-1 1.2-1 4.9-1.8 17.3-11.7 6.2-.2 6-3.1 5.6-3.7 7.4-3.2 5.7-5.8 2.9-6 2.1-6.5 2.8-3.5 4-3 1-.5 6.4-.5 1.1 .8 1.7 2.2 1.3 2.5-3 3.5 .2 4.5-.7 4.5 3 6.5 0 1-2.6 3.5-3.4 3-5 2.5-3.5 .9-5 .5-3.8 2.1-2.7 .9-4 .2-5.5-.9-10.3 4.3-6.7 .2-16 9zM136 210l-4.5 .5-4-.5-4.1-1.5-3-2 .8-1 1.6-1 4-1.5 .7-9 2.8-7 2.2-2.5 4.7-5 6.7-4.5 4-1.5 2.6 0 2.5 3 1.4 3.5 .4 4-.8 4-2.8 5-1.9 6.5-2.6 4-2.2 2.3-2.5 1.8-3 1.5z"/>
<path fill="#ffe417" d="M174.5 168.1l-2.2-.1 4.7-2.2 6.5-4.8 10.5-7 6-.1 6-3 5.8-3.9 7.2-3.1 5.8-5.9 2.8-6 2.1-6.5 2.9-3.5 4.4-3.3 2.5-.4 3.6 .2 3.4 4 .8 1.5-3.3 4-.4 5.5 .3 1.5 3.1 6.5 0 .9-3 4.1-3.6 3-5.7 2.5-7.2 .9-3.5 2-3 1-4 .1-5.5-1.3-10.5 3.8-6.5-.3-16.5 8.7zM136 209l-4 .5-4-.4-4-1.4-2.6-1.7 1.7-1.5 3.8-1.5 .6-9 3.2-7.5 7.3-7.5 6-4 2.7-1 2.3-.2 2.5 2.3 1.8 3.9 .5 4-.8 3.5-2.5 4.5-1.8 6.5-2.4 4-2.3 2.4-2.5 1.9z"/>
<path fill="#ffd821" d="M201 155.6l-2 .2-3.9-.8 .5-.5 4.4-.2 6.5-3.5 5.5-3.8 7-3.1 5.8-5.9 2.9-6 2-6.5 2.9-3.5 4.4-3.2 1-.3 3.2 0 2.8 2.5 2.5 4-2.6 3 0 1-.5 .5 0 4 3.1 7.3-2.3 3.7-3 3-5.2 2.9-3.5 .9-5 .3-4 2.3-2.5 .8-4.5 0-6-2.1zM133 208.5l-3 0-3-.6-3-1.2-1.6-1.2 1-1 3.6-1.5 .6-9 3.2-7.5 6.6-7 6.8-4.5 3.8-.7 1.6 1.2 1.8 2.5 1 2.5 .3 3-.6 3.5-2.6 4.7-1.6 6.3-2.4 4-3.5 3.3-4.5 2.3z"/>
<path fill="#ffcc29" d="M220.5 153.6l-2.5 .1-2.5-.5-6-3.7 2.7-2.5 6.8-3 5.5-5.6 3.2-6.4 2.1-6.5 2.7-3.3 4.5-3.4 1.5-.3 2 .2 1.7 1.8 3.3 5.3-1.8 2.2 .1 1-.5 .5 0 4 2.4 6-1 2-3.1 4-4.1 2.9-4.5 1.5-6 .4-4 2.5zM134 207.5l-3 .1-3-.4-3-1.1-1.6-1.1 3.7-2 .4-8 .5-2 2.5-6.1 6.5-7 7.5-4.9 2.5-.2 1.6 1.2 1.6 2 1.1 2.5 .4 2.5-.5 3.5-2.5 4.5-1.6 6.5-2.1 3.6-3 3.1-4 2.3z"/>
<path fill="#ffbd2d" d="M221.5 152l-3 .5-3-.6-2.9-1.9-1.1-1.4-.1-.6 1.2-1 6.4-2.9 5.9-6.1 2.9-6 2-6.5 2.7-3.3 4.5-3.3 2-.4 1.4 .5 4.1 7.7-1.3 2.8 0 4 1.8 4.2-1.5 3.3-2.7 3.5-3.8 2.7-4.5 1.5-6 .3zM134.5 206.5l-5 .1-4.7-1.6-.2-.5 2.6-1.5 .3-7.4 .5-2.6 2.5-6 6.5-7 6.9-4.5 2.1-.1 1.6 1.1 1.7 2 .9 2 .4 2.5-.6 3.5-2.3 4-1.2 6-1.8 3.5-2.7 3-3.5 2.3z"/>
<path fill="#ffaf31" d="M220 151l-2.5 0-2-.6-2-1.5-.8-1.4 1.3-1 5-2.2 5.6-5.8 3.2-6.5 2-6.5 2.7-3.2 4.5-3.4 1.5-.2 1.3 .3 1.8 3 1.9 5.6 0 1.4-.4 .5 0 4 .5 .5 .4 2.5-1.6 4-2.9 3.5-3.5 2.3-4.5 1.3-6 .1-3 2.4zM134.5 205.6l-4.5 .1-4-1.2 0-.5 1.4-1 .1-6.7 .5-3.2 2.5-6.1 5.5-5.8 1.8-1.7 4.7-3 1-.5 1.5 0 2 1.4 1.3 1.6 .9 2 .3 2-.5 3.2-2.2 3.8-1.1 6-1.7 3.4-2.5 2.8-3.5 2.3z"/>
<path fill="#ffa034" d="M220 149.1l-3-.1-1.7-1-.7-1 1.1-1 3.3-1.6 5.7-5.9 3.2-6.5 2-6.5 2.6-3.2 4.5-3.3 2.3 0 2 3.5 1.7 8 0 5-.8 2.5-1.2 2.3-2.5 2.9-3.5 2.1-4.5 1.1-6-.4-2.5 2.1zM135 204.5l-4 .4-3.7-.9 .6-10.5 2.6-6.4 3-3.3 3.9-3.8 2.2-1.5 2.6-1.5 1.8-.1 1.5 .8 1.5 1.4 1 1.9 .4 2-.6 3-2 3.5-.9 6-1.4 3-2.5 2.9-3 2.1z"/>
<path fill="#ff9237" d="M220 146.1l-1.5 .3-.9-.4 .1-.5 3.6-2.5 3.5-4.5 2.9-6 2.2-7 3.6-4 3.7-2.5 1.6 0 1.2 1.5 1.1 3 .8 9-.5 4-1.7 3.5-2.7 2.7-3.5 1.9-2.5 .5-2.5 0-6.5-1.5zM135 203.5l-3.5 .4-3.5-.7-.5-2.7 .4-7 2.6-6.3 3-3.3 3.5-3.4 2.5-1.5 2-.9 1.5 .1 2.6 1.8 1.1 3-.2 2-1.8 3.5-.2 4-.5 2.5-1.4 3-2 2.5-2.6 1.8z"/>
<path fill="#ff8636" d="M232.5 143.5l-2.5 .4-3-.3-3.5-1.5-.5-1.1 2.2-3 2.6-5.5 2.1-7 3-3.5 3.6-2.5 1.5-.5 .9 .5 .7 1 1.1 3.5-.4 11.5-.9 2.5-1.9 2.6-2.5 1.9zM134.5 202.6l-3.5 .3-3-.9-.3-3 .3-5.6 2.7-6.4 4.8-5 1.5-1 4-.9 1.5 .2 1.5 1.1 .6 1.6-.2 1.5-1.1 2.5 .3 4.5-.7 3.5-1.4 2.8-1.9 2.2-2.6 1.7z"/>
<path fill="#ff7935" d="M230 142.5l-4-.7-1.6-.8-.4-1 1.4-2 2.5-5.5 2.1-7 3-3.5 3.8-2.5 1.2-.1 1.5 2.1 .8 3.5-1.5 11-1.3 2.5-2 2-2.5 1.4zM134.5 201.5l-4 .3-2-.5-.5-.5 0-7.3 2.7-6.5 4.3-4.3 1.5-.9 3 1.2 2-.1 .3 .6-.4 2 1.1 5.5-.7 4-1 2-1.8 2.1-2 1.4z"/>
<path fill="#ff6d35" d="M229.5 141l-3-.6-1-.6-.3-.8 3.1-7.5 1.7-6 3-3.5 3.2-2 1.3-.3 1.5 2.2 .6 3.1-.3 2.5-1.4 3.5-.6 4.5-1.3 2.4-1.7 1.6-2.3 1.2zM134 200.6l-3 .2-2.5-.7-.5-1.1-.1-5 3.1-7.3 3.5-3.4 1.5-.7 2.3 1.4 1.7 2 1.2 3 .2 3-.7 3-1.6 2.5-2.4 2z"/>
<path fill="#ff6034" d="M231.5 139.1l-3.5 .1-1.6-.7-.4-1 2.3-5.5 1.7-6.4 3-3.5 2.5-1.6 1.5-.2 .9 1.2 .7 2-.2 3.5-2 4-.4 3.3-.6 1.7-1.7 2zM134 199.5l-3 .2-2.5-.7-.5-1 0-4 3-7.2 3-2.9 1.5-.5 2.4 1.6 1.5 2 .9 2.5 .1 2.5-.6 2.5-1.3 2.1-2 1.8z"/>
<path fill="#ff5233" d="M230 137.5l-2.5-.5-.5-1 1.7-5 1.3-5.3 3-3.5 3-1.4 .8 .7 .8 2 .2 2-.5 2-2.7 4-1.1 4-1.5 1.4zM134 198.5l-3 .3-2.4-.8-.5-1.5-.1-2 2.9-7.5 2.1-2 1.5-.8 2 .9 1.8 1.9 .9 2 .3 2.5-.5 2.5-1.2 2-1.8 1.6z"/>
<path fill="#ff4433" d="M230.5 134.1l-1.5 .1-.5-.7 1.5-7.7 3-3.5 2.5-1 .9 1.2 .5 1.5-.3 3-1.6 2.5-3.4 2.5zM134 197.5l-2.5 .4-2.5-.7-.5-.4-.4-2.3 .9-3 2-4.5 2-1.7 1-.4 1.5 .6 1.6 1.5 1.1 2 .4 2-.3 2-.9 2-1.5 1.5z"/>
<path fill="#ff3732" d="M232.5 130.1l-2 .3-1-.4 0-2 .5-2 3-3.6 2-.6 1.1 2.2-.1 2.5-1.1 2zM134 196.6l-2 .4-2-.3-1.5-1.1-.2-1.1 .7-2.8 2-4.5 1.5-1.3 1-.2 1.5 .6 1.3 1.2 .9 1.5 .5 2-.3 2-.8 1.5z"/>
<path fill="#fd2b34" d="M231 129.5l-1.3-.5 .3-3 3-3.5 1.5-.2 1 2.2-.5 2.5-1.5 1.7zM132.5 196l-2.9-.5-.6-.4-.5-1.1 1-3.3 1.5-3.2 1-.8 1-.2 1.5 .6 1.4 1.4 .7 1.5 .1 1.5-.3 1.5-1 1.5-1.4 1.1z"/>
<path fill="#f62439" d="M232 128.6l-2-.1 0-2.1 1.5-2.2 2-1.6 .7 .4 .4 1 0 2-.8 1.5zM132.5 195.1l-2-.2-1-.6-.5-.8 1-3.7 1-1.8 1-.7 1.2 .2 1.3 .8 .9 1.2 .4 1.5-.8 2.5-1 1z"/>
<path fill="#ef1c3f" d="M231 128l-.9-.5 .4-2 2-2.1 1-.1 .5 1.7-.4 1.5-1.1 1.1zM132.5 194l-2-.2-1-1.3 1-3.2 .5-.7 1-.3 2 .9 .8 1.8-.7 2z"/>
<path fill="#e91544" d="M232 127l-1.5 .1-.1-1.1 1.1-1.5 1-.7 .5 .2 .2 1.5zM133 192.5l-1.5 .4-1-.6-.2-1.3 .7-1.3 1-.3 1.2 .6 .4 1.5z"/>
<path fill="#e0104a" d="M231.5 126.3l-.5 0 0-.8 1-1 .3 1z"/>
</g>
</g>
<rect x="252.5" y="196" width="10.8" height="59.9" fill="url(#gud)"/>
<path d="M263 196h5.8M263 226h5.8M263 255.9h5.8" stroke="#262626" stroke-width="1.1"/>
<text x="272.8" y="198.8" class="cb">5.</text>
<text x="272.8" y="228.8" class="cb">2.</text>
<text x="272.8" y="258.7" class="cb">-1.</text>
<text transform="translate(305.7,224.95) rotate(-90)" text-anchor="middle" class="cbl" textLength="32.3" lengthAdjust="spacingAndGlyphs">UD(m)</text>
</g>
<g transform="translate(0.8,891.8)">
<path d="M406.5 4.38H677.4V270.3H406.5z" fill="none" stroke="#404040" stroke-width="1.15"/>
<path d="M399.9 257h13.2M399.9 222.9h13.2M399.9 188.8h13.2M399.9 154.7h13.2M399.9 120.6h13.2M399.9 86.5h13.2M399.9 52.4h13.2M399.9 18.3h13.2M435.4 263.5v13M469.5 263.5v13M503.6 263.5v13M537.7 263.5v13M571.8 263.5v13M605.9 263.5v13M640 263.5v13M674.1 263.5v13" stroke="#303030" stroke-width="1.1"/>
<text x="399.5" y="259.9" text-anchor="end" class="tr" textLength="14.7" lengthAdjust="spacingAndGlyphs">-20</text>
<text x="399.5" y="225.8" text-anchor="end" class="tr" textLength="5.75" lengthAdjust="spacingAndGlyphs">0</text>
<text x="399.5" y="191.7" text-anchor="end" class="tr" textLength="11.5" lengthAdjust="spacingAndGlyphs">20</text>
<text x="399.5" y="157.6" text-anchor="end" class="tr" textLength="11.5" lengthAdjust="spacingAndGlyphs">40</text>
<text x="399.5" y="123.5" text-anchor="end" class="tr" textLength="11.5" lengthAdjust="spacingAndGlyphs">60</text>
<text x="399.5" y="89.4" text-anchor="end" class="tr" textLength="11.5" lengthAdjust="spacingAndGlyphs">80</text>
<text x="399.5" y="55.3" text-anchor="end" class="tr" textLength="17.25" lengthAdjust="spacingAndGlyphs">100</text>
<text x="399.5" y="21.2" text-anchor="end" class="tr" textLength="17.25" lengthAdjust="spacingAndGlyphs">120</text>
<text x="435.4" y="285.3" text-anchor="middle" class="tr" textLength="5.75" lengthAdjust="spacingAndGlyphs">0</text>
<text x="469.5" y="285.3" text-anchor="middle" class="tr" textLength="11.5" lengthAdjust="spacingAndGlyphs">20</text>
<text x="503.6" y="285.3" text-anchor="middle" class="tr" textLength="11.5" lengthAdjust="spacingAndGlyphs">40</text>
<text x="537.7" y="285.3" text-anchor="middle" class="tr" textLength="11.5" lengthAdjust="spacingAndGlyphs">60</text>
<text x="571.8" y="285.3" text-anchor="middle" class="tr" textLength="11.5" lengthAdjust="spacingAndGlyphs">80</text>
<text x="605.9" y="285.3" text-anchor="middle" class="tr" textLength="17.25" lengthAdjust="spacingAndGlyphs">100</text>
<text x="640" y="285.3" text-anchor="middle" class="tr" textLength="17.25" lengthAdjust="spacingAndGlyphs">120</text>
<text x="674.1" y="285.3" text-anchor="middle" class="tr" textLength="17.25" lengthAdjust="spacingAndGlyphs">140</text>
<text x="341.6" y="139.6" class="al2" textLength="44.2" lengthAdjust="spacingAndGlyphs">Northing</text>
<text x="541.9" y="298.4" text-anchor="middle" class="al" textLength="60.5" lengthAdjust="spacingAndGlyphs">Easting(km)</text>
<text x="346.4" y="20.6" class="pl" textLength="20.6" lengthAdjust="spacingAndGlyphs">(h)</text>
<use href="#rm"/>
<g filter="url(#bl)">
<path fill="#321a4e" d="M607 138.8l-.2-1.3-1-1.5-.6-2.5-1-1.5-1-4-1-1.5-.4-2.5-1-1.5 .7-.3 3.5-3.4 .5 0 5.3-5.3 1-2 1.4-1.5 0-.5 2-2.5 2.6-5 0-1 2.4-4.5 0-1 5.6-6.5 1-2 0-1 1-1.5 0-1 1-1.5 0-1 1-1.5 0-1 1-1.5 0-1 1-2 0-1.5 .4-.5 0-1.5 .6-.5 0-1.5 .4-.5 0-1.5 .6-.5 .4-3 .6-.5 0-2 .4-.5 0-2 .6-.5 0-2 .4-.5 0-2 .6-.5 0-5 .4-.5-.4-6-.6-.5-.4-4-.6-.5 0-1-1-2 .3-.8 3.3 3.3 0 .5 2 2 0 .5 3 3.5 3 6 1 1 1 2 0 7.5 .4 .5 0 2-.4 .5-.6 5-.4 .5 0 1.5-.6 .5 0 2-.4 .5 0 1.5-.6 .5 0 1.5-.4 .5 0 1.5-.6 .5 0 1.5-.4 .5 0 1.5-.6 .5 0 1.5-.4 .5 0 1.5-.6 .5-.4 3.5-.6 .5-.4 2.5-1 1.5 0 1-1 1.5 0 1-1 1.5 0 1-2 4-1 1-.6 1.5-1 1-.4 1.5-2.6 3.5-1 2.5-1 1-1 2.5-1 1-2 4-10.7 11.2-.5 0-1.5 1.6-.5 0z"/>
</g>
<polygon points="498.4,169 501,167.5 506.8,165.3 511.2,163.9 516.3,163.1 519.9,162 522.8,161 527.6,160.2 527.8,160.8 525,163.1 522.1,165.7 519.2,166.4 514.8,167.5 511.9,169.5 509.7,172.8 504.6,173.6 501.7,173.5 499.5,171.5" fill="#210c31"/>
<rect x="592.3" y="198" width="11" height="60.3" fill="url(#gsl)"/>
<path d="M603 198h6M603 258.3h6" stroke="#262626" stroke-width="1.1"/>
<text x="612.6" y="200.8" class="cb">8.</text>
<text x="612.6" y="261.1" class="cb">0.</text>
<text transform="translate(645.1,226.6) rotate(-90)" text-anchor="middle" class="cbr" textLength="38.9" lengthAdjust="spacingAndGlyphs">Slip[m]</text>
</g>
</svg></body></html>
